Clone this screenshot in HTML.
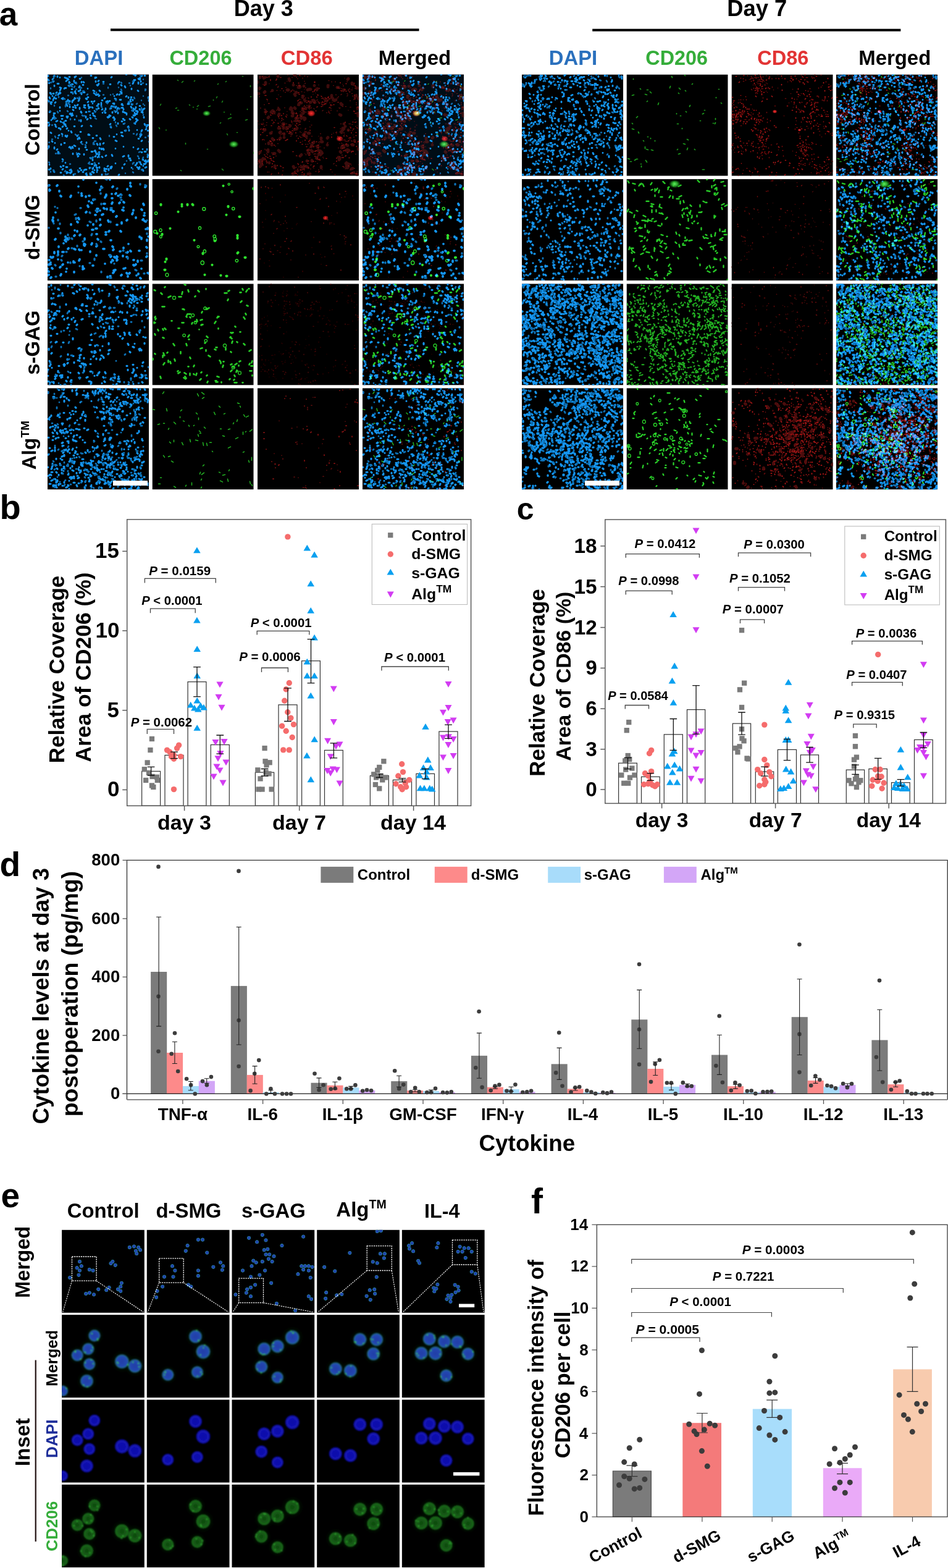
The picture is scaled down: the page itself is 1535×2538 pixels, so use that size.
<!DOCTYPE html><html><head><meta charset="utf-8"><style>html,body{margin:0;padding:0;background:#fff}svg{display:block}</style></head><body><svg width="1535" height="2538" viewBox="0 0 1535 2538" font-family="Liberation Sans, Arial, sans-serif" font-weight="bold"><defs><filter id="soft" x="-5%" y="-5%" width="110%" height="110%"><feGaussianBlur stdDeviation="0.45"/></filter><filter id="soft2" x="-10%" y="-10%" width="120%" height="120%"><feGaussianBlur stdDeviation="0.9"/></filter><radialGradient id="glowG"><stop offset="0" stop-color="#60f060"/><stop offset="0.5" stop-color="#30c030" stop-opacity="0.8"/><stop offset="1" stop-color="#108010" stop-opacity="0"/></radialGradient><radialGradient id="glowR"><stop offset="0" stop-color="#ff3030"/><stop offset="0.6" stop-color="#d02020" stop-opacity="0.8"/><stop offset="1" stop-color="#801010" stop-opacity="0"/></radialGradient><g id="D00" fill="none" stroke-linecap="round"><rect width="164.2" height="164.2" fill="#020a12"/><path d="M143 59l0 0M63 160l-1 1M38 65l2 1M155 148l0 0M153 90l-1 2M93 62l1 0M144 76l-1 1M4 61l-1 0M107 69l1 2M25 153l-1 1M84 119l0 1M94 55l0 2M161 84l-1 1M68 151l-0 1M34 8l-2 1M19 98l-1 1M51 157l-1 1M31 10l-1 1M150 8l0 0M41 31l-0 0M28 111l-1 0M88 133l1 1M157 140l1 1M146 26l1 1M92 155l0 1M62 61l1 0M54 74l-0 2M22 22l-0 0M44 50l1 1M71 145l2 0M111 60l-1 1M32 43l-2 1M21 30l-1 1M128 65l-0 0M62 68l-0 2M136 151l-0 0M20 29l-1 1M30 150l2 0M78 5l-1 1M145 150l1 1M20 5l0 0M141 79l1 1M87 46l-0 1M30 22l-2 0M38 158l0 1M149 6l1 0M120 49l2 1M150 97l2 1M95 131l-1 1M55 109l-1 1M11 118l0 2M92 152l-0 1M83 55l-1 0M31 48l-1 0M80 112l1 2M82 32l-2 1M78 125l-0 1M133 72l1 1M105 61l0 1M85 103l1 2M51 42l-1 1M117 32l-1 1M81 151l-1 1M123 56l0 1M23 72l1 0M4 30l1 0M74 26l2 1M100 66l2 1M7 108l1 1M156 145l1 0M56 83l-1 1M55 12l0 1M74 151l-1 2M139 66l1 1M43 115l2 1M139 13l-1 2M51 102l1 2M73 47l0 0M44 28l1 1M121 151l-0 1M78 132l-1 1M143 1l-1 1M52 7l1 0M93 156l1 1M132 90l0 1M66 44l-1 1M152 16l-1 0M149 7l0 1M151 11l-0 1M123 72l-1 0M50 128l2 1M27 23l0 0M21 76l1 1M51 120l0 1M99 153l0 2M22 159l-1 0M16 15l2 0M150 100l0 1M154 154l1 2M73 63l1 0M131 37l0 1M124 61l1 1M49 104l-0 1M41 57l1 1M33 41l1 2M115 55l0 0M90 12l1 0M5 152l-0 1M147 104l1 0M35 4l1 0M25 148l1 0M102 16l-1 0M3 146l-0 0M28 5l2 1M141 66l1 0M83 15l-1 2M21 24l-1 2M119 94l2 0M160 88l-1 1M9 41l0 1M83 48l-1 0M157 80l1 2M132 47l-0 1M89 62l0 0M102 85l1 1M20 21l2 1M2 43l-0 1M69 70l1 1M40 117l1 2M83 144l0 0M157 2l1 0M42 162l0 1M12 81l1 1M61 50l-2 0M54 93l-1 0M147 13l0 2M25 84l-1 1M140 9l0 2M142 9l0 0M153 2l-1 1M108 47l-1 0M157 55l-1 1M80 158l-0 0M41 66l-2 1M25 78l2 1M84 150l-0 1M52 152l1 0M147 153l0 0M159 125l-2 0M137 58l2 1M64 163l-1 0M59 53l2 1M110 120l0 0M108 101l-1 0M19 87l2 1M154 121l-0 0M30 75l-1 0M76 67l1 1M40 24l-1 0M139 55l1 2M143 53l-0 1M113 32l-1 1M109 53l-0 0M37 118l1 2M151 145l1 1M114 62l-0 1M63 110l0 1M37 63l-1 1M58 17l-1 0M20 59l0 0M59 129l0 1M161 121l0 1M102 152l1 0M75 30l1 1M16 75l-2 1M155 138l-1 0M136 48l1 1M53 25l0 1M83 130l-0 1M31 49l1 2M38 154l-2 1M106 70l0 0M88 162l-0 1M55 30l0 2M2 116l0 2M162 130l1 1M18 31l-1 2M65 72l-1 1M13 45l-1 1M119 17l1 1M152 97l-0 1M142 56l0 0M31 158l-0 2M13 39l1 0M67 53l2 0M72 44l-1 0M135 52l1 2M76 43l-1 1M136 23l0 1M46 13l-1 1M84 26l1 1M10 66l0 1M54 61l1 1M131 84l-1 1M41 42l1 0M5 31l1 1M89 56l-1 1M95 44l-0 1M40 43l0 2M6 74l-0 0M31 68l-0 1M3 37l1 2M73 138l0 1M163 37l-0 1M24 137l1 1M138 41l0 1M79 128l0 1M74 66l1 1M41 128l-0 1M52 39l-1 1M159 139l0 1M39 156l-0 1M66 97l2 1M148 136l0 0M10 157l1 1M3 81l-1 2M155 56l-1 2M38 92l1 2M31 6l2 1M75 159l-1 0M23 96l1 1M63 39l-1 0M145 59l1 1M58 158l-1 0M50 132l-1 1M36 13l-1 1M3 154l-1 0M147 120l-1 1M77 146l-1 2M67 54l0 1M17 125l1 1M97 69l1 1M85 112l0 2M104 150l-1 1M77 123l-1 1M5 47l1 1M135 40l-1 1M145 143l-1 2M79 150l-0 0M150 142l0 1M29 81l0 1M131 46l-1 2M82 129l2 0M38 29l2 0M126 62l2 1M11 37l-1 2M103 55l-1 0M104 130l1 2M152 97l-1 2M58 12l1 1M125 19l1 2M84 34l-1 1M92 59l0 1M139 0l2 0M15 29l-1 1M120 99l2 1M44 73l-0 0M122 60l-0 1M96 153l-2 0M106 47l2 1M114 54l-1 2M83 10l-1 1M87 120l0 1M108 35l0 0M79 56l1 1M90 120l-2 1M23 39l2 1M123 80l0 0M61 154l-2 1M45 30l1 1M39 16l2 0M80 99l-1 0M163 139l0 2M145 64l-2 0M114 79l0 1M67 97l-1 1M18 87l-0 0M10 63l2 0M116 162l-1 1M123 117l-0 0M100 43l1 0M123 56l0 0M39 158l-1 0M61 154l2 0M120 48l1 0M37 17l0 1M134 43l1 1M87 49l-0 1M11 2l-1 1M147 7l1 1M29 143l-0 0M125 74l-1 0M61 118l1 0M46 3l-1 1M25 38l0 2M143 147l-1 0M36 43l-0 1M17 127l-0 1M23 67l-1 0M91 111l-1 1M131 131l-0 2M125 145l-1 1M44 4l-0 1M32 99l-1 2M119 41l-2 0M99 68l1 1M70 83l1 1M98 148l-1 1M36 117l-1 1M69 162l2 0M104 149l-2 1M89 42l-1 0M35 12l-0 1M144 73l2 1M33 68l-1 2M104 51l-1 1M29 99l0 1M80 17l1 1M69 66l0 0M111 52l-1 2M76 155l-0 0M36 159l1 1M9 7l-1 1M54 155l1 0M36 52l-0 1M77 5l2 0M54 60l1 2M52 19l-1 2M25 67l-0 0M162 133l-0 1M149 56l-0 1M11 18l0 1M116 12l-1 1M91 121l-0 1M32 87l-1 1M109 72l-1 2M153 60l1 2M137 69l1 1M160 16l-0 0M12 111l0 0M93 38l-1 1M52 54l-0 2M119 29l1 2M10 11l-1 1M16 3l0 1M128 0l-1 0M13 84l1 1M44 38l0 1M73 103l1 0M164 42l0 1M161 141l-1 1M48 99l0 1M11 69l1 2M8 35l0 0M102 80l-1 1M5 45l2 0M48 129l-0 1M9 70l-1 2M67 60l-0 0M65 23l0 0M73 135l-1 0M76 59l0 0M125 91l2 0M153 107l-1 1M1 2l0 1M79 33l-1 0M83 133l-2 1M1 78l1 0M106 52l2 0M41 53l1 0M81 50l-1 1M73 157l-1 1M147 151l1 2M40 63l-1 2M118 28l2 1M156 69l0 1M45 27l0 0M81 128l-1 1M71 2l-1 0M65 37l1 0M27 79l-0 2M69 160l1 1M150 51l-1 0M1 8l1 2M120 76l1 0M97 43l1 2M17 103l0 0M120 99l0 0M2 14l1 0M109 39l2 1M64 122l-1 0M46 54l-1 0M135 139l-1 0M135 37l1 0M9 31l1 0M154 61l-2 0M66 49l0 2M45 39l-2 1M71 125l2 0M159 144l-1 1M34 91l0 0M60 29l-2 0M110 107l2 1M29 83l1 1M78 11l0 1M72 53l1 1M141 62l0 1M132 136l2 0M149 150l-0 1M64 40l-1 0M81 155l-1 0M69 135l1 1M145 90l0 0M51 27l-1 0M16 121l-1 1M34 18l1 1M5 94l1 1M122 54l-2 0M143 72l1 0M163 82l-2 0M104 4l-1 1M145 61l1 0M110 144l-0 0M43 10l-0 2M124 132l-2 1M153 126l-1 0M84 126l-1 0M139 118l-0 0M22 113l0 1M79 147l0 0M163 91l-1 0M128 35l-1 1M49 49l-1 1M21 88l-0 1M160 150l-2 1M32 158l1 1M21 149l1 1M43 84l1 0M112 97l-0 0M20 53l0 1" stroke="#1296f2" stroke-width="2.8"/><path d="M87 52l1 1M119 13l1 1M138 58l-1 1M52 37l-1 0M145 96l-1 2M115 21l-0 0M163 99l0 1M65 32l-1 1M11 50l-0 1M68 142l-1 1M138 144l0 1M159 102l-1 0M44 161l1 0M125 79l-1 1M159 25l-1 1M12 100l1 2M13 128l1 0M54 21l1 1M5 157l-0 1M101 55l0 1M47 67l-0 1M39 19l1 1M70 136l1 0M10 155l1 2M11 72l1 0M51 74l0 1M70 151l0 0M114 14l0 1M78 60l-1 1M26 163l1 1M27 39l1 1M155 134l-1 2M29 156l-1 1M10 5l0 1M14 33l-1 1M76 143l1 1M35 48l1 1M90 15l1 0M79 29l0 2M110 77l0 1M79 56l1 0M92 59l1 1M24 99l-0 1M159 24l-1 0M7 105l1 0M108 59l1 0M30 45l-0 1M72 135l-1 1M139 96l1 0M25 140l-1 1M45 97l1 1M2 110l1 0M132 86l-1 1M103 84l-1 0M155 8l-0 0M2 142l1 1M56 66l1 1M59 27l-2 0M39 17l-2 1M82 51l-0 1M154 14l1 0M98 161l-2 1M106 32l-0 0M133 14l-1 0M16 60l1 2M31 46l0 1M32 59l1 1M152 54l0 2M119 24l1 2M140 37l1 2M18 36l-0 1M90 33l1 0M127 90l-1 2M151 95l-0 1M102 33l-0 0M1 42l-1 0M35 18l1 1M74 113l2 0M94 161l0 1M84 134l-0 0M36 145l1 0M50 98l-0 0M12 3l-1 0M5 22l-0 1M49 155l-0 1M83 127l-1 1M164 109l1 0M44 19l-1 2M150 2l1 1M140 79l0 0M96 46l1 1M146 132l1 1M33 34l1 0M110 41l1 1M55 112l2 1M4 59l1 1M37 72l0 1M6 13l-1 0M138 153l-0 0M1 120l-2 1M7 82l1 0M60 67l-1 0M10 155l-1 0M77 71l2 1M34 45l0 2M48 38l1 1M163 38l0 1M61 114l1 1M75 110l-1 1M27 76l0 1M117 55l-1 1M111 82l1 2M66 144l2 1M134 18l-0 0M78 108l-2 0M139 143l1 0M69 60l-0 0M162 129l0 0M150 125l-2 1M54 21l-1 1M12 70l2 1M108 52l-2 1M138 48l0 0M20 128l-1 0M126 160l-0 0M47 127l-0 0M98 21l-0 1M40 29l1 1M152 154l1 1M55 5l0 0M131 44l2 1M47 14l0 1M152 56l-1 2M157 50l0 0M54 30l-1 0M74 134l-1 0M8 11l1 0M100 99l0 1M138 11l1 0M138 158l1 1M155 35l0 0M46 24l1 0M152 42l-0 0M145 47l-1 1M29 50l0 2M155 48l-0 0M112 57l1 2M155 65l0 1M128 140l-0 0M148 141l-0 1" stroke="#0d6fb4" stroke-width="2.5"/></g><g id="G00" fill="none" stroke-linecap="round"><path d="M14 48l-1 2M41 9l1 1M116 61l1 0M128 70l-3 1M40 54l-2 1M11 86l1 2M43 58l-2 0M66 53l1 0M23 90l-1 0M94 51l-3 1M50 11l-2 2M127 64l0 1M154 73l-3 1M121 96l1 2M99 41l0 1M160 36l-1 0M54 111l0 2M107 15l-1 1M114 43l-1 2M113 153l2 2M46 155l1 1M60 49l1 1M73 56l-1 0M75 50l-2 2M120 11l-1 1M154 56l-0 1M147 3l-1 0M164 126l-0 2M137 94l1 0M125 71l-2 1M69 10l-1 1M111 78l-1 1M105 36l-1 2M89 121l1 0M159 18l-0 2" stroke="#1b871b" stroke-width="1.6"/><ellipse cx="88" cy="63" rx="7.0" ry="5" fill="url(#glowG)"/><ellipse cx="132" cy="113" rx="8.399999999999999" ry="6" fill="url(#glowG)"/></g><g id="R00" fill="none" stroke-linecap="round"><path d="M6 147l-2 2M65 156l0 0M87 123l2 2M64 87l-1 1M147 149l-1 2M54 54l1 1M42 85l0 0M137 49l-0 0M88 139l0 1M67 19l-1 2M69 20l-1 1M98 123l1 0M18 111l0 1M135 47l1 2M84 51l-1 2M153 14l2 2M24 59l-2 2M133 137l-1 1M74 35l-1 2M100 128l-1 1M82 161l0 1M37 103l-1 1M138 87l2 1M3 22l0 1M134 125l1 1M4 126l-1 0M51 7l1 3M63 75l-1 0M43 96l-0 1M43 102l0 0M163 38l-0 1M110 42l2 1M148 123l-1 1M71 46l0 0M18 69l-1 1M163 66l0 1M103 109l2 0M147 7l-1 1M78 100l1 1M123 41l1 1M142 84l0 0M97 116l1 1M54 95l1 1M19 143l-0 0M28 149l-0 1M140 25l-1 1M154 152l-2 1M85 45l1 0M103 149l-0 2M67 47l0 2M113 114l-0 0M91 42l1 1M24 104l2 2M138 90l-1 1M93 45l0 0M42 85l-0 2M70 70l1 1M53 83l-1 1M58 149l1 2M75 19l-0 0M4 139l2 1M76 96l-2 2M12 5l-2 1M24 26l-0 0M55 57l1 2M56 62l2 1M120 34l0 3M75 61l-1 2M9 136l2 1M4 141l-1 0M153 114l2 0M83 122l-2 1M73 55l-0 2M82 127l1 1M58 17l-0 0M92 18l-0 0M121 38l1 1M145 122l1 0M162 63l2 2M13 60l0 1M35 64l-1 2M114 18l0 2M21 95l1 0M12 28l-1 1M71 130l-2 2M57 67l-1 0M78 54l0 1M7 138l0 2M88 114l-1 3M75 148l0 3M23 113l-0 1M62 29l1 0M60 32l1 2M10 89l2 1M34 87l2 0M133 65l2 1M34 123l2 2M157 107l-0 1M140 80l-0 0M82 95l2 0M83 24l-2 1M144 114l2 1M5 144l1 1M160 34l-2 2M147 90l-0 0M13 13l-0 2M0 12l-0 1M41 80l2 0M4 4l-0 1M2 31l-1 0M60 54l1 1M77 72l-1 1M103 103l-0 1M144 143l2 2M17 122l0 3M79 149l2 1M60 1l1 0M104 128l-2 2M76 41l1 2M156 159l-3 1M162 22l-2 0M96 134l0 2M48 86l-1 2M75 70l2 1M137 116l-1 3M163 121l0 0M90 42l-0 1M60 32l-0 0M127 41l-2 1M145 144l3 1M140 118l0 0M144 149l0 2M71 150l-0 0M50 25l-2 0M135 93l1 1M55 56l-2 0M143 144l1 2M70 66l1 1M86 24l-2 0M37 93l-1 1M131 134l2 1M161 161l0 1M114 102l-1 1M85 161l-1 0M62 71l3 0M80 140l-0 0M97 23l-1 2M33 2l0 1M34 56l1 1M129 21l2 0M60 89l0 0M102 124l2 2M102 124l-1 0M162 54l-0 0M68 76l-0 0M26 128l2 0M28 148l0 0M59 160l-2 1M25 59l2 2M91 110l-1 1" stroke="#3c0808" stroke-width="5"/><ellipse cx="87" cy="63" rx="7" ry="5.6000000000000005" fill="url(#glowR)"/><ellipse cx="133" cy="104" rx="6" ry="4.800000000000001" fill="url(#glowR)"/><path d="M22 108l-0 1M22 139l1 0M19 2l-0 0M26 129l-0 0M67 15l0 0M54 27l1 0M97 135l0 1M14 139l0 0M15 78l0 0M66 42l-1 1M34 68l0 1M115 61l1 0M130 21l1 1M49 1l-0 0M98 33l-1 0M158 161l0 0M126 12l-0 0M101 138l-0 1M148 103l1 0M117 53l-0 0M109 47l0 0M83 131l1 0M22 136l0 1M69 81l-1 0M158 109l0 1M68 1l-0 1M22 66l-1 0M39 23l1 0M40 84l-0 0M92 148l-1 0M23 74l1 0M130 100l0 1M23 161l-1 1M27 106l1 0M154 91l0 0M6 123l0 1M116 54l-0 0M106 134l-0 0M120 12l0 0M9 16l0 0M31 8l-1 1M106 45l-0 0M159 129l0 0M52 92l-0 1M23 127l0 0M80 50l-0 0M159 19l0 0M149 106l-0 0M39 66l0 1M61 82l0 0M69 18l-1 0M41 151l1 0M70 67l1 1M21 9l0 1M93 132l0 1M58 125l-1 0M66 75l-1 0M83 140l-1 0M20 136l1 0M142 24l-1 1M153 108l0 0M19 4l-1 0M151 160l-0 1M35 71l-0 0M63 84l0 0M58 1l-0 0M120 97l-0 0M66 103l-0 1M73 158l-1 1M41 82l0 0M88 100l-0 0M78 38l0 0M37 5l1 0M63 131l0 1M64 79l-1 1M164 146l0 0M67 18l-0 0M42 64l0 0M99 114l-1 1M21 8l0 0M100 46l0 1M100 23l-0 0M69 44l0 1M163 53l-1 0M27 141l-1 0M70 154l0 1M32 105l-0 1M83 43l-1 1M147 107l-0 1M124 49l-1 0M145 100l-0 0M20 107l1 1M108 48l0 1M24 149l-1 1M73 141l0 1M80 117l-1 0M157 33l-0 1M65 66l0 1M8 144l-0 0M140 106l0 0M71 162l-0 0M93 13l-1 0M54 100l-0 0M25 140l1 1M151 86l0 1M150 80l0 0M156 59l1 1M26 77l1 1M117 46l0 0M13 34l1 0M158 39l-0 1M137 115l1 0M26 134l0 1M85 106l-1 1M75 153l0 1M104 39l-0 0M105 44l-0 1M142 77l-0 1M159 84l0 0M41 156l0 0M156 60l-0 0M24 74l-0 0M75 100l1 0M142 122l0 1M80 104l-0 0M63 107l0 1M130 45l1 0M29 116l0 0M91 46l1 0M120 101l0 1M112 136l-1 0M82 151l0 0M14 149l-0 1M72 34l0 0M151 104l0 0M97 33l1 1M91 149l-1 1M13 133l1 0M118 154l1 0M128 140l0 1M99 138l-1 0M77 106l0 1M90 140l1 1M96 109l-1 0M43 96l-0 0M135 107l0 0M30 152l-1 1M47 80l-0 0M140 123l-0 1M71 62l0 0M42 73l-0 0M92 108l-0 0M24 111l-1 0M89 28l1 0M159 63l-1 0M152 94l-0 1M68 20l-0 0M158 18l0 1M8 145l-0 0M88 41l0 0M16 5l-0 0M65 7l0 0M49 105l-1 0M11 49l0 0M60 157l1 0M3 142l-0 0M101 138l-0 0M111 47l-1 1M138 52l0 0M144 112l-0 1M35 84l-1 0M92 129l0 0M33 112l-0 0M11 130l-0 0M160 46l-0 0M153 25l0 0M8 3l-0 1M87 54l0 0M152 125l0 1M36 106l-1 0M96 36l0 1M28 64l0 0M84 52l-0 1M43 81l-0 1M150 102l1 0M127 94l1 0M104 52l-1 0M119 49l-1 0M69 93l0 0M92 12l1 0M103 35l1 1M11 106l0 0M13 137l0 0M145 126l1 1M155 124l0 1M135 80l0 0M94 59l1 0M9 105l-1 1M86 153l-0 0M23 127l0 0M127 33l-0 0M8 94l1 0M123 18l-0 0M76 97l-1 1M112 39l-1 0M143 113l1 0M66 145l0 1M85 90l0 1M154 77l1 0M55 75l-0 0M76 162l-0 0M80 45l0 1M29 74l-0 0M160 77l-0 0M10 88l-1 1M115 38l-1 0M57 63l-0 0M87 116l0 0M20 132l-0 0M11 17l-0 1M65 164l-0 0M143 27l1 0M87 36l-0 1M85 85l-0 0M83 60l-1 0M83 151l0 1M140 99l-0 1M131 36l0 0M20 108l0 0M45 107l1 0M155 89l-0 0M21 108l0 1M44 54l0 0M85 118l-0 0M128 135l-0 1M63 70l-0 1M50 88l-0 0M6 80l0 0M22 83l1 0M14 141l0 0M42 63l0 0M147 91l-0 0M92 26l-0 1M15 128l0 0M125 86l-1 0M75 59l0 0M51 95l-0 1M117 63l-0 0M75 161l1 0M33 21l-0 0M143 131l-0 1M46 21l-0 0M12 34l1 0M8 140l-1 1M98 132l-0 0M76 51l0 0M110 38l-1 0M83 108l-0 1M115 36l-1 1M30 132l0 0M16 130l-0 0M18 47l1 0M89 110l-1 0M136 106l0 0M55 75l0 0M15 40l1 1M16 134l1 1M56 91l1 0M68 32l-1 0M56 160l0 0M73 55l0 1M32 147l-0 1M56 5l0 0M100 157l-1 1M119 58l-0 0M31 7l-0 0M37 148l1 1M9 79l0 0M42 80l-0 0M40 162l-0 1M137 134l0 1M64 67l0 1M133 133l-0 0M70 110l-1 0M63 160l-0 1M139 149l-1 0M48 92l0 1M129 59l0 0M139 134l0 1M160 99l-1 0M108 119l0 0M33 79l1 0M62 63l1 0M27 114l0 1M145 12l0 0M144 15l-1 0M63 18l-0 0M31 39l1 1M103 46l-0 0M2 139l0 0M102 96l0 0M64 64l-0 0M76 149l0 0M114 42l0 0M2 129l1 0M153 159l1 0M148 148l-1 0M72 142l-0 0M16 60l0 0M157 14l0 0M78 113l-0 0M65 144l0 0M61 159l1 1M155 88l-0 1M160 49l0 0M62 83l0 0M135 26l1 1M90 116l1 1M161 116l-1 1M34 159l0 0M81 144l1 0M84 56l-0 0M72 113l1 0M32 105l-0 0M82 122l-1 1M93 24l0 1M46 68l1 1M57 25l-0 0M96 119l0 0M11 84l-0 0M37 88l-0 0M70 102l-0 0M16 99l-1 0M76 56l-1 0M144 99l0 0M97 52l-1 1M60 87l-0 1M62 94l-0 1M13 88l0 0M76 11l0 0M73 6l-0 0M154 124l-1 1M138 119l0 1M6 88l-1 1M58 13l0 1M73 162l0 0M153 31l0 0M68 132l0 0M143 52l-0 0M16 142l-0 0M24 144l-0 1M94 141l-0 0M100 137l0 0M3 36l-0 0M140 118l0 0M2 140l0 1M83 43l-1 0M162 109l1 0M159 94l1 0M95 123l0 1M148 135l1 0M161 86l1 1M54 93l0 0M70 147l0 0M78 93l1 0M157 152l0 0M5 97l0 1M134 13l-0 1M93 125l0 0M30 17l0 0M93 124l1 0M151 145l0 0M97 144l0 0M85 127l-1 0M119 49l-0 1M160 160l0 1M46 85l0 0M142 108l0 0M154 35l0 0M112 62l-0 0M130 38l-0 0M53 94l-0 0M163 108l1 1M26 60l-0 0M105 49l1 0M66 82l0 0M69 154l-0 0M65 153l-0 0M24 63l1 1M12 121l-0 0M69 46l-0 0M136 104l0 1M51 81l0 0M117 39l0 1M98 44l0 0M106 38l-0 0M75 163l-0 0M13 61l1 0M150 85l-0 0M31 58l0 0M45 29l-0 0M98 119l1 0M50 88l-1 0M131 119l0 0M15 128l0 0M67 29l-1 1M70 2l-0 0M82 38l-0 0M38 83l0 0M40 71l-1 0M7 81l1 0M100 126l0 1M15 142l1 0M63 62l-0 1M31 16l-0 0M48 106l-1 0M78 148l-0 0M55 77l1 0M151 113l0 0M158 77l-0 1" stroke="#871212" stroke-width="1.6"/><path d="M121 50l-1 0M40 73l0 0M71 28l1 0M76 2l1 0M10 92l-0 0M104 46l-1 0M70 87l-0 0M38 36l-1 0M141 114l-1 1M133 112l0 0M141 80l-1 0M106 58l-1 1M138 107l0 0M57 87l0 0M73 108l-0 0M77 128l-0 0M94 157l1 0M123 95l0 0M152 159l-0 1M108 40l-1 0M69 156l-0 0M154 22l0 0M71 94l0 0M73 153l0 1M72 154l0 1M37 97l-0 0M86 55l0 0M76 3l-0 0M142 153l-0 0M115 40l-1 1M153 81l1 0M19 15l0 0M114 110l-1 1M91 116l-0 0M141 106l1 0M116 17l0 0M141 97l0 0M62 161l1 0M136 32l-1 1M11 61l-0 0M152 147l-0 0M139 113l0 1M48 11l-0 0M136 116l0 0M148 27l1 1M2 80l0 0M128 96l-0 0M121 45l0 0M137 130l0 1M152 16l0 1M63 131l1 1M102 106l-0 0M22 95l-0 1M14 58l0 1M30 10l0 0M11 138l0 0M72 102l0 0M140 150l0 1M150 28l-1 1M121 158l-0 0M76 29l-0 0M51 93l0 0M133 23l-0 0M115 59l0 0M121 42l0 0M145 31l1 1M37 99l-0 0M19 158l-0 0M34 33l0 0M2 81l0 0M94 22l-0 0M147 25l0 1M77 14l-0 1M75 20l0 0M13 64l0 1M156 40l-0 1M87 1l0 0M109 44l-1 1M68 149l-1 0M104 48l0 1M84 76l-0 0M15 140l-0 0M106 127l0 1M13 112l-0 1M34 19l-1 1M151 53l-1 0M62 64l-0 0M72 35l0 0M1 144l-0 1M64 99l-1 1M9 4l-0 0M128 93l-0 1M40 96l-1 1M56 26l0 0M151 91l0 0M37 26l-0 0M87 82l1 0M13 16l0 1M76 154l-0 1M100 112l0 0M132 54l1 1M22 28l-1 0M75 153l1 0M157 38l-0 1M58 64l-1 0M80 42l0 0M78 21l-0 1M9 138l-0 0M76 24l-0 0M79 61l-1 0M59 75l0 1M162 83l-0 0M152 107l0 1M120 36l0 1M161 111l-0 0M144 108l1 1M136 111l0 0M53 29l-0 0M152 113l1 0M7 141l0 0M85 135l0 0M107 136l0 0M84 157l-0 0M134 88l1 0M1 75l0 1M87 25l-0 0M155 115l-0 1M87 146l-1 1M139 88l-0 0M118 50l1 1M22 63l1 0M83 65l-0 0M10 81l0 0M72 59l0 0M9 146l-0 1M99 100l0 0M59 26l-0 1M67 151l-0 0M95 129l0 0M32 3l-0 1M86 130l-1 0M73 149l-0 1M77 92l-1 0M139 18l-0 1M79 56l-1 1M82 113l-1 0M68 40l-1 1M154 112l-1 0M45 14l-1 0M76 50l0 0M78 87l-0 1M94 135l0 1M105 154l0 0M90 32l0 0M40 95l1 0M93 128l0 1M161 157l1 0M135 104l0 0M17 158l-1 0M158 22l-0 1M94 30l-0 0M9 2l-0 0M124 144l-1 1M99 114l-0 0M15 82l-1 0M91 152l-0 0M42 26l0 1M85 104l0 0M89 141l0 1M134 54l0 0M74 54l0 0M10 73l0 1M39 97l-0 0M31 26l1 0M152 124l0 0M15 143l-0 1M60 31l-0 0M97 41l-1 1M134 22l0 0M150 42l0 1M93 116l-0 0M99 17l0 0M11 56l1 1M140 85l0 0M100 109l-1 1M127 147l1 1M6 22l-0 0M78 130l1 0M138 16l-0 0M142 132l-0 1M12 130l0 1M37 77l-0 0M21 133l-1 0M118 54l1 1M157 37l0 1M25 79l0 1M63 150l-0 0M102 117l0 0M58 93l0 0M64 90l-0 0M93 47l-0 0M37 67l-0 0M34 53l-1 0M62 151l-0 0M162 161l-1 1M21 65l-0 0M136 23l1 0M8 142l-0 1M65 49l-0 1M23 92l1 1M81 3l-0 1M151 25l-0 0M143 124l0 1M5 54l-0 1M148 80l1 0M155 98l-0 0M68 100l1 1M105 38l1 1M81 99l0 0M91 129l-0 0M126 162l-1 0M65 162l0 1M129 38l-0 0M34 160l-0 1M99 154l0 1M65 156l-0 0M16 142l-1 0M63 4l0 1M14 122l0 1M91 124l0 0M67 13l-1 1M150 154l0 1M140 94l-0 1M100 22l-0 1M99 45l1 0M49 27l0 0M141 6l-0 0M61 155l-0 0M106 45l-0 0M156 101l0 1M-0 137l0 1M57 80l-0 0M149 23l-1 1M48 60l0 0M1 89l0 0M46 67l0 0M24 130l-0 0M93 43l-1 1M106 46l-0 0M77 88l-0 1M147 58l-0 0M91 118l-0 0M39 74l0 1M161 57l1 0M84 111l1 1M137 112l0 0M146 34l-1 1M16 43l0 0M91 111l0 0M15 4l-0 1M70 60l-1 0M13 56l-1 1M42 85l1 1M116 10l-1 0M158 73l-0 0M76 51l-1 1M157 88l0 0M105 51l1 0M91 55l1 1M83 39l0 0M47 65l1 1M162 118l-0 0M13 18l-0 0M96 116l-1 0M35 87l0 0M139 123l0 1M60 151l0 0M70 41l0 0M92 28l-0 0M56 61l-0 0" stroke="#510a0a" stroke-width="1.6"/></g><clipPath id="ca000"><rect width="164.2" height="164.2"/></clipPath><clipPath id="ca001"><rect width="164.2" height="164.2"/></clipPath><clipPath id="ca002"><rect width="164.2" height="164.2"/></clipPath><clipPath id="ca003"><rect width="164.2" height="164.2"/></clipPath><g id="D01" fill="none" stroke-linecap="round"><path d="M120 155l-1 1M111 23l-1 1M21 142l-1 1M152 49l1 1M133 26l1 1M67 36l-0 0M60 96l-0 2M161 125l-1 1M38 73l-0 1M29 98l-1 1M120 70l-0 2M130 118l-1 1M138 55l-1 2M149 116l-1 0M3 17l1 1M77 58l1 0M19 19l-0 1M105 31l-1 0M26 104l-0 0M50 63l1 2M139 139l1 1M109 147l1 0M96 48l-0 1M124 145l-1 0M53 90l-1 1M65 43l1 2M9 62l-0 1M18 109l0 1M152 145l0 0M98 67l1 2M90 57l-2 1M140 131l-1 0M80 48l2 0M2 10l1 0M7 144l1 1M113 74l-1 0M17 122l0 1M81 97l1 1M147 153l-0 1M107 52l-1 1M52 130l-1 2M74 33l-0 1M139 50l-0 1M85 51l-0 0M22 154l-1 2M128 126l1 0M123 46l0 0M21 27l1 1M29 100l1 1M129 16l-0 1M106 12l-1 1M92 113l-2 0M117 38l-1 1M105 131l1 1M18 80l-1 0M126 144l-0 0M122 124l-0 1M44 83l0 0M133 152l-1 1M13 97l-1 1M62 28l0 1M134 116l1 1M101 1l0 0M95 90l-1 0M71 38l1 1M94 86l1 0M55 27l1 0M11 118l0 2M93 137l0 0M156 59l1 0M105 109l1 1M50 12l0 0M6 159l-1 1M123 111l0 1M81 52l-1 1M34 112l-1 1M80 108l-1 1M144 156l0 0M24 118l2 0M129 66l-1 1M9 67l0 2M155 65l-1 1M112 132l-0 0M43 150l0 1M13 54l-0 0M112 129l1 2M55 23l-0 1M105 38l-1 2M101 157l1 0M143 138l-1 1M107 114l-1 1M80 89l-1 0M5 126l1 1M103 125l-1 1M44 135l-0 0M5 135l0 0M59 105l1 1M42 133l0 2M114 27l1 0M38 27l-1 2M59 145l-2 1M143 62l0 1M2 155l-2 1M16 10l-1 1M107 151l-1 1M118 84l1 1M59 107l1 1M149 93l-0 1M100 84l-1 1M30 150l-0 0M31 145l-0 0M3 17l-0 2M73 140l1 0M91 40l2 0M95 25l-0 2M123 37l1 1M157 68l2 1M102 99l1 0M60 105l1 1M134 11l1 1M78 80l2 0M17 117l-0 2M146 132l-0 2M57 141l-0 2M152 95l0 2M94 28l-1 2M159 81l-0 0M128 152l1 1M55 115l-0 0M29 93l0 1M87 12l-0 1M95 26l0 1M9 126l-1 1M91 47l1 1M121 50l2 1M43 113l2 1M2 131l1 0M118 25l1 0M97 158l-0 1M103 134l-0 1M4 137l1 1M150 160l1 1M17 130l0 0M160 110l1 1M58 0l-0 1M85 65l0 1M101 123l-1 0M162 152l2 1M163 93l-0 0M112 60l-1 1M112 125l1 1M72 104l-1 2M130 157l0 1M8 66l0 1M33 135l0 0M157 55l-0 0M32 96l1 2M1 149l1 1M48 69l1 1M104 24l0 0M69 117l-0 1M162 79l-0 2M86 74l-1 1M2 138l-0 1M79 123l-0 1M108 126l1 1M63 53l-1 1M74 82l-2 0M74 73l0 1M68 27l0 0M107 148l1 1M155 40l1 2M65 75l-0 0M159 12l-1 1M25 138l-1 1M67 27l0 0M79 6l-0 0M0 145l-0 0M85 17l-0 1M44 91l-1 1M134 6l-0 1M118 117l-1 0M51 114l1 1M131 105l0 0M102 50l2 0M48 84l-0 1M161 98l-0 2" stroke="#1296f2" stroke-width="3.8"/><path d="M108 137l0 0M50 22l0 0M10 72l-0 0M68 54l1 1M39 96l1 1M79 105l1 2M68 69l2 1M57 101l1 0M46 63l1 1M101 160l2 0M1 11l1 0M102 69l-0 1M127 119l0 0M158 10l2 1M52 141l0 0M119 26l1 0M113 15l-1 1M13 158l1 0M89 14l-2 1M101 123l1 0M94 0l2 1M161 88l0 1M79 67l-0 2M22 131l1 1M12 45l0 0M78 51l2 0M39 112l1 0M69 136l-1 0M12 139l1 1M24 124l-1 1M77 33l-2 0M37 135l-0 1M33 90l-0 1M87 40l-0 1M76 129l-0 2M17 66l0 1M153 132l-2 0M21 87l0 1M2 79l-0 0M72 89l-1 2M48 108l0 1M16 124l-0 0M142 147l2 1M87 150l0 1M30 118l1 0M120 34l-1 0M161 67l-0 0M35 95l0 2M161 120l0 1M46 64l-0 1M46 57l-2 1M20 72l0 1M123 116l-1 0M16 47l-0 0M86 101l1 1M54 47l-1 0M119 30l-1 0M150 8l-0 1M102 47l2 0M130 127l-0 2M157 153l-1 0M86 23l0 1" stroke="#0d6fb4" stroke-width="3.4"/></g><g id="G01" fill="none" stroke-linecap="round"><path d="M20 147l1 0M164 15l-0 1M123 44l0 1M115 11l0 0M29 80l0 0M68 99l-0 0M139 119l-1 1M23 129l-0 1M151 127l-1 0M102 100l-1 0M21 134l-0 0M138 95l0 1M97 139l-0 0M111 156l0 0M82 120l0 1M8 88l0 0M120 58l-0 0M141 61l1 0M16 89l0 1M48 41l-0 0M57 41l-0 1M48 44l0 0M121 157l-1 0M65 41l1 1M85 155l-0 0M14 41l-0 1M42 53l0 0M138 91l0 1" stroke="#2de12d" stroke-width="4.2"/><path d="M127.4 20.6a1.6 1.6 0 1 0 3.3 0a1.6 1.6 0 1 0 -3.3 0M4.0 55.3a2.1 2.1 0 1 0 4.3 0a2.1 2.1 0 1 0 -4.3 0M78.7 135.6a2.6 2.6 0 1 0 5.1 0a2.6 2.6 0 1 0 -5.1 0M122.6 8.4a1.6 1.6 0 1 0 3.2 0a1.6 1.6 0 1 0 -3.2 0M98.5 92.6a2.2 2.2 0 1 0 4.5 0a2.2 2.2 0 1 0 -4.5 0M12.2 93.3a1.7 1.7 0 1 0 3.3 0a1.7 1.7 0 1 0 -3.3 0M82.8 117.0a2.1 2.1 0 1 0 4.1 0a2.1 2.1 0 1 0 -4.1 0M99.7 97.4a2.2 2.2 0 1 0 4.3 0a2.2 2.2 0 1 0 -4.3 0M75.1 79.4a2.0 2.0 0 1 0 3.9 0a2.0 2.0 0 1 0 -3.9 0M2.2 85.2a2.5 2.5 0 1 0 5.1 0a2.5 2.5 0 1 0 -5.1 0M129.1 47.9a2.1 2.1 0 1 0 4.3 0a2.1 2.1 0 1 0 -4.3 0M21.7 155.1a2.3 2.3 0 1 0 4.5 0a2.3 2.3 0 1 0 -4.5 0M134.7 132.1a2.2 2.2 0 1 0 4.4 0a2.2 2.2 0 1 0 -4.4 0M72.6 109.4a1.8 1.8 0 1 0 3.7 0a1.8 1.8 0 1 0 -3.7 0M81.3 48.5a2.5 2.5 0 1 0 5.0 0a2.5 2.5 0 1 0 -5.0 0M11.6 82.8a2.0 2.0 0 1 0 3.9 0a2.0 2.0 0 1 0 -3.9 0" stroke="#2de12d" stroke-width="1.4"/></g><g id="R01" fill="none" stroke-linecap="round"><ellipse cx="110" cy="63" rx="5" ry="4.0" fill="url(#glowR)"/><path d="M136 30l0 0M113 66l1 0M37 9l0 1M111 31l1 0M91 121l0 1M55 100l-1 1M112 63l0 0M134 90l0 0M17 14l1 1M37 37l0 0M47 96l-0 1M135 147l0 1M78 123l-0 0M133 24l0 1M12 105l0 0M23 57l-1 1M99 15l-1 0M28 107l-0 1M44 101l1 0M64 46l-1 0M45 68l0 0M94 23l-1 0M108 62l0 0M109 126l-0 0M143 20l-1 0M98 13l1 0M4 40l0 0M9 113l-0 0M101 102l-1 0M57 116l-0 1M25 122l1 0M6 13l0 1M21 118l1 0M54 131l0 0M151 106l-0 1M129 55l0 0M4 129l0 1M141 97l-0 0M99 16l-0 0M120 113l-0 1M48 80l-0 0M8 70l-0 0M13 12l0 1M124 73l0 0M42 72l-0 0M84 7l0 0M115 44l0 1M117 73l0 0M66 159l-0 0M142 105l-0 0M128 36l0 0M111 140l1 0M45 60l-0 1M47 71l-0 0M141 92l-1 0M20 117l1 1M113 61l-0 0M32 80l-1 1M107 13l1 1M117 71l0 0M102 32l-1 1M107 71l-0 1M87 69l-0 0M27 67l0 0M26 88l0 0M50 112l1 1" stroke="#700f0f" stroke-width="1.5"/><path d="M24 15l-1 0M42 159l0 0M156 33l0 0M88 111l-0 0M27 68l-1 1M93 49l1 1M163 159l0 0M103 138l0 0M32 116l1 0M91 94l-0 1M36 119l1 0M48 121l-1 1M154 27l0 1M38 110l-1 0M141 29l1 0M120 108l-1 1M144 24l0 0M11 136l0 0M102 122l-0 0M34 69l1 1M119 71l1 0M143 101l-1 1M13 65l-0 0M63 74l0 0M144 94l-1 1M24 29l0 1M134 37l-0 0M120 59l-0 0M37 74l1 0M56 80l-0 0M104 127l0 0M123 121l1 0M142 94l1 0M19 132l-0 0M14 34l-0 0M21 113l-0 0M20 141l-1 0M43 84l0 0M13 23l0 1M45 26l-0 0M13 51l-0 0M64 72l0 0M73 149l-0 1M9 78l0 0" stroke="#430909" stroke-width="1.5"/></g><clipPath id="ca010"><rect width="164.2" height="164.2"/></clipPath><clipPath id="ca011"><rect width="164.2" height="164.2"/></clipPath><clipPath id="ca012"><rect width="164.2" height="164.2"/></clipPath><clipPath id="ca013"><rect width="164.2" height="164.2"/></clipPath><g id="D02" fill="none" stroke-linecap="round"><path d="M95 76l-1 1M38 156l1 0M77 100l-0 1M100 71l-0 2M7 112l-1 1M1 149l0 0M41 88l0 2M16 44l-1 0M137 6l-1 0M52 133l2 0M101 107l-2 1M85 107l-0 1M51 152l2 0M133 110l1 1M115 54l0 0M43 127l-0 1M138 25l-1 1M18 19l-1 1M141 28l-1 1M139 131l-1 0M139 141l-0 1M5 67l0 0M89 58l-1 0M94 84l-0 2M66 9l-0 2M126 19l2 0M88 51l-0 0M137 20l1 2M70 130l-1 0M33 151l-0 1M143 24l-0 0M145 43l-1 0M47 12l1 1M128 63l-1 0M76 33l0 1M79 121l0 1M113 10l-1 0M144 82l1 1M121 46l-0 1M99 113l-1 1M112 162l-1 2M104 73l2 0M141 21l2 0M93 37l-2 1M102 55l-1 1M114 81l0 1M86 30l-1 1M88 116l-1 0M138 25l1 0M136 52l-1 0M143 147l1 2M15 148l-0 1M158 87l1 0M72 65l1 1M141 150l0 0M11 56l0 1M73 46l1 2M11 33l2 1M153 159l1 1M117 158l-0 1M100 39l0 1M2 105l-0 2M62 36l2 0M13 150l-1 0M86 121l-1 2M105 45l-2 1M133 35l-0 2M28 131l-1 2M153 151l-1 1M52 119l-0 2M71 82l-1 1M54 4l-1 0M3 125l1 2M10 16l-1 0M2 43l-2 1M55 35l2 0M135 153l-0 0M33 71l-1 1M30 33l0 1M24 151l-2 1M54 133l-0 2M38 164l0 0M161 43l-1 1M129 12l1 1M25 52l-1 1M100 69l0 0M120 31l1 1M1 43l-1 2M134 30l2 1M139 39l-0 0M132 27l-1 1M62 131l0 1M34 66l1 0M2 158l-1 0M14 94l-1 1M26 95l-1 0M8 56l2 0M131 163l1 1M107 46l-1 0M59 140l-0 2M115 150l-0 1M7 136l-0 0M59 120l0 1M13 47l-2 1M125 81l-0 2M132 79l1 0M146 8l-0 1M89 101l-0 0M88 161l0 0M111 58l-1 1M93 143l1 2M115 158l-1 0M5 61l-1 0M58 129l0 2M159 42l1 1M84 43l1 0M71 161l-1 1M64 18l1 1M105 58l1 1M5 84l1 0M127 58l1 2M77 109l-1 0M152 107l0 1M54 115l-2 1M45 39l0 1M63 43l1 1M134 30l0 0M19 133l-1 0M89 49l-0 1M15 81l1 0M90 151l1 1M153 50l-1 1M37 144l-0 0M114 21l-1 1M11 70l1 0M145 24l0 2M24 15l0 2M77 109l-0 1M4 71l1 1M90 118l1 2M73 10l0 0M70 99l-2 0M55 44l-1 0M71 110l1 1M118 45l-1 1M6 23l0 1M157 4l-1 2M52 9l-0 1M68 49l-1 0M15 94l-1 0M37 158l-0 0M78 28l0 1M73 1l-1 0M50 144l1 1M61 130l-1 0M27 57l-0 1M65 151l-2 1M22 148l-2 1M134 24l-1 0M103 153l-1 2M39 57l-0 1M80 148l1 0M42 117l-1 0M100 16l-0 1M55 129l2 0M83 145l-1 0M33 114l0 1M72 91l-1 0M13 153l-1 1M138 -0l0 1M33 55l-1 1M6 59l1 0M71 23l-2 1M55 106l-1 2M73 47l-1 1M8 159l2 0M141 97l0 0M150 107l-1 1M84 143l-1 1M121 32l-1 0M52 104l-2 1M112 22l1 2M162 15l-1 1M100 1l2 1M4 160l0 0M139 138l1 2M124 58l0 1M121 7l1 1M90 85l0 2M27 130l-1 1M153 19l-0 0M8 32l-1 1M118 85l-1 0M138 102l2 1M52 125l-0 0M33 128l-1 1M92 71l-1 0M75 117l-1 1M152 29l1 0M76 16l-1 1M137 7l-1 0M17 141l-0 2M45 60l-1 2M85 60l-1 1M64 23l1 1M115 28l1 2M60 7l0 1M93 80l1 1M132 81l2 2M1 139l-1 1M161 153l-0 0M102 39l-0 0M57 8l2 1M42 55l0 0M130 97l1 2M49 124l1 0M2 158l-2 0M78 53l0 1M127 64l1 1M158 141l-0 0M122 88l-1 1M87 27l-0 2M48 66l-1 1M70 159l1 0M129 46l-0 1M99 96l-0 2M138 9l1 0M98 56l-0 0M149 79l0 0M70 122l-0 0M33 3l-0 1M153 24l-0 0M83 8l0 2M150 22l2 0M92 158l1 1M85 54l2 1M155 127l-1 1M35 44l-0 1M142 148l0 1M138 144l-1 0M163 25l0 1M139 162l0 0M155 86l0 0M30 157l1 1M17 9l2 1M24 148l-1 1M150 105l-2 1M32 122l0 1M136 26l1 1M161 49l-1 1M153 133l-0 0M109 147l-1 0M134 18l1 1M46 39l1 2M10 160l-0 1M57 57l-2 1M4 53l-1 1M69 158l-2 0M130 139l-0 1M5 130l0 1M153 149l1 1M56 33l1 0M4 133l-1 0M153 148l1 0M69 142l2 0M6 2l0 1M105 69l1 0M150 75l0 1M96 56l-1 1M89 11l-1 0M154 44l0 1M124 79l1 1M21 164l-1 1M116 154l-2 0M129 133l-1 0M163 55l-1 1M41 15l2 1M44 1l-1 1M76 149l0 0M80 99l0 0M90 65l0 0M145 136l0 0M161 20l-1 0M138 18l1 2M81 71l1 1M78 111l-2 1M11 50l-1 1M25 19l-1 0M145 3l-1 0M157 96l-0 1M66 22l-1 0M19 44l0 1M152 147l1 2M14 49l-1 1M11 71l2 0M52 42l1 0M159 152l0 1M139 24l0 1M109 151l-0 2M146 31l-1 0" stroke="#1296f2" stroke-width="3.2"/><path d="M35 83l-0 0M105 156l2 1M59 133l-0 0M33 142l1 1M124 159l0 1M164 135l-1 0M131 159l1 1M39 159l-1 1M6 45l1 1M108 146l-0 0M151 5l-1 2M22 102l-0 1M60 135l-1 2M70 23l0 2M27 163l2 0M106 163l1 1M12 6l-0 2M50 0l1 2M116 30l-1 1M153 60l-0 1M110 45l0 0M46 73l2 1M108 4l1 2M7 101l-1 2M135 154l0 2M52 152l0 2M4 162l-1 1M22 117l-1 1M148 25l1 1M84 57l-0 2M21 2l0 0M67 53l1 0M107 152l-1 0M6 94l-1 1M140 50l-2 1M78 80l-2 1M7 10l0 0M33 46l-1 2M0 142l-0 1M10 23l-2 1M144 40l1 0M22 77l-0 1M5 127l-1 1M144 26l-1 1M36 77l-0 0M126 114l-1 1M41 6l-2 0M154 133l0 1M35 94l-1 2M20 37l0 2M40 116l-2 0M13 147l-0 1M129 31l0 1M7 159l-1 0M140 35l1 2M135 62l1 0M80 30l2 1M123 3l-1 1M101 38l-0 2M115 69l-1 0M124 3l1 1M138 159l0 0M149 76l-1 1M100 19l-1 1M84 12l-0 1M94 63l1 0M54 107l-0 2M26 76l1 0M8 74l0 0M84 86l-0 0M87 84l-2 1M81 33l-1 1M111 125l-0 0M73 143l-0 2M62 7l1 1M73 40l1 0M15 50l-1 1M10 73l-0 0M20 19l-0 1M86 69l1 1M73 110l0 1M3 50l-1 0M149 152l1 0M109 39l-2 0M57 144l1 0M24 18l-1 0M157 70l0 1M19 144l-0 0M82 100l-1 0M3 5l-1 0M143 50l1 1M158 148l-0 1M18 161l0 0M106 61l1 2M35 122l-2 1M147 161l1 0M164 43l-1 1M159 148l1 0M94 152l0 0M98 64l-2 0" stroke="#0d6fb4" stroke-width="2.9"/></g><g id="G02" fill="none" stroke-linecap="round"><path d="M106 53l1 0M143 125l-2 1M74 11l2 2M147 160l-1 0M52 144l3 2M46 110l-0 3M42 141l-1 1M148 54l2 3M67 146l1 1M133 155l-1 1M34 97l2 3M85 96l1 0M81 104l-3 1M3 10l2 1M81 45l-1 2M4 81l1 2M142 78l1 0M87 107l-0 2M127 79l2 1M127 87l2 2M161 141l-3 0M49 13l-1 4M51 63l-3 0M103 159l3 0M55 53l1 1M18 112l1 2M146 8l1 2M123 25l-1 2M20 72l2 2M72 145l-1 3M72 58l1 3M21 5l-1 1M129 140l-2 2M154 10l-2 3M131 79l-1 0M88 85l2 2M13 150l1 3M53 150l2 3M142 14l2 0M115 132l-1 3M90 158l-1 2M111 128l-0 1M17 116l3 0M3 63l2 0M158 129l-1 2M55 97l1 3M17 73l1 2M9 74l1 2M103 103l2 0M156 8l1 0M92 39l-3 2M49 41l3 1M160 133l4 0M17 87l2 1M70 20l-1 1M82 66l-2 0M29 126l1 3M119 104l0 3M162 125l-1 3M148 97l2 2M80 143l-1 1M145 28l-2 2M47 21l-4 0M3 62l-0 2M89 148l-1 1M91 116l3 2M137 129l-3 2M117 15l4 0M127 110l1 1M44 72l-2 0M137 94l1 1M32 60l-1 0M79 154l-2 2M4 113l1 1M162 148l-0 1M20 128l-2 3M80 67l-1 0M61 145l-0 3M133 148l1 2M51 152l3 2M140 132l-0 1M134 69l1 1M133 160l4 0M125 11l-2 1M52 1l2 1M1 121l0 2M17 118l-0 1M69 61l3 0M5 53l-1 2M81 58l-3 1M105 150l3 1M58 134l1 0M62 49l-3 0M58 10l1 3M30 20l-4 2M153 35l2 1M14 15l2 2M127 86l-1 1M109 124l2 3M25 111l-1 1M151 48l1 2M160 107l-3 2M68 132l-1 2M45 143l-3 2M60 90l-1 0M115 126l1 0M51 41l-1 0M61 54l1 1M108 53l-3 2M57 49l-1 2M126 154l-1 1M60 83l-2 3M61 119l1 2M76 74l0 0M112 159l-0 1M138 141l-1 1M137 140l-1 3M36 122l1 3M129 130l-2 1M107 72l-0 1M104 157l-2 0M130 134l2 1M6 56l-1 2M87 8l0 1M130 93l-1 3M65 63l-1 2M26 124l-0 3M101 106l2 1M103 61l-2 3M16 37l4 0" stroke="#28ca28" stroke-width="2.7"/><path d="M86.4 40.6a1.5 1.5 0 1 0 3.0 0a1.5 1.5 0 1 0 -3.0 0M63.3 51.0a2.4 2.4 0 1 0 4.8 0a2.4 2.4 0 1 0 -4.8 0M67.8 62.9a2.0 2.0 0 1 0 4.1 0a2.0 2.0 0 1 0 -4.1 0M114.9 100.0a2.6 2.6 0 1 0 5.2 0a2.6 2.6 0 1 0 -5.2 0M83.3 39.8a2.3 2.3 0 1 0 4.6 0a2.3 2.3 0 1 0 -4.6 0M84.6 92.3a2.2 2.2 0 1 0 4.4 0a2.2 2.2 0 1 0 -4.4 0M128.8 135.4a2.4 2.4 0 1 0 4.9 0a2.4 2.4 0 1 0 -4.9 0M32.9 22.8a2.6 2.6 0 1 0 5.2 0a2.6 2.6 0 1 0 -5.2 0M49.4 83.5a2.2 2.2 0 1 0 4.4 0a2.2 2.2 0 1 0 -4.4 0M139.3 144.4a2.3 2.3 0 1 0 4.5 0a2.3 2.3 0 1 0 -4.5 0" stroke="#28ca28" stroke-width="1.4"/></g><g id="R02" fill="none" stroke-linecap="round"><path d="M42 113l-1 1M19 4l-0 1M57 109l-0 1M60 5l-0 1M44 146l0 1M87 42l-0 0M119 1l-1 0M36 71l1 0M145 3l1 0M93 156l1 1M94 109l-1 1M0 114l0 0M82 135l1 1M17 60l-0 1M22 -0l0 1M159 50l-0 1M45 143l1 1M62 120l0 0M44 36l-1 0M6 101l-1 1M5 72l0 0M117 43l0 0M10 130l-0 0M91 132l1 1M129 28l-1 1M54 129l1 0M75 114l-0 1M6 142l0 0M126 124l1 0M46 33l-0 0M62 31l-0 0M143 135l-1 1M81 41l-0 1M101 8l1 0M97 146l1 1M157 105l1 0M41 153l0 0M53 33l-1 1M98 62l-0 0M72 125l-0 0M41 15l0 0M29 18l0 0M127 69l-1 0M106 77l0 0M30 136l-1 1M114 78l1 0M106 146l-0 0M159 139l0 1M25 140l1 1M52 53l-0 0M65 50l0 1M61 19l-0 0M81 14l0 1M67 33l0 0M95 28l0 1M68 109l-1 0M149 145l0 0M17 28l-0 1M53 40l-0 0M79 52l-0 0M91 69l-1 0M23 116l-0 0M43 45l-0 0M90 42l0 0M164 54l-1 0M86 51l-0 1M100 30l-0 0M152 25l0 0M87 39l-1 1M124 67l-0 0M90 157l-0 1M62 147l-0 1M6 135l-0 0M147 19l0 1M56 154l0 0M66 47l-0 0M89 30l-1 0M157 163l1 0M0 19l0 0M52 118l0 1M22 26l0 1M86 159l0 1M162 51l0 1M62 94l1 1M43 51l0 0M44 28l-1 0M112 65l-1 1M42 21l-0 0M101 87l0 0M56 94l-0 0M84 42l-0 0M47 63l-0 0M69 46l1 0M47 19l0 1M143 9l-0 0M52 29l0 1M115 144l0 0M125 72l0 0M65 32l-1 0M97 30l0 0M61 98l0 1M161 34l-0 0M19 101l0 0M157 100l0 0M162 54l1 1M56 55l-0 0M142 125l0 1M7 116l0 0M22 36l1 1M68 145l-0 1M153 28l-1 0M107 77l0 0M69 26l-1 0M67 29l0 0M64 19l-0 0M12 132l0 0M146 66l0 0M51 112l0 0M92 33l-1 0M145 132l0 0M34 34l0 0M102 38l-0 0M57 57l1 1M48 12l-0 0M94 106l-1 0M44 28l0 0M76 40l1 1M144 140l1 1M67 162l-1 0M124 78l-0 0M102 103l0 0M48 47l0 1M29 133l-1 0M43 81l-1 0M45 48l-1 1M60 48l-0 1M53 115l1 0M161 16l-0 0M157 16l1 0M24 30l-0 0M82 143l-0 1M150 144l1 1M5 81l0 1M160 75l0 0M9 13l0 1M41 142l1 0M88 49l0 1M18 139l-0 1M66 36l1 0M42 58l0 1M115 59l-0 0M123 9l0 0M26 146l0 1M28 19l1 0M28 115l0 0M64 34l-0 0M69 163l-0 0M8 90l-1 0M71 154l-1 1M98 44l0 0M142 65l0 1M100 52l1 0M87 35l-1 0M77 154l-0 0M73 28l-1 0M102 41l0 0M29 27l0 0M116 85l0 0M77 131l1 1M121 42l0 0M53 104l-0 0M80 130l0 0M12 141l0 1M14 65l-1 1M60 117l0 0M126 133l-0 0M69 31l0 0M4 66l-1 1M41 21l-0 0M13 123l0 0" stroke="#430909" stroke-width="1.6"/><path d="M88 133l-0 0M102 39l1 0M28 151l0 0M164 163l-1 0M18 124l-0 0M112 114l0 0M46 29l0 0M47 16l0 0M99 94l0 1M54 54l-1 0M117 60l-0 1M30 154l0 0M22 68l0 0M137 14l0 1M48 18l1 0M11 54l0 1M157 38l0 1M41 20l-1 0M7 57l1 0M39 96l1 1M79 100l0 0M25 122l0 0M154 60l-0 1M40 126l-1 0M163 160l0 1M128 62l1 0M93 115l0 1M148 21l-0 0M110 136l-0 0M45 124l-0 0M41 129l0 1M13 125l-0 0M113 55l-0 0M45 41l-0 1M153 159l0 0M58 127l0 0M54 103l-1 1M138 130l-1 1M147 31l-1 0M83 3l-0 0M46 108l0 0M45 127l-1 0M70 52l-1 0M4 88l0 0M23 138l-0 1M68 98l-0 1M96 162l0 0M16 52l-0 0M16 31l1 0M6 65l1 1M101 4l-1 0M47 78l0 0M146 27l1 0M6 69l0 0M11 67l-0 0M21 128l1 0M123 10l-0 0M25 150l1 0M131 16l-0 0M84 99l-1 0M67 45l0 1M123 140l0 0M61 141l0 1M162 142l0 0M25 116l-1 0M145 29l0 0M154 141l-0 0M8 139l1 0M80 152l0 0M42 39l-0 1M18 146l-0 0M41 21l-0 0M33 133l-1 1M30 15l-1 0M88 162l-0 0M47 28l-1 1M47 59l-1 0M62 151l1 1M25 31l-1 0M123 134l0 1M83 159l-1 1M72 153l-1 0M39 115l0 0M65 13l0 1M108 52l-1 0M35 110l-0 0M125 79l-0 0M86 52l-1 1M118 66l-1 1M150 151l0 0M62 17l-1 0M7 123l-0 1M157 30l-1 0M86 52l1 0M67 155l0 1M56 123l-0 0M83 85l0 0M106 56l-1 1M162 94l-0 0M16 76l-0 0M148 66l0 0M163 58l-1 1M64 148l-0 0M77 104l0 0M7 122l1 1M90 139l-0 1M78 90l0 0M150 19l0 1M126 7l0 1M1 70l-0 0M19 151l-0 0M87 106l0 1M15 142l1 1M33 159l-0 0M42 48l1 0M42 12l-0 0M48 29l-0 0M38 113l-0 0M3 117l-0 1M16 68l0 1" stroke="#280505" stroke-width="1.6"/></g><clipPath id="ca020"><rect width="164.2" height="164.2"/></clipPath><clipPath id="ca021"><rect width="164.2" height="164.2"/></clipPath><clipPath id="ca022"><rect width="164.2" height="164.2"/></clipPath><clipPath id="ca023"><rect width="164.2" height="164.2"/></clipPath><g id="D03" fill="none" stroke-linecap="round"><path d="M132 95l-1 0M162 21l-0 2M12 60l2 1M146 153l-0 1M30 99l0 1M16 45l-0 0M29 81l1 0M132 144l0 0M144 1l1 1M102 140l-0 1M20 122l0 1M90 110l-1 1M103 80l0 1M94 153l-1 1M35 99l-1 1M4 47l-1 1M99 137l-1 0M85 152l-0 0M27 108l-0 2M109 144l0 0M54 135l-2 2M37 114l-0 1M91 131l0 0M113 35l0 2M89 2l-1 1M126 138l-1 1M142 41l0 0M8 122l-0 1M107 130l-0 1M102 58l1 2M132 163l-0 1M121 163l-1 2M95 13l2 1M39 67l-1 1M104 123l-1 1M105 93l1 1M1 142l0 0M125 124l1 1M124 86l2 0M104 33l0 1M43 119l-1 1M35 150l0 0M27 152l0 1M37 144l-1 1M101 101l0 1M48 0l-1 0M93 149l0 1M121 106l-0 1M82 7l0 2M8 126l-1 2M18 140l-0 0M100 156l-1 0M23 131l0 2M8 149l-2 1M58 115l-2 0M114 49l1 1M62 121l1 1M42 109l1 0M113 139l-1 0M123 149l-2 0M140 10l-1 1M65 140l-0 0M114 152l-2 0M11 14l-2 0M143 20l-0 0M66 122l-1 0M48 142l1 0M136 159l1 0M144 34l0 1M141 49l0 2M120 113l2 0M109 119l-1 1M67 121l2 1M145 10l0 0M90 74l0 2M94 134l2 0M71 21l-0 0M45 85l-1 0M28 66l2 0M87 5l-1 1M122 66l-1 2M98 151l1 1M95 39l-0 1M79 107l2 0M90 33l1 1M53 79l-1 1M33 102l-1 0M47 8l1 1M8 62l1 0M23 116l1 0M153 82l-0 2M28 14l-2 0M130 24l-2 0M14 157l-1 1M5 140l1 1M107 162l-1 1M82 120l1 1M151 156l-1 0M91 61l1 0M25 110l-2 1M127 132l1 0M26 8l-1 1M118 120l-0 0M128 89l-0 2M123 123l1 1M124 22l-2 0M11 157l-0 2M14 151l0 1M91 4l1 1M151 129l-0 1M37 116l-1 2M109 131l1 0M95 68l-1 1M103 114l0 1M78 138l-1 0M144 47l-0 1M129 44l-1 0M138 141l-2 0M147 160l1 2M137 16l-2 0M34 88l0 1M136 58l1 2M131 99l-0 0M101 42l0 1M26 93l0 0M112 48l-0 0M12 147l1 1M97 124l0 1M121 114l0 0M47 112l-0 0M134 164l-1 0M80 96l-1 1M137 131l1 0M76 97l-0 0M95 14l-1 1M78 9l-2 1M60 88l1 0M146 73l-1 0M91 39l0 2M103 116l-1 0M94 144l0 1M141 22l1 1M25 57l-2 0M14 81l-1 1M100 153l1 1M87 120l-2 0M75 85l0 0M151 106l2 2M80 155l-1 0M117 48l0 0M74 118l-1 0M116 34l1 0M105 54l-0 1M92 155l1 0M141 138l2 1M33 157l1 1M74 102l-0 0M131 152l1 0M48 66l-2 0M101 140l1 0M77 9l-1 0M100 82l2 0M43 77l-1 2M25 158l-1 0M46 38l-1 0M37 68l-1 0M44 153l-2 0M143 43l-1 1M45 31l1 1M67 151l1 0M97 37l1 1M61 162l-1 0M145 12l-1 0M80 153l-1 1M47 76l1 0M42 84l-1 0M56 124l1 2M157 152l1 0M99 152l-1 1M92 46l-0 1M25 68l0 1M96 30l0 1M157 12l1 1M114 34l-0 0M1 50l-0 0M27 2l-1 1M63 14l0 1M100 40l1 1M153 120l-0 1M97 140l1 1M146 162l-1 2M102 80l-1 0M129 85l2 1M105 104l-0 1M89 113l1 0M123 121l2 1M146 19l0 2M94 114l-1 1M11 67l1 2M16 149l-0 2M130 135l0 0M26 104l-1 1M32 160l-2 1M136 156l1 0M38 118l-2 0M81 -0l-0 1M26 72l1 1M135 162l1 1M81 78l1 1M18 141l0 0M131 106l-0 2M161 17l-0 1M76 128l1 2M81 47l0 0M26 40l1 0M71 142l-1 1M87 131l1 0M93 47l0 0M8 101l-2 1M133 61l2 1M122 37l-1 1M99 14l0 0M91 22l-1 0M83 118l1 2M145 47l-1 1M94 92l-0 0M156 119l-1 1M91 86l-0 0M154 55l1 1M77 69l1 1M138 119l-0 1M87 39l-1 0M111 152l-1 0M57 11l1 0M66 12l0 1M143 133l-2 1M99 114l-0 0M139 83l0 0M99 103l1 0M148 69l0 2M8 136l-1 0M70 117l1 1M14 114l0 1M20 69l1 2M109 150l1 1M120 125l0 1M1 6l-0 2M42 68l0 0M121 9l0 1M145 127l0 2M105 32l2 1M113 15l-1 1M119 140l-0 1M119 129l-1 0M125 50l-1 1M14 160l1 1M137 149l1 1M3 140l-0 1M116 156l0 1M36 105l0 0M101 137l-0 2M27 129l-1 1M131 151l-2 0M141 150l-1 1M154 11l1 0M109 19l0 0M146 96l1 0M145 105l1 1M156 151l-1 1M95 7l0 1M58 120l-1 2M116 142l1 2M18 155l0 2M121 164l-0 1M131 150l-1 1M2 107l-1 1M61 151l0 1M99 124l1 1M60 65l-1 0M77 39l0 0M63 132l1 0M19 3l-1 0M161 154l1 0M101 -0l1 1M61 104l1 1M77 8l-2 1M37 129l-0 1M15 130l1 1M100 33l2 0M17 43l1 1M33 101l-0 2M23 137l-0 1M48 52l-0 0M84 153l-0 1M47 157l1 2M6 44l-0 1M45 102l1 1M123 134l-1 0M65 8l-0 1M73 95l-0 1M85 136l0 0M59 133l1 0M152 102l-1 1M35 163l-0 1M136 11l0 1M50 131l1 2M67 145l-1 0M51 154l-1 0M85 -0l-1 1M153 84l1 1M128 124l-0 0M41 83l1 2M149 110l1 1M47 96l0 0M35 119l1 0M45 105l-1 0M111 45l1 1M126 22l1 0M47 3l-1 1M85 38l1 1M92 83l1 1M48 107l1 0M79 31l1 1M8 72l1 1M24 89l-1 0M118 27l1 1M3 155l2 0M69 140l-0 2M27 20l-0 2M33 71l-1 1M120 142l-1 0M80 129l1 2M158 16l1 1M40 37l1 0M112 106l-1 1M116 89l2 0M64 11l0 2M43 145l-0 1M60 138l-0 0M142 116l-1 1M100 111l-1 0M60 45l2 1M140 147l1 0M150 2l0 0M7 130l-1 1M23 72l0 1M26 134l-0 0M83 109l-2 1M75 138l-1 0M9 78l1 0M165 19l-2 1M55 121l-1 0M151 141l-0 1M81 94l-0 2M15 72l1 2M157 144l-1 0M124 5l-1 0M158 48l-1 0M109 33l1 1M96 129l0 0M42 143l1 0M133 93l1 1M126 155l-1 2M4 97l-1 0M134 26l1 1M37 48l-2 1M128 131l0 1M128 149l0 1M146 115l2 0M123 108l-1 1M41 98l-1 2M27 127l-1 0M144 142l-1 2M17 80l1 0M14 136l1 1M122 37l-0 1M96 127l-0 2M5 63l-1 1M102 122l1 2M95 154l-2 0M71 131l-1 0M101 125l-0 1M94 121l-1 0M87 148l-1 0M56 42l0 2M40 118l1 1M142 38l0 1M147 34l1 1M132 113l-2 0M12 100l0 2M78 6l-0 0M70 124l-0 1M89 148l1 1M21 68l1 1M101 160l0 0M158 155l-0 0M136 27l-1 2M15 152l-1 1M31 70l-1 1M101 84l-1 0M24 59l-0 0M84 1l1 1M60 160l-0 0M89 147l1 1M32 125l1 1M131 14l-1 1M146 18l2 0M103 95l2 1M104 44l0 0M117 1l0 1M157 1l1 2M126 149l-1 0M45 56l-1 1M2 50l1 1M36 40l-0 0M88 38l-0 1M34 138l0 0M147 138l1 1M152 125l1 0M144 154l-0 1M90 49l2 1M70 159l1 1M73 5l-0 2M158 10l2 1M38 73l0 0M40 3l0 2M70 123l-1 1M125 162l1 1M150 15l-0 0M155 101l0 1M12 96l0 1M105 94l-1 2M71 157l-0 0M34 78l0 0M134 41l0 0M82 132l-1 0M78 4l-1 2M123 25l1 1M132 8l1 1M141 87l0 2M25 88l-1 0M54 124l1 0M19 47l1 0M117 -0l-0 2M83 132l1 1M51 145l-2 1M132 5l1 1M126 -0l1 1M8 84l1 0M51 128l-0 0M87 161l1 1M142 114l2 1M150 108l-1 1M99 124l1 1M9 157l0 2M32 50l-0 1M140 0l0 0M13 64l0 0M99 9l0 1M93 81l0 2M4 145l0 0M53 23l0 0M103 21l-1 1M135 157l1 2M118 24l-1 2M54 48l-1 1M68 148l-0 1M161 155l1 2M17 63l-0 1M112 132l2 0M101 48l-1 2M102 158l0 0M124 99l-0 0M119 29l2 0M140 20l1 1M138 153l1 1M39 144l1 2M148 31l-1 1M100 113l-2 0M104 51l-2 0M21 155l-1 0M98 107l0 1M33 140l1 0M55 150l1 1M62 157l-0 1M62 139l-0 2M-0 128l1 0M6 136l-0 0M66 67l-2 1M80 133l1 1M47 137l-0 1M31 16l0 1M106 147l0 1M102 154l-1 1M40 126l0 1M44 119l-1 2M36 49l0 0M24 93l-0 0M22 14l-1 1M89 22l2 1M117 155l1 1M135 114l0 1M93 93l-1 0M102 41l1 0M148 147l2 1M107 22l-1 1M114 1l-0 1M80 132l1 0M104 151l-1 1M23 102l0 0M100 36l-0 0M57 84l-0 0M91 106l-1 2M125 148l-1 0M105 2l1 0M38 43l0 0M48 9l-1 2M24 93l0 1M27 100l1 1M47 86l-2 0M55 125l1 1M2 80l-1 0M98 124l-1 1M71 123l1 2M83 150l-1 1M61 12l2 1M100 15l-1 1M107 121l-1 0M93 121l2 1M99 16l-0 1M33 124l-0 2M113 75l-1 0M34 19l1 1M42 120l1 2M124 135l-1 2M54 133l0 0M34 86l-2 0M100 10l2 0M65 100l0 2M115 44l-1 1M105 135l-1 2M61 51l0 2M124 11l-1 0M123 137l1 1M151 57l-1 1M128 128l-0 1M52 67l-2 0M71 120l0 0M136 85l0 1M118 154l0 0M149 116l-0 2M58 38l0 2M88 49l0 2M99 155l1 0M85 3l-1 2M115 124l-1 0M42 42l0 0M71 164l-1 0M143 99l-0 0M125 50l-1 0M21 114l-0 0M92 139l0 1M150 156l-0 1M105 142l0 0M145 23l2 1M40 133l2 1M153 147l-1 2M38 147l0 0M85 146l-2 0M125 4l-0 1" stroke="#1296f2" stroke-width="3.1"/><path d="M16 58l1 1M130 4l1 1M82 143l0 2M15 31l-0 2M99 136l2 1M131 105l0 0M144 102l2 0M21 124l0 1M144 23l-0 1M33 123l-0 2M141 47l-2 1M54 105l1 1M8 57l-1 0M20 152l0 0M33 134l-0 1M32 126l-1 0M100 73l-2 0M61 159l0 0M97 145l-1 0M38 119l1 0M153 32l1 1M76 10l-0 2M144 15l1 1M98 104l-0 0M12 160l-0 1M18 99l-1 1M104 55l-2 0M54 153l1 0M14 124l1 1M105 119l-1 1M104 68l1 0M143 42l-1 1M116 30l-1 2M139 25l0 0M133 31l1 0M141 112l-1 1M91 143l1 1M137 152l-2 1M106 1l-0 0M20 125l2 0M96 37l-1 1M148 42l2 1M89 122l-0 1M76 100l0 0M12 93l0 1M60 144l1 1M127 26l1 1M112 152l1 0M12 131l-1 1M29 149l-1 1M24 11l-2 1M61 131l-1 2M119 51l1 2M103 27l-0 2M150 128l-0 1M59 4l0 1M123 148l0 0M66 16l0 1M117 45l-1 2M8 124l1 1M98 117l0 0M135 116l1 2M151 142l1 1M152 141l-0 0M75 30l1 1M104 147l1 0M92 150l1 1M84 143l-0 1M141 60l-1 0M91 121l-2 1M123 105l1 0M65 133l-1 1M76 86l-1 1M114 158l0 2M9 118l1 1M25 101l-2 1M91 124l-1 1M99 154l0 1M24 8l-0 0M131 147l-2 1M25 138l-0 1M127 9l1 2M143 158l-1 1M100 128l2 1M155 95l-0 0M115 113l1 0M136 137l-1 0M83 18l-1 2M55 22l-1 0M81 73l1 1M83 151l-1 0M33 28l-0 1M88 101l0 1M136 76l0 2M137 50l-0 2M151 137l-1 2M119 72l0 0M125 24l-0 0M12 16l0 0M38 67l-0 0M26 78l0 0M16 144l0 0M112 156l0 0M94 2l-1 2M50 59l2 0M105 112l-1 0M121 124l-2 0M44 113l-1 0M67 135l-1 1M131 113l-1 0M160 10l1 0M28 131l0 0M34 94l-1 2M120 151l0 0M56 106l1 0M117 87l1 1M144 51l-0 2M144 147l0 1M109 130l1 0M61 43l1 1M122 138l1 0M107 43l-0 1M95 107l1 1M91 108l1 0M139 131l2 1M112 116l-1 1M16 1l-0 0M62 120l1 1M139 141l-1 1M36 60l-1 2M11 9l-0 1M58 122l-1 0M81 125l-2 1M40 114l-0 0M76 111l0 2M107 126l1 0M72 128l2 0M126 120l-0 1M90 27l2 0M99 56l-0 1M80 48l2 0M112 22l0 0M114 120l-0 1M15 16l-0 0M46 131l1 0M51 111l1 1M76 141l1 0M73 136l0 1M19 23l0 0M41 119l-1 2M140 35l0 2M24 1l-1 1M116 19l-0 0M129 110l0 1M74 161l1 1M120 98l-0 2M151 21l-1 1M145 111l-2 1M102 91l-0 1M9 16l1 1M28 72l1 1M12 124l1 2M115 93l-1 1M103 140l1 2M84 160l-1 1M78 122l1 1M112 156l2 0M106 125l1 2M12 64l-0 0M89 8l0 1M102 60l1 1M153 61l-2 0M121 147l-2 0M62 15l-1 1M62 150l-1 1M27 120l-0 1M97 110l-0 0M20 41l-0 1M28 156l-1 2M38 156l-1 0M157 19l1 2M83 163l-0 1M109 27l1 1M78 140l2 0M10 147l-0 1M87 15l1 2M87 18l2 1M69 103l-2 1M-0 6l1 1M88 116l1 1" stroke="#0d6fb4" stroke-width="2.8"/></g><g id="G03" fill="none" stroke-linecap="round"><path d="M13 145l2 0M148 43l2 3M35 84l0 3M74 75l1 3M71 40l2 2M80 7l4 3M80 147l-1 2M84 124l-2 2M149 103l-2 1M70 84l4 1M156 117l1 3M-1 34l5 1M84 63l2 2M97 102l1 1M27 65l-1 2M48 35l-2 2M18 57l2 0M75 48l0 3M161 112l-0 5M68 60l-1 1M35 55l3 3M28 87l2 2M78 136l-1 3M64 153l-0 4M162 67l-4 3M126 66l-3 1M125 132l-1 2M156 45l-4 2M48 88l2 4M132 56l-1 2M88 89l1 4M100 39l2 4M73 9l2 4M158 151l1 4M114 77l3 1M84 15l-3 2M18 109l2 3M147 71l-0 4M112 66l-2 0M59 60l1 2M76 69l2 2M139 80l-4 2M108 29l2 2M45 46l0 2M138 51l-1 3M50 53l2 1M110 150l4 2M10 155l3 0M138 24l3 1M61 83l1 4M82 88l1 5M84 137l-4 3M93 88l3 0M152 70l-1 1M79 73l-2 0M118 41l-2 1M118 140l-4 1M142 29l1 2M55 157l-1 2M29 110l-3 1M12 58l-3 1M127 95l-4 2M122 147l1 4M19 6l-2 3M23 33l1 4M35 159l3 2M31 118l3 2M161 156l1 2M80 160l-1 2M108 136l2 1" stroke="#24b424" stroke-width="1.5"/></g><g id="R03" fill="none" stroke-linecap="round"><path d="M26 147l-1 0M134 135l0 1M138 3l-0 0M74 161l-0 0M160 19l-0 0M153 78l-0 1M132 78l0 1M62 88l-0 0M74 66l-0 0M142 68l-1 0M53 17l-0 0M44 17l0 0M133 4l-0 0M98 75l0 1M158 22l-0 1M108 108l-0 1M125 163l-1 0M160 55l-0 0M112 125l-0 0M77 161l0 0M93 15l0 0M11 72l-1 0M116 121l-0 1M11 82l-1 0M29 129l-0 0M35 124l-1 1M80 62l0 0M28 123l1 0M76 117l0 1M79 162l0 0M161 23l1 1M143 61l1 0M79 18l0 0M87 71l-1 1M150 91l0 0M125 122l-1 0M137 71l1 0M162 158l1 0M14 99l-0 0M160 101l-0 0M46 13l0 0M139 70l-0 0M23 119l0 0M150 2l-0 0M76 29l-0 0M81 67l-1 1M133 158l0 0M79 129l-0 0" stroke="#871212" stroke-width="1.8"/><path d="M145 26l0 0M39 109l0 0M81 31l0 1M157 53l-0 0M112 133l-0 0M66 145l0 0M129 124l-0 0M78 158l0 0M72 90l-0 0M149 88l-0 1M90 15l0 0M142 54l-0 0M130 133l-0 0M143 31l-0 0M107 83l-1 0M64 63l0 0M27 106l0 0M116 120l0 1M64 90l0 1M99 97l-0 0M101 153l-0 0M105 90l-0 0M107 143l-1 0M117 117l0 0M81 34l0 1M41 114l0 1M56 65l-1 0M64 87l0 0M120 130l-1 1M59 144l1 0M87 28l1 0M35 53l-0 0" stroke="#510a0a" stroke-width="1.8"/></g><clipPath id="ca030"><rect width="164.2" height="164.2"/></clipPath><clipPath id="ca031"><rect width="164.2" height="164.2"/></clipPath><clipPath id="ca032"><rect width="164.2" height="164.2"/></clipPath><clipPath id="ca033"><rect width="164.2" height="164.2"/></clipPath><g id="D10" fill="none" stroke-linecap="round"><path d="M125 146l1 0M108 147l-2 1M16 78l-1 1M62 94l-1 2M76 98l-2 0M152 131l0 0M50 126l-0 1M62 152l-0 2M49 71l-0 0M147 54l1 2M104 161l-0 1M50 114l-2 1M74 151l2 1M30 73l-1 2M86 162l-0 0M59 132l-2 1M3 92l-1 2M152 44l-1 1M63 64l1 0M120 15l-2 0M49 136l0 1M45 51l-1 1M160 103l-1 0M112 66l0 0M132 35l-1 2M119 75l2 1M89 8l1 1M37 159l-0 0M120 134l1 1M142 102l1 0M106 13l0 0M78 44l0 0M74 11l-1 1M128 28l1 1M27 157l2 1M109 56l-0 2M23 120l0 1M138 81l-1 1M105 90l-0 1M94 20l1 0M38 1l1 2M6 99l-0 0M93 99l-0 2M82 65l2 1M151 26l-1 0M7 123l0 1M84 109l-0 0M100 9l1 1M36 99l-0 2M93 99l2 1M139 111l-1 1M93 -0l-2 1M133 115l-0 1M77 162l-1 1M38 149l0 0M141 105l1 1M163 49l-0 1M145 34l0 0M12 1l2 1M132 110l-0 1M86 11l2 1M136 45l-2 1M103 74l1 1M43 161l0 0M95 141l-1 1M85 118l1 0M135 32l0 0M161 105l1 1M5 101l-1 1M81 115l1 1M91 45l-0 1M62 123l-1 1M12 31l1 1M57 91l0 0M150 88l-1 0M122 54l1 1M136 20l-1 1M14 17l-1 1M86 162l-1 1M24 111l2 1M124 78l-0 0M152 50l1 1M70 105l0 1M104 43l0 1M25 35l1 1M27 129l1 1M155 60l-1 1M119 149l0 1M82 41l-1 0M126 105l-0 1M86 7l1 0M95 105l-0 1M129 112l-2 1M138 24l1 1M74 117l1 2M124 60l-0 2M131 154l-2 0M154 33l-1 2M59 74l-0 1M68 84l1 0M64 44l-0 1M-1 57l2 1M113 111l1 0M90 18l0 0M147 90l1 1M13 38l1 1M140 31l-2 1M44 123l-0 0M12 161l-0 1M83 15l1 1M160 118l0 1M141 63l1 0M14 154l0 0M14 106l0 1M31 33l0 0M76 128l1 1M132 50l-0 1M114 58l-1 1M109 9l1 2M162 66l-0 1M34 38l1 1M121 17l2 0M160 149l2 1M17 119l-0 0M49 71l0 2M29 53l-1 1M57 94l-0 1M81 159l1 1M84 73l2 1M71 25l-1 0M104 142l1 2M157 54l0 1M102 136l0 0M158 77l-1 1M100 65l1 1M147 158l1 1M146 95l-0 0M118 96l-1 0M140 41l-0 0M24 96l1 1M95 31l1 1M103 79l1 2M45 62l1 0M65 9l-0 1M31 56l-1 0M133 105l-0 0M120 80l-2 1M32 26l-1 0M138 61l0 0M161 64l-2 0M120 96l-0 0M154 157l-1 1M85 142l-2 1M104 104l0 0M25 63l-1 0M120 -0l1 0M30 2l1 0M5 5l1 0M48 123l-1 1M82 157l1 1M118 77l2 1M88 143l1 1M13 71l1 2M144 69l1 0M161 3l0 2M4 19l-0 1M143 92l0 2M95 134l-1 1M26 58l-0 0M5 124l-1 0M163 134l0 0M4 47l-0 0M106 47l0 1M101 123l-1 0M94 7l-1 0M128 79l-1 2M67 91l-1 1M164 44l-2 0M81 140l-1 2M72 112l-1 2M65 110l1 0M82 33l-2 1M78 118l-1 1M4 98l-0 1M27 33l-1 1M84 64l0 1M120 49l-0 0M101 4l-1 0M120 83l-0 2M104 89l-1 1M75 158l-1 1M107 126l0 1M120 66l1 0M3 76l0 1M93 119l-1 2M41 151l1 0M55 55l0 0M72 19l-0 0M41 119l-1 2M89 109l0 1M152 106l-1 1M75 151l-1 0M61 159l-1 1M66 29l-1 0M92 116l-1 1M30 49l0 2M96 4l1 1M22 77l-1 0M160 115l-1 2M11 14l1 1M52 58l2 1M68 35l-2 1M26 37l-2 1M28 92l-1 0M161 58l-1 0M68 31l0 2M164 118l-1 1M157 134l0 0M79 72l-0 1M35 120l-2 1M5 102l0 0M45 158l0 1M45 140l0 1M150 72l0 1M84 113l1 0M59 23l-0 0M140 54l-0 2M27 106l1 2M84 75l-1 1M89 92l-1 0M34 78l-0 0M67 89l0 0M122 52l0 2M116 105l1 0M54 103l-0 1M60 75l0 1M1 87l1 0M63 23l0 0M146 97l-0 1M16 55l-1 1M64 161l-1 1M18 126l-1 2M129 69l-0 0M27 97l-0 1M31 76l-2 1M4 72l0 1M140 52l1 2M115 84l-1 1M25 154l2 0M88 64l-1 1M113 78l1 1M89 138l-0 0M77 111l-1 0M158 115l-0 0M115 17l-2 0M141 132l0 2M72 92l2 0M17 104l-2 1M28 123l0 1M149 58l1 2M65 112l1 1M48 69l1 2M54 98l-1 2M38 51l-1 1M118 16l-0 2M99 109l-0 1M37 64l0 1M10 153l2 1M65 153l-0 1M27 112l-1 1M12 154l-1 2M123 105l1 1M141 24l0 1M19 79l-0 2M41 86l1 1M32 7l0 0M19 109l-2 1M69 128l0 0M95 83l-1 1M147 18l-0 1M113 119l1 0M83 133l1 0M33 105l1 1M51 129l-1 1M124 3l-0 1M26 64l0 2M113 78l-1 0M48 82l0 1M6 112l0 0M53 7l-0 0M158 94l-1 1M116 44l1 0M84 49l-0 1M154 154l2 1M33 2l-1 1M111 98l0 0M25 158l-2 1M80 81l-0 2M16 13l0 2M120 145l0 2M159 149l1 0M55 38l2 1M21 57l-1 0M25 144l2 1M117 51l0 0M127 43l-1 0M71 69l1 1M121 132l-2 1M29 121l1 0M62 6l-2 0M16 122l-1 0M43 138l-2 0M96 133l-1 1M96 85l-2 0M103 36l-1 0M150 60l1 1M123 55l1 1M34 101l-1 1M84 142l-1 2M46 13l1 0M30 104l-1 0M74 129l-1 1M57 115l1 1M103 154l0 0M45 93l-1 0M31 4l-1 0M23 113l2 0M134 95l0 0M157 116l-1 2M42 123l-0 0M152 117l1 2M147 49l-0 2M49 37l-0 0M139 26l-1 0M34 113l-1 2M42 132l1 1M75 40l-0 2M136 147l1 1M68 112l-1 1M51 62l-1 1M72 103l-0 0M104 106l-1 0M6 99l1 0M81 68l0 0M94 83l0 0M24 120l-2 1M160 69l1 1M16 19l-1 1M44 39l0 1M81 107l-1 2M93 136l0 2M161 50l1 1M140 82l1 0M6 106l1 1M38 76l-0 0M48 116l1 1M88 5l-0 0M154 41l-1 0M20 48l0 0M133 65l1 2M148 78l2 1M157 121l1 0M131 57l-1 1M147 36l2 1M103 103l-2 0M106 95l1 0M41 142l-1 0M118 7l2 1M153 21l-0 1M121 29l2 0M64 55l0 0M30 95l1 1M8 54l-1 1M23 141l0 0M12 82l0 0M125 113l-0 0M11 98l-0 1M133 163l-1 1M61 17l-1 0M44 115l-0 0M74 89l-0 0M27 75l-0 1M76 68l1 0M129 50l-0 1M49 75l1 1M95 84l-2 1M158 141l1 1M124 54l2 1M96 98l-1 0M77 91l-1 0M17 133l-2 1M1 120l0 1M69 148l-1 2M97 4l1 1M2 162l-0 2M104 31l-1 0M50 123l2 0M74 15l-1 1M154 120l-1 0M31 43l-0 1M13 15l1 1M102 25l-1 1M53 113l1 0M9 162l-1 1M90 140l1 1M26 40l1 2M88 10l-0 1M66 133l-1 1M48 13l-1 2M107 91l0 0M119 141l-0 0M78 82l1 0M126 67l0 1M46 111l2 0M150 56l1 0M108 14l0 2M78 118l-0 1M48 115l-1 1M45 98l-1 1M122 29l1 0M16 94l0 0M161 158l1 0M7 14l-0 0M83 126l1 0M32 135l-1 1M107 32l-2 1M109 93l1 2M153 87l1 2M96 126l1 1M45 100l-1 1M94 5l0 1M20 123l1 1M20 163l-1 1M93 162l-0 1M108 93l1 0M129 20l-0 1M140 86l1 1M86 56l2 0M77 72l-1 0M25 109l-1 1M128 162l1 1M120 99l2 0M19 33l0 0M95 86l-1 1M130 161l-1 0M83 40l0 1M59 12l-1 0M115 161l-2 1M50 104l2 0M71 10l-2 0M80 97l0 1M160 138l-1 0M63 130l1 1M11 134l-1 0M88 153l-1 0M48 142l0 1M84 82l1 1M159 60l1 2M42 115l0 0M115 70l-0 0M133 71l-0 1M48 45l-1 0M16 125l2 1M122 44l2 0M35 22l1 1M103 14l-1 0M143 29l1 1M57 84l1 1M83 143l1 0M128 114l-1 0M8 49l-1 1M51 149l1 0M6 52l-2 0M62 127l0 0M95 14l-2 0M21 106l1 1M125 58l-2 0M136 66l-0 0M53 17l1 0M20 145l1 1M108 120l0 0M1 98l-0 1M36 141l-1 1M141 19l-1 0M130 142l-1 1M113 32l0 0M69 60l-0 1M36 104l-1 1M160 141l-1 0M46 66l-1 1M79 148l-1 1M18 144l2 1M10 55l1 0M79 4l-1 1M151 70l-1 1M4 87l-1 0M80 21l-2 0M151 163l0 1M140 91l-1 1M31 107l-1 1M123 108l-1 1M144 5l0 0M53 71l1 0M84 159l-0 0M12 58l1 2M8 43l-2 0M133 117l-1 0M80 11l2 0M102 127l0 2M29 7l1 2M124 151l0 1M88 45l0 1M162 6l-0 1M146 9l-0 1M134 52l-0 0M153 103l-0 0M120 22l-0 1M119 103l-1 1M145 87l0 2M71 62l1 1M71 137l1 1M118 159l0 1M28 52l-0 1M87 163l0 0M131 127l0 0M133 29l-1 0M33 105l1 1M139 62l-1 0M153 44l2 1M146 11l-1 1M138 50l1 0M149 34l-1 0M82 151l-0 0M108 -0l0 1M21 9l0 0M75 38l2 0M89 101l-1 1M89 43l-2 1M49 3l-1 0M29 76l-0 1M113 144l-0 0M135 156l0 0M156 122l-2 0M21 11l-0 1M70 1l-1 1M10 81l0 1M150 79l2 0M123 73l-1 1M111 137l2 1M25 28l1 1M155 82l1 1M27 65l-0 0M28 80l0 0M29 65l1 1M100 85l-0 1M53 88l-1 1M69 125l1 1M84 69l-0 2M31 127l0 1M34 49l0 0M115 127l1 2M135 30l0 2M70 90l1 1M6 154l-0 1M161 163l-2 1M20 61l1 1M63 87l1 0M35 62l-1 2M96 59l1 2M158 136l1 1M92 87l1 2M161 102l0 2M159 53l-0 1M40 87l-0 0M41 7l-1 0M151 40l0 1M140 47l-1 1M42 39l-1 1M8 66l-1 1M1 162l0 0M8 44l-0 0M94 55l0 1M36 6l1 1M122 55l1 1M52 63l-1 1M105 134l1 1M134 48l0 0M12 88l0 0M32 100l2 1M76 42l-1 1M66 122l-1 0M12 94l0 1M87 104l0 0M50 87l-0 1M71 -0l-2 1M110 112l-0 1M36 19l-2 0M76 60l0 0M92 30l-1 1M45 11l-1 1M77 64l-0 0M34 103l-0 0M87 146l0 2M81 159l-1 0M98 103l-0 1M107 33l-2 1M134 2l1 0M3 94l-0 1M157 -1l-0 2M78 81l1 0M82 161l2 1M28 46l-2 1M60 72l-1 1M1 65l-0 1M104 78l0 2" stroke="#1296f2" stroke-width="2.9"/><path d="M113 6l-1 1M63 86l0 2M118 83l-1 1M84 51l1 1M113 3l-1 0M138 1l0 2M11 68l-1 1M109 28l-1 1M3 3l1 2M24 80l2 1M117 24l1 0M40 113l2 1M54 149l-1 0M88 147l1 1M119 102l1 1M104 137l-1 2M71 25l2 0M121 118l1 1M128 94l1 0M21 131l-0 0M140 114l1 2M161 72l1 1M52 153l1 2M62 96l-0 2M37 157l1 1M23 112l-0 0M163 49l1 0M104 90l-1 1M14 114l-1 0M161 60l1 0M44 19l-1 1M86 72l1 1M91 94l-1 0M25 158l0 0M8 109l-0 2M37 129l-1 0M26 67l0 2M58 3l-0 1M43 52l0 0M35 120l1 1M112 141l-1 0M2 18l-1 1M119 114l2 0M17 43l-0 1M79 158l-1 1M76 119l1 0M42 124l0 1M76 84l-0 1M158 140l-0 0M107 8l1 1M35 24l-1 2M159 80l1 1M123 137l-0 0M94 135l-1 1M51 6l-1 0M12 99l2 0M14 158l0 0M28 100l-1 1M5 1l0 0M33 39l1 2M45 86l1 1M27 21l2 0M155 133l1 0M54 41l-0 0M21 14l-2 0M157 45l-1 1M71 148l-1 0M105 44l1 0M2 69l0 1M40 152l1 0M159 86l0 1M128 108l2 0M9 2l-2 1M16 68l-0 1M26 52l1 0M13 1l-2 1M129 67l-1 1M68 19l0 0M115 42l0 0M118 21l1 2M157 22l1 1M11 107l1 0M116 5l-1 1M62 123l0 0M137 100l-0 0M69 11l-0 1M12 81l1 0M60 105l-1 1M20 108l-1 0M109 51l1 1M89 137l-0 2M44 54l-0 0M66 63l-0 1M90 152l0 1M52 11l-1 1M38 10l-0 1M114 100l0 2M22 144l-0 1M37 5l1 1M3 16l0 0M81 89l1 2M68 108l0 2M54 80l1 1M102 132l1 1M27 92l-0 0M26 108l-1 2M67 161l-1 1M29 4l-1 0M100 35l-0 2M85 2l-1 1M45 69l1 1M136 158l0 1M109 161l2 1M122 98l1 1M70 65l1 2M17 110l1 2M74 155l2 1M2 120l-1 1M0 15l1 1M139 129l-1 1M127 20l-1 2M64 139l-1 1M17 83l-1 1M7 16l-1 1M76 75l1 0M84 162l-0 2M155 98l1 2M111 15l0 2M64 82l-1 2M154 123l-1 1M141 152l1 1M15 84l-0 1M123 31l1 0M62 13l1 0M74 96l0 0M24 8l-2 1M10 130l-0 1M39 48l2 1M102 100l-0 0M104 78l1 2M54 16l1 1M59 20l2 0M83 142l-0 1M22 42l-1 1M34 127l-1 0M26 27l-0 0M101 17l1 0M142 118l-0 1M125 27l-0 1M74 89l-1 2M77 92l-1 1M96 144l-0 2M50 66l1 1M77 90l0 2M90 94l-1 0M62 98l1 1M92 13l-1 0M68 129l-1 1M35 91l0 2M27 139l2 1M105 81l0 1M118 38l1 1M43 112l-0 0M41 53l-0 1M87 154l1 2M46 4l1 1M126 97l0 1M102 133l-1 1M4 94l0 0M156 40l-2 1M36 10l-1 1M77 61l-1 1M151 115l2 1M162 3l1 1M67 158l-0 0M113 33l-1 0M126 9l2 1M146 61l2 1M124 86l0 0M101 131l1 1M47 115l1 0M151 148l-1 1M154 152l-1 1M157 3l1 2M29 109l1 1M12 123l1 1M98 34l-0 1M92 30l0 1M78 110l1 0M163 68l-1 0M125 56l0 1M137 10l1 2M100 122l1 0M29 22l0 2M82 95l0 2M154 19l1 1M49 95l1 1M102 20l2 1M133 44l-0 2M59 97l0 1M154 20l-0 1M71 76l-2 0M84 158l1 1M81 160l0 0M70 18l-1 1" stroke="#0d6fb4" stroke-width="2.6"/></g><g id="G10" fill="none" stroke-linecap="round"><path d="M107 15l-1 1M2 136l3 1M71 19l-1 3M46 107l-0 1M92 112l3 1M94 1l1 1M103 50l-1 2M11 7l-0 1M39 103l-0 1M83 121l-1 1M34 101l1 0M30 32l3 1M98 105l2 1M18 137l-2 0M87 128l-3 1M40 122l3 1M141 79l-1 0M81 63l0 1M110 121l1 1M96 60l1 1M52 46l-1 3M9 88l3 1M19 93l1 2M23 145l1 0M12 33l-3 1M120 75l-1 0M32 121l3 1M9 79l1 1M31 139l2 3M99 119l-1 3M35 25l-2 0M85 22l2 2M16 137l-3 2M144 78l-1 2M34 43l-1 1M38 28l2 2M30 117l0 3M27 107l1 1M87 67l1 0M95 26l1 1M150 24l-1 0M153 46l1 1M145 37l-0 1M24 148l-0 2M18 68l-2 2M144 71l0 2M84 80l-2 0M8 141l-2 0M73 3l1 2M90 87l-0 1M22 23l1 1M126 58l1 0M125 63l-2 1M126 154l-3 0M84 30l1 1" stroke="#1f9d1f" stroke-width="1.7"/></g><g id="R10" fill="none" stroke-linecap="round"><ellipse cx="70" cy="60" rx="4" ry="3.2" fill="url(#glowR)"/><ellipse cx="110" cy="90" rx="3" ry="2.4000000000000004" fill="url(#glowR)"/><path d="M25 76l0 1M115 3l-0 0M119 123l1 0M105 161l-1 0M124 12l-1 0M40 21l0 0M81 16l-0 1M23 121l0 1M125 119l-0 0M110 160l-0 0M2 60l0 0M118 51l0 0M3 158l-0 0M157 162l0 0M5 54l-1 0M61 149l-0 1M32 89l-0 0M68 142l-0 1M25 56l-0 0M27 56l-1 0M113 123l-1 1M43 157l-1 0M105 7l-0 0M14 65l-0 0M119 52l-0 1M80 142l-1 1M18 58l0 0M151 38l-0 0M161 159l-0 0M3 70l0 0M7 67l-0 1M33 111l-0 1M1 51l-0 0M51 4l0 0M135 47l-1 1M49 102l0 1M139 79l-0 0M158 138l-1 0M138 52l0 0M65 35l1 1M134 151l1 0M135 62l0 0M130 130l-0 0M102 45l-1 0M15 6l-0 0M43 90l-0 0M60 119l0 0M99 58l-1 0M29 156l0 0M20 1l0 1M39 35l1 1M108 36l0 0M137 113l-0 0M157 20l0 1M46 11l0 0M83 123l0 0M35 123l0 1M4 65l1 0M138 158l-0 0M10 69l-0 0M6 70l0 0M43 65l-0 0M116 146l0 0M55 93l-1 0M43 5l-0 0M94 143l0 0M104 81l0 0M42 133l0 1M153 147l0 0M33 72l0 0M19 48l0 0M163 37l-0 1M163 95l-0 0M121 76l0 0M15 41l0 0M116 31l1 0M33 90l0 0M158 24l-0 0M141 84l-1 0M14 57l-1 0M47 94l-0 1M108 56l0 0M135 10l-0 0M14 104l-0 0M109 10l-0 0M101 151l-1 0M2 37l-1 0M123 46l-0 0M39 82l-1 0M15 115l1 1M120 26l0 0M127 64l0 1M1 69l1 0M33 69l-0 0M129 62l-1 1M12 63l0 0M81 2l-0 1M156 65l-0 0M84 132l-0 0M113 88l1 0M50 43l-1 1M150 141l1 1M131 61l1 0M5 95l1 0M15 61l0 0M73 159l-0 0M51 38l-0 0M53 88l-0 1M56 105l1 1M127 23l-0 0M19 7l-0 0M15 34l-0 0M11 64l0 0M129 67l-1 0M99 9l1 0M40 88l-1 0M116 115l-0 0M23 73l-0 0M40 23l-1 0M87 7l-1 0M58 40l-1 0M158 137l-0 0M155 60l0 0M163 98l-0 1M32 3l0 0M40 58l0 0M5 95l-0 0M23 9l0 0M128 119l0 0M1 67l0 0M123 5l0 0M23 36l-0 0M37 14l-0 1M58 103l-0 0M15 75l-1 1M72 85l-0 1M47 91l1 1M17 47l-1 0M2 115l-0 0M15 74l0 0M102 40l-0 0M114 125l-0 0M10 118l1 0M48 11l0 0M70 83l-1 0M7 58l-0 1M48 128l0 0M156 68l1 0M161 26l-1 0M11 46l-0 0M130 110l-0 0M72 163l-0 1M60 99l0 1M152 155l-0 1M164 156l1 1M138 68l-0 0M8 153l-1 1M119 -0l-0 1M56 129l0 0M63 75l-0 0M32 11l0 0M106 115l1 0M51 96l0 1M105 126l0 0M102 163l-0 1M118 121l0 1M152 96l0 0M1 158l-0 1M125 118l0 0M156 6l-0 1M56 87l1 0M134 51l0 0M47 74l1 0M104 70l0 1M24 41l0 0M107 153l1 1M111 46l0 0M158 93l-1 0M5 119l0 0M136 9l-0 0M47 107l-1 1M130 4l0 0M42 127l0 0M132 41l-1 0M135 74l-0 0M39 26l-0 0M10 116l0 0M119 89l0 1M74 130l-1 1M156 92l-1 0M26 2l0 0M100 8l0 0M20 62l0 0M46 101l-1 1M154 68l-1 0M34 159l-0 0M110 45l0 0M113 8l-1 0M44 80l-0 0M97 3l-1 0M108 32l1 1M65 158l0 1M4 43l0 0M153 84l-0 1M119 144l0 0M4 67l-0 0M110 144l-1 0M9 65l-1 0M11 152l-1 0M19 50l-0 0M120 39l-1 1M2 79l1 1M123 77l-1 0M26 63l1 0M51 9l0 1M141 134l-1 0M118 33l-0 0M39 30l-0 0M94 144l1 0M145 1l-0 0M122 84l0 0M40 5l-0 1M62 23l-1 0M50 12l0 0M151 36l1 0M38 71l-1 0M47 1l0 0M36 10l-1 0M37 72l0 1M45 62l0 1M48 67l-0 0M49 32l-0 1M158 78l1 1M131 141l0 0M55 94l0 0M82 25l0 1M18 59l-0 1M123 70l1 1M30 157l-0 0M95 10l0 0M7 3l1 0M157 36l0 0M15 62l-0 0M48 7l0 0M56 152l-0 1M51 115l0 0M119 147l-0 0M47 18l-1 0M32 71l0 1M20 52l-1 1M50 19l-1 1M16 64l0 0M117 136l-1 0M134 53l1 0M7 103l1 0M140 159l0 0M129 50l0 0M35 64l-0 0M87 162l-1 1M138 152l0 0M1 114l-1 0M150 149l-0 0M139 154l0 0M36 58l1 0M14 45l-0 0M28 64l-0 0M20 76l0 1M50 126l-1 0M111 117l-0 0M114 45l0 0M120 131l-0 1M18 65l-0 0M113 77l-0 0M46 15l1 1M122 46l0 0M153 12l-0 0M1 65l0 1M115 70l-0 1M16 128l1 1M39 153l-1 0M116 110l-0 0M12 61l1 0M15 68l1 1M50 110l0 0M41 77l-1 1M43 15l0 0M41 98l1 0M35 91l-1 1M105 51l0 0M134 74l-0 1M38 26l0 0M64 126l1 0M114 153l1 1M130 56l1 0M126 76l-0 1M50 117l-0 0M108 118l-0 0M49 28l-1 0M141 22l0 0M49 23l0 0M156 134l-1 0M13 12l-1 1M10 73l1 0M71 142l-0 1M111 103l-0 1M131 6l0 0M122 35l1 0M25 111l0 1M56 117l0 0M0 120l-1 1M138 3l-1 0M129 70l0 1M49 110l1 1M138 56l0 1M110 12l1 0M129 50l-1 0M135 146l-1 0M40 97l0 0M45 135l-0 1M38 1l1 1M35 116l-0 1M110 135l0 1M104 131l0 0M25 152l0 0M163 25l-0 0M147 67l0 1M133 94l0 1M21 59l0 1M105 53l-0 1M113 120l0 1M16 144l0 0M26 60l-0 0M124 27l-0 0M105 60l0 1M137 82l0 0M2 64l0 0M118 15l-0 1M124 100l0 1M129 68l-0 0M41 21l-0 0M3 45l0 0M90 51l1 0M56 9l1 0M147 151l0 1M46 77l-1 0M56 108l0 0M54 125l-0 0M12 125l-1 1M7 72l0 1M45 100l0 0M31 125l-0 0M41 73l-0 1M149 13l-0 1M24 68l1 1M158 137l0 0M97 6l-1 0M42 22l1 1M49 31l-0 0M103 2l-0 1M61 6l-0 1M47 4l1 1M14 108l1 0M143 149l-0 0M7 99l0 0M88 139l-1 0M129 88l0 0M151 41l0 0M2 81l0 0M121 5l-0 0M157 92l-0 0M76 140l-1 1M146 67l-1 1M130 121l0 0M77 7l-0 0M53 29l-1 0M116 109l0 1M111 100l-0 0M47 3l0 0M106 28l-0 1M15 67l1 0M43 27l-1 0M112 60l0 1M62 4l-1 0M116 5l-0 0M116 59l-1 0M134 137l0 0M43 112l0 0M137 58l0 0M52 121l-1 0M113 58l-0 0M145 157l0 0M57 104l-1 1M9 53l0 0M98 38l0 1M56 22l-1 1M44 73l-0 1M62 163l-0 1M11 101l-0 1M8 66l0 1M121 123l0 1M47 73l0 0M150 87l0 0M92 86l-0 0M14 67l0 0M136 45l0 0M121 48l-0 0M4 75l-0 0M108 23l0 1M23 79l0 1M111 111l0 1M11 63l0 0M45 118l-1 1M76 117l1 1M138 160l-0 1M11 61l0 0M152 38l-0 0M121 106l-1 0M106 86l-0 0M49 100l1 1M151 26l-0 1M2 65l-0 0M128 79l0 1M8 69l-1 0M127 36l1 0M140 57l0 1M48 7l1 1M116 127l0 1M126 32l0 1M35 109l-0 0M132 60l1 0M118 69l-0 1M122 117l-0 0M135 10l-0 1M133 83l0 1M116 73l0 0M117 60l0 1M162 39l0 0M7 78l1 0M130 48l0 1M2 74l-0 0M61 125l-1 1M52 106l-1 0M116 13l-0 1M23 53l0 1M158 20l1 0M144 157l-0 0M149 58l1 0M122 137l1 1M139 35l1 0M113 1l-0 0" stroke="#a81616" stroke-width="1.7"/><path d="M42 158l0 1M19 155l-0 0M157 150l-0 1M32 6l-1 1M122 137l1 0M1 74l-1 0M18 63l-0 1M147 41l-0 1M115 114l-1 1M60 89l1 0M9 77l-1 1M96 3l-0 0M60 21l-1 1M147 163l-1 0M147 18l0 0M2 59l0 0M54 17l-1 0M29 55l-0 0M103 88l0 1M12 154l0 0M112 117l0 0M122 129l0 1M37 151l-0 0M43 25l0 1M31 8l-0 0M142 160l0 0M18 59l-1 0M57 61l0 1M3 87l0 0M129 159l0 0M118 9l0 0M162 140l-0 0M5 42l0 0M31 49l1 0M46 68l-1 0M124 87l-0 0M145 20l0 1M154 138l0 0M21 51l0 0M117 32l-0 0M9 72l0 1M96 31l-0 0M152 83l-0 1M5 126l-0 0M1 150l1 0M155 152l-1 1M37 86l-1 0M24 56l-0 0M26 115l0 0M4 49l-1 0M131 111l1 1M17 64l0 0M116 145l0 1M143 146l0 0M20 111l-1 0M3 74l-1 1M44 76l0 0M43 11l-0 1M46 1l0 0M115 128l0 0M16 124l0 0M18 65l-1 0M10 63l0 1M40 20l1 1M109 94l0 1M156 145l0 0M125 132l-0 0M42 24l-1 1M53 11l0 0M42 31l0 0M41 13l0 0M122 11l1 1M20 11l-1 0M1 66l-0 0M141 88l-1 1M161 18l-0 1M11 72l0 0M42 100l-0 0M131 54l-0 1M56 27l-0 0M48 117l0 0M58 29l0 0M61 134l-0 1M134 45l-0 0M31 164l0 0M47 106l1 1M43 102l0 0M159 161l-0 1M39 75l-0 0M58 77l0 1M98 6l-0 1M30 65l-1 0M19 41l-0 0M54 90l0 0M54 127l0 0M53 127l-0 0M114 117l1 1M55 128l1 1M130 86l-1 0M159 20l0 0M126 145l-0 1M155 42l-0 1M113 31l-0 0M58 15l-0 0M38 17l1 0M142 159l0 0M126 114l-0 0M109 147l1 1M11 163l0 1M19 125l-0 0M8 53l-0 0M44 67l-0 1M121 118l0 0M76 6l0 1M47 25l0 1M28 107l-0 1M70 145l-0 1M116 113l0 0M46 8l-1 1M115 4l-1 0M37 5l1 0M49 92l0 0M47 103l0 1M99 24l-0 0M112 85l0 0M40 5l-1 0M29 8l-0 0M140 45l0 1M41 29l0 1M144 81l0 0M118 129l0 1M9 75l0 0M149 76l0 1M12 41l0 0M47 104l0 0M145 115l0 0M3 42l-0 0M113 135l-0 0M58 92l0 0M21 73l-0 0M82 116l-0 1M121 121l-0 1M142 81l-0 0M56 14l0 0M71 51l-1 0M114 124l0 1M52 70l-1 1M62 90l-0 1M28 56l1 1M3 112l-1 0M44 23l-1 0M65 7l1 0M146 54l-0 1M50 136l0 1M100 53l-0 0M122 130l-0 0M93 46l-0 0M7 52l0 0M58 72l-0 1M123 12l1 1M130 149l-0 0M45 163l0 1M157 16l1 0M153 64l-0 1M106 40l-0 0M111 34l-0 0M36 22l0 1M137 45l-0 1M32 24l1 1M91 12l-0 0M130 136l-0 1M109 133l-0 0M135 0l0 1M134 129l-1 0M59 128l1 0M29 73l-1 1M110 57l0 1M38 87l0 1M88 39l-1 0M129 40l1 1M43 9l0 0M11 64l-0 1M24 123l-1 1M94 147l-1 1M65 158l1 0M54 116l0 0M45 122l-0 0M18 160l0 1M121 118l1 1M44 105l1 1M55 17l0 0M27 66l1 0M119 125l-0 1M17 118l1 1M121 124l0 0M145 65l1 0M138 35l1 0M110 122l0 0M115 73l1 0M46 133l-0 0M1 47l1 0M145 150l0 0M45 22l-0 1M108 114l0 0M97 11l0 1M160 96l0 0M19 79l-0 1M129 76l1 1M74 112l-1 1M68 25l0 0M146 101l-0 0M53 116l0 1M129 45l1 1M125 113l-0 0M127 143l0 0M122 113l-1 0M151 61l0 0M82 6l0 0M131 40l0 1M5 64l-1 0M127 42l-1 1M76 122l0 0M72 6l0 1M85 67l-0 0M8 63l0 1M122 123l-0 0M34 6l1 1M44 0l0 0M51 121l-0 0M141 65l1 1M8 103l0 0M102 47l-1 1M8 63l-0 0M119 8l-0 1M44 119l1 0M130 113l-0 0M32 66l-1 0M35 17l-0 0M33 5l0 0M55 112l0 0M50 75l-0 1M10 73l-0 1M41 71l0 0M105 75l-0 0M36 9l-0 1M136 147l1 1M75 1l0 0M75 22l0 0M51 23l-1 0M112 145l1 0M56 2l1 0M1 69l-0 0M12 61l-1 0M151 38l0 1M60 6l-0 1M158 158l-1 0M143 98l0 0M32 114l0 1M135 50l0 0M116 130l0 0M119 132l-1 0M144 157l1 0M3 122l0 0M112 140l-0 1M133 5l1 1M37 81l-0 0M114 107l-0 0M149 84l-0 0M51 113l1 0M99 124l-0 0M114 139l0 0M141 36l0 1M22 115l-0 0M49 131l1 0M32 62l0 0M17 61l1 0M120 111l0 0M129 28l-1 0M116 118l1 0M31 8l-0 0M66 20l0 1M143 163l-0 0M39 118l1 0M11 68l0 0M15 75l-0 0M45 98l-0 0M164 141l0 0M143 92l-1 0M119 116l-1 1M149 42l1 1M139 45l0 1M161 145l-0 0M64 114l1 0M124 130l-1 0M110 61l-0 0M34 56l0 0M138 147l-0 0M15 83l1 0M60 103l-0 0M97 44l-0 0" stroke="#650d0d" stroke-width="1.7"/></g><clipPath id="ca100"><rect width="164.2" height="164.2"/></clipPath><clipPath id="ca101"><rect width="164.2" height="164.2"/></clipPath><clipPath id="ca102"><rect width="164.2" height="164.2"/></clipPath><clipPath id="ca103"><rect width="164.2" height="164.2"/></clipPath><g id="D11" fill="none" stroke-linecap="round"><path d="M153 21l0 1M106 48l-1 1M133 107l0 1M137 5l1 0M79 15l-1 0M7 155l-0 0M156 124l-0 1M104 110l1 1M95 111l0 2M130 139l0 1M96 99l-1 1M149 77l-1 0M49 10l1 1M114 151l0 0M50 109l-1 1M113 134l-1 1M130 43l-0 1M159 58l-0 1M48 114l2 0M10 31l-1 2M136 124l-1 1M21 121l-1 0M95 140l-1 2M135 146l0 0M8 136l-1 1M74 143l-2 0M32 56l-1 1M78 110l1 0M98 50l2 1M6 59l1 1M117 136l0 0M72 129l0 2M65 124l1 1M48 44l-0 0M156 22l0 1M158 70l-2 0M29 28l-1 0M21 77l0 1M119 92l-0 1M147 64l1 0M131 78l-0 0M120 10l1 2M81 85l-0 0M108 78l-1 0M66 56l0 1M18 136l-0 0M124 129l1 0M136 102l-1 1M73 44l-1 0M133 44l0 0M143 142l-0 0M69 10l1 0M64 162l-0 0M14 24l1 2M52 143l1 1M160 55l0 1M17 76l-0 0M67 59l0 2M69 69l0 0M67 99l-1 1M11 42l1 1M17 36l-0 1M4 15l1 1M14 112l-0 1M123 158l-0 2M130 151l2 0M146 78l-0 1M71 18l2 0M67 158l-1 0M120 111l1 0M23 141l-1 1M133 87l0 2M16 28l2 1M138 86l0 2M111 130l2 1M83 37l1 0M107 161l-0 1M23 63l1 2M74 144l0 1M86 101l-1 0M70 123l-1 0M100 61l0 0M44 45l0 0M136 150l0 1M60 73l2 1M31 115l-0 2M164 81l0 0M155 122l-1 2M30 51l0 2M152 26l-1 1M103 128l0 1M128 97l1 1M48 21l1 1M143 93l-1 0M143 19l-0 1M5 88l0 1M104 83l2 0M17 36l0 2M76 75l2 0M137 154l0 2M130 16l-2 1M68 146l0 1M143 72l0 1M94 69l-1 2M67 162l1 1M4 150l-1 0M61 116l-1 0M94 88l-0 1M66 134l-1 1M11 100l1 0M1 60l0 1M148 77l0 0M66 24l-2 0M9 66l-0 0M162 50l-1 1M-0 141l2 0M19 77l2 0M58 59l1 1M154 67l-2 0M121 2l1 0M70 150l-1 0M7 130l1 0M25 36l1 0M85 44l-2 1M68 43l0 2M62 122l1 0M118 108l-2 0M107 10l-0 1M108 148l-0 1M42 2l-0 1M132 17l1 2M60 134l0 1M120 72l-1 2M31 133l-1 1M119 49l-2 1M33 146l1 2M3 147l-2 1M143 133l1 1M70 109l-0 1M128 158l1 1M152 87l1 1M125 127l1 0M110 97l1 0M129 24l-2 0M108 94l-1 1M40 90l0 1M61 80l1 0M87 51l-1 0M110 121l-0 0M38 140l0 2M137 126l1 0M150 100l1 1M160 79l-1 2M133 27l-0 0M61 153l-2 0M140 73l0 0M154 50l2 0M25 160l-1 1M135 115l0 1M143 110l1 2M90 49l1 1M123 56l1 1M118 91l-1 1M25 80l-0 1M145 53l-1 2M76 132l-0 0M25 46l-1 1M9 13l2 1M15 118l1 2M13 29l1 0M126 18l0 2M62 54l-1 0M116 144l-2 1M97 148l-1 2M160 104l1 0M10 156l0 0M158 124l0 1M157 41l2 0M92 104l-1 0M41 18l-1 0M113 138l-0 1M47 47l1 0M16 81l-1 1M69 13l-0 2M156 137l-1 0M139 118l-1 1M25 57l-1 0M109 78l-0 0M89 126l1 1M130 23l1 0M19 73l-1 0M59 112l0 1M99 137l-0 1M104 119l-2 0M75 66l-0 1M39 21l-0 1M70 79l-1 1M14 153l-1 1M31 30l0 1M9 77l-0 1M122 134l-2 1M121 39l0 1M97 80l1 0M22 23l0 0M75 87l2 1M60 128l-2 0M76 66l1 1M140 32l-1 1M112 64l1 2M111 108l0 0M47 67l-0 0M88 14l-1 0M164 19l-0 1M26 42l1 1M126 117l1 0M120 49l-1 0M54 5l0 1M7 59l-1 1M7 29l-0 1M77 142l-1 0M21 40l1 0M55 118l0 0M41 111l-0 0M85 69l-0 1M51 153l1 0M123 114l1 1M53 38l0 0M114 160l-1 0M16 53l-2 1M15 101l-1 1M66 137l0 1M114 86l1 0M151 133l-1 1M64 141l2 1M79 63l-1 1M126 138l1 1M75 25l-1 2M131 3l-0 2M82 142l-0 0M19 48l-1 0M128 107l0 1M24 29l1 1M147 30l1 0M77 61l0 1M33 12l-2 1M73 110l2 0M42 51l-0 0M89 88l0 1M151 63l1 1M4 34l1 2M107 35l-0 2M33 162l-0 1M7 53l0 0M38 155l1 1M17 106l1 1M129 128l-1 0M117 150l-1 0M117 28l-2 0M35 154l-0 1M47 105l-1 0M92 3l1 1M11 24l0 2M130 6l0 0M34 146l1 0M63 144l0 1M71 135l0 1M163 89l1 0M130 8l-2 1M138 72l1 1M158 72l0 2M19 71l-0 0M133 130l-0 2M58 56l-0 1M82 30l-0 1M145 122l0 2M55 109l-0 0M64 124l0 1M28 156l-0 1M42 51l-1 0M156 74l-0 1M103 77l-1 1M87 91l-1 0M5 142l-2 0M140 17l-0 0M130 40l-0 0M126 64l-0 1M27 30l-0 1M144 38l1 0M34 78l-1 1M159 45l0 2M28 131l-0 0M82 69l0 2M135 122l1 2M93 122l1 0M63 23l-1 1M120 64l0 1M22 149l-1 0M51 139l0 1M140 92l0 2M72 18l-1 0M31 92l0 1M135 100l2 0M111 16l-1 1M116 1l0 2M54 100l1 2M7 146l0 0M20 28l-0 0M64 122l-1 1M134 153l-1 0M95 142l1 0M95 28l-1 1M31 142l2 0M0 161l1 1M78 23l1 1M122 103l-1 0M139 17l1 1M79 40l-1 0M6 128l-1 1M161 149l1 0M29 67l1 0M61 106l0 0M66 4l-0 2M71 65l2 1M42 58l-0 1M53 139l-2 0M77 17l-0 1M118 151l-1 1M103 3l-0 0M114 95l0 0M95 128l1 0M137 81l-1 0M41 47l1 0M75 109l-2 0M157 112l-0 1M111 81l1 1M22 146l0 1M81 118l0 2M51 160l-1 1M12 88l-1 1M41 141l-1 0M24 13l-2 0M94 89l0 2M22 34l-1 2M101 54l-1 2M126 50l1 1M78 118l2 0M40 62l-0 0M91 108l2 0M61 130l1 0M59 152l2 1M98 99l-1 1M17 70l0 2M85 161l-0 1M69 95l0 1M107 116l1 1M164 76l-0 0M65 118l-1 0M127 131l-0 1M66 56l0 2M66 23l1 2" stroke="#1296f2" stroke-width="3.2"/><path d="M31 30l-0 0M108 3l0 1M21 162l-0 1M3 161l-1 1M65 92l0 1M50 119l1 0M142 98l1 0M143 105l-2 0M43 108l-0 0M7 88l1 0M107 164l-0 0M37 40l-0 1M45 40l-0 0M30 48l-1 1M133 13l1 1M57 43l-1 1M150 97l-1 2M3 155l1 2M70 60l-0 1M63 2l-1 0M28 69l-2 1M66 11l0 1M122 92l1 0M164 44l-1 1M144 36l-1 0M58 11l-0 0M140 148l-1 1M54 13l2 0M9 101l-0 1M139 84l-1 0M54 153l1 2M35 21l1 1M157 110l-0 1M30 111l0 1M162 131l-0 1M43 55l1 1M97 88l1 1M99 151l0 0M24 53l0 1M75 4l-0 0M99 108l1 0M141 29l1 1M1 125l1 1M150 49l-0 0M101 125l0 1M116 92l1 1M62 110l-1 0M95 123l1 2M153 65l-1 0M65 71l1 1M74 58l0 0M95 124l-0 1M34 128l-0 1M60 34l0 0M5 89l1 0M12 20l1 1M11 95l-0 2M39 74l-0 2M150 65l-1 1M32 7l-0 1M78 80l-0 2M152 126l1 2M33 113l0 0M128 17l-2 1M3 60l0 1M93 152l0 1M85 131l0 0M6 123l-0 1M92 103l1 2M99 78l-2 0M51 132l1 2M7 22l1 0M88 63l-1 0M54 25l0 1M135 40l-1 1M26 59l0 1M79 136l-1 1M1 49l1 2M136 85l-1 1M157 91l1 1M75 34l-1 1M34 164l2 0M151 144l-0 1M104 116l1 1M71 118l0 1M89 138l-0 0M3 84l1 0M17 79l0 1M72 150l-1 0M129 88l0 1M63 20l-1 0M122 89l1 1M92 16l-0 1M63 86l-0 0M128 103l0 1M128 20l-1 1M58 103l0 1M50 135l1 1M136 1l-2 0M131 103l-1 0M27 10l0 2M139 63l-0 1M135 16l1 0M45 110l0 1M160 99l-1 1M110 45l2 1M81 149l-1 1M5 126l0 2M36 84l-0 1M84 16l-1 0M114 141l0 2M43 93l1 2M6 40l-0 2M90 162l0 0M13 70l0 0M115 130l-1 0M50 101l0 0M4 17l-1 0M73 69l-0 1M33 80l-0 1" stroke="#0d6fb4" stroke-width="2.9"/></g><g id="G11" fill="none" stroke-linecap="round"><path d="M75 28l-0 3M160 82l-1 2M48 150l-2 1M152 129l-0 3M41 50l-0 4M145 116l-1 1M144 107l-2 1M22 8l-2 3M119 42l0 3M51 98l-2 1M128 95l4 1M142 59l-0 4M61 104l3 1M77 6l-1 5M155 85l5 0M130 19l5 1M114 59l-0 2M20 143l2 4M53 55l4 1M141 142l-1 1M131 142l-2 3M100 64l0 4M98 47l-3 1M92 48l-2 3M117 54l4 0M8 119l1 1M98 46l1 2M88 10l-4 2M142 130l4 0M124 93l2 3M119 111l3 3M97 79l4 1M142 23l2 0M29 108l-2 2M42 17l-2 1M37 145l1 1M21 92l5 1M30 74l-0 4M43 162l2 1M58 100l-3 4M45 113l-0 4M137 92l1 1M13 17l1 2M83 127l1 2M142 128l2 1M54 41l-1 4M49 154l-3 2M46 26l-0 2M71 18l2 1M24 7l-1 2M104 51l-1 4M36 36l-4 0M98 58l1 2M98 98l-1 2M138 109l-2 1M48 68l-3 1M106 71l1 1M5 110l-1 4M26 8l2 4M86 73l1 1M30 67l-5 0M68 127l-3 1M121 79l0 3M35 140l-0 3M70 153l-3 0M53 97l1 3M16 140l-2 2M7 112l2 4M3 49l-2 4M51 75l4 1M106 59l-0 3M67 154l-1 2M154 46l1 3M157 4l-4 1M45 111l1 2M39 161l2 1M65 110l-2 3M144 87l-1 5M69 149l3 2M55 117l4 2M37 67l4 1M163 42l-4 2M53 18l-1 4M32 160l3 2M41 6l-2 3M165 162l-2 1M128 90l2 1M5 53l4 2M69 13l-2 1M87 36l-0 4M16 51l2 1M114 127l1 2M13 80l2 0M146 14l0 4M92 104l-1 1M144 60l-2 3M30 94l-1 2M40 125l2 3M70 138l-2 3M116 71l-1 1M151 98l4 1M131 149l4 2M101 54l2 3M119 138l-0 2M95 94l-0 2M151 81l-0 3M50 15l-2 3M27 59l4 2M12 129l-1 4M46 16l-0 4M49 154l1 3M40 40l4 1M159 126l2 2M110 68l-1 1M134 140l2 4M31 112l-3 3M138 11l0 3M34 98l-1 2M90 58l1 4M54 108l3 2M130 38l-2 0M22 78l-2 1M59 4l3 3M144 9l-3 2M98 99l-4 1M10 7l4 1M61 160l1 2M19 71l-2 2M142 25l2 1M71 144l1 2M65 93l1 0M41 43l1 2M145 14l-2 2M50 130l-1 2M80 86l1 3M131 0l-1 1M115 2l3 3M93 55l0 2M81 32l4 0M160 11l-2 0M2 3l2 3M66 62l-3 3M103 42l2 2M136 103l-3 1M16 83l-2 2M150 32l-1 2M30 68l5 0M32 118l5 1M106 61l-1 2M43 64l-2 1M124 36l2 1M55 46l2 1M122 53l-3 1M57 55l2 2M157 140l0 3M10 117l3 2M13 58l-1 4M25 100l-2 1M75 120l1 2M27 120l-4 2M162 90l-4 0M145 147l-4 3M144 -1l-3 4M58 29l-3 0M35 65l-1 4M25 79l-3 1M140 109l1 5M137 90l-0 3M68 13l-1 4M147 119l-1 1M51 99l-2 2M11 112l-3 0M48 50l0 3M34 83l-0 3M16 69l2 3M56 90l3 1M89 27l-4 2M57 72l-0 2M148 22l-2 3M92 35l1 3M158 40l-4 2M85 90l1 2M95 107l-4 0M71 27l-2 3M156 95l-4 2M106 99l-5 1M37 85l-1 2M85 106l1 4M79 102l2 2M39 44l2 1" stroke="#28ca28" stroke-width="2.4"/><ellipse cx="78" cy="8" rx="9.799999999999999" ry="7" fill="url(#glowG)"/></g><g id="R11" fill="none" stroke-linecap="round"><path d="M91 51l-1 0M101 69l-0 0M23 46l-0 0M68 143l-0 1M0 142l0 1M159 74l0 0M122 139l-0 0M156 152l-0 1M67 2l-1 1M91 139l-1 1M29 56l0 1M25 119l0 0M140 124l0 0M22 100l-0 1M99 58l-0 0M65 3l-1 0M4 52l-1 0M86 6l-0 0M103 41l-0 0M25 130l-0 0M120 66l-0 0M147 150l0 0M106 6l-0 0M42 50l1 0M45 163l-0 1M59 19l0 1M87 54l0 0M81 48l-1 1M145 51l-1 0M117 40l-1 0M116 121l0 1M58 40l0 0M143 153l0 0M49 78l0 0M79 48l1 0M72 86l0 0M10 73l0 1M67 2l0 1M60 50l0 0M20 94l-1 0M11 136l0 0M78 66l-1 0M126 73l-1 0M42 28l0 1M81 154l1 0M97 83l-1 0M152 35l0 0M117 28l-0 1M88 75l0 1M143 128l1 0M21 52l1 0M137 77l0 0M114 123l-1 1M107 12l-1 0M57 20l-1 0M80 2l0 0M16 92l1 1M131 10l0 0M101 95l-1 0M21 125l-0 0M129 93l-0 0M21 94l1 1M53 151l-0 0M110 151l-1 0M115 110l0 0M28 118l-0 0M10 46l0 0M10 77l1 0M129 9l0 0M142 10l-1 0M150 8l1 0M77 152l-0 0M131 120l0 0M146 114l1 0M115 154l0 1M51 93l1 1M118 77l1 1M71 155l-0 1M137 13l-0 0M5 151l0 1M157 4l0 0M97 52l0 0M114 10l-1 1M31 108l-0 0M36 48l1 1M25 46l0 0M34 103l-0 1M112 75l0 1M89 145l-0 1M109 89l-1 0" stroke="#650d0d" stroke-width="1.6"/><path d="M34 64l0 1M79 61l-1 0M118 111l0 0M109 62l-1 0M33 113l-0 1M70 160l0 0M110 48l0 0M132 20l-1 1M133 68l-0 0M59 89l-0 0M120 72l-1 1M1 90l0 0M99 143l1 0M158 49l1 0M149 102l-1 0M93 130l0 0M135 70l0 0M142 99l0 0M37 48l-0 0M94 76l-0 0M28 55l0 0M145 100l-0 1M133 107l0 1M130 115l1 1M1 49l-1 1M142 142l0 1M72 10l0 0M95 128l-0 0M98 68l-1 0M127 108l0 1M149 70l-1 0M26 83l0 0M160 52l-1 1M133 120l0 1M121 126l0 0M29 150l0 1M118 85l-0 1M8 49l-1 0M131 94l0 0M119 58l1 1M73 10l-0 0M113 81l-0 0M129 78l-0 0M87 79l0 0M35 147l-1 0M79 150l-1 0M88 55l-0 0M44 73l-0 0M131 63l0 1M104 137l-1 0M16 131l-1 1M108 87l-0 1M22 105l0 0M64 61l-0 0M27 108l0 0M67 78l-1 0M67 39l0 0M60 63l-0 0M19 101l-1 0M44 54l-0 0" stroke="#3c0808" stroke-width="1.6"/></g><clipPath id="ca110"><rect width="164.2" height="164.2"/></clipPath><clipPath id="ca111"><rect width="164.2" height="164.2"/></clipPath><clipPath id="ca112"><rect width="164.2" height="164.2"/></clipPath><clipPath id="ca113"><rect width="164.2" height="164.2"/></clipPath><g id="D12" fill="none" stroke-linecap="round"><path d="M158 12l0 1M97 7l1 1M121 110l-0 2M125 140l0 1M89 107l0 1M162 69l-0 0M154 105l0 2M47 81l-1 2M29 95l-0 1M90 53l0 1M134 116l1 1M4 100l0 1M99 5l-0 1M124 4l1 1M159 115l-1 0M2 52l1 1M104 28l-0 1M53 158l1 1M46 61l0 0M105 85l0 1M78 112l-1 2M123 17l-0 1M73 82l-2 0M121 107l0 0M102 34l0 1M8 112l-0 1M147 23l1 1M153 116l-1 1M134 24l1 2M96 36l-0 1M152 26l1 0M16 79l-0 0M133 148l-1 1M129 144l-0 1M140 66l1 0M155 141l-2 1M139 80l-0 1M149 75l1 1M69 144l0 0M20 51l-2 0M62 116l-1 0M5 1l1 0M104 54l-1 1M63 69l-0 1M76 37l-0 0M81 149l-1 1M113 72l0 2M50 46l0 1M135 123l1 1M134 136l1 0M123 7l0 0M115 130l-1 0M1 91l-1 2M19 106l0 1M111 104l2 1M134 6l0 0M48 31l-0 2M156 66l1 1M163 144l-1 0M76 8l-1 1M33 103l2 0M97 82l1 2M139 135l0 1M59 32l1 0M142 97l1 1M109 104l-0 1M47 42l1 0M60 95l-1 1M17 107l1 2M93 99l1 0M36 96l-0 0M122 53l2 1M100 10l-0 0M14 43l-1 1M60 9l-0 1M66 98l1 2M148 93l-0 2M26 104l1 0M119 122l-1 0M151 34l-1 1M61 46l0 1M17 43l0 2M45 115l-1 1M158 0l-0 0M126 122l-1 1M137 41l1 1M50 39l-0 0M96 106l-0 0M72 10l-0 0M143 40l0 2M88 42l-0 1M131 85l1 1M3 94l-0 0M100 37l-1 0M94 10l1 1M151 84l-1 1M85 85l2 0M45 110l1 0M31 21l-1 0M109 22l-1 2M51 98l-1 0M46 152l2 0M160 57l2 1M84 93l1 0M37 21l2 0M156 126l-1 0M123 21l1 1M81 149l1 1M29 115l0 2M117 35l-1 1M127 105l0 1M138 99l-1 0M29 120l0 1M56 71l0 0M31 159l-2 1M93 63l0 0M8 151l0 1M146 60l1 0M47 124l1 0M25 58l-1 1M96 88l-1 1M98 89l0 0M39 99l-0 0M157 85l1 0M162 57l-1 1M49 54l-0 1M127 34l-1 1M30 68l-1 0M61 39l1 0M137 49l1 0M94 157l0 2M65 110l-1 1M27 138l-0 0M70 142l-1 1M84 10l1 1M39 88l0 0M53 35l0 0M93 16l2 1M161 66l2 0M25 77l2 0M126 159l1 0M130 69l0 2M128 123l-1 0M73 129l-0 1M9 28l0 1M154 153l-1 1M156 26l0 1M46 86l0 0M18 56l2 1M47 86l-0 0M115 106l-1 2M146 84l0 1M66 160l0 1M68 41l-0 0M14 37l0 1M10 16l-0 0M9 5l-0 1M149 31l2 1M113 107l-1 1M147 24l2 0M126 20l-2 1M138 143l0 1M134 86l1 0M52 146l-1 1M116 93l-0 0M123 122l-2 0M8 131l-1 0M133 90l1 0M162 58l-1 0M57 161l-0 2M119 39l0 0M80 142l-0 1M121 83l2 0M108 149l-1 1M10 101l1 0M104 80l1 0M132 37l-1 0M154 154l2 1M33 2l-1 0M63 5l1 0M57 130l-1 0M121 26l-0 1M8 68l-1 0M47 44l0 2M20 9l0 0M41 24l-2 0M126 107l-1 0M42 136l0 0M150 27l-0 0M67 139l-1 2M3 75l1 1M47 155l1 1M4 111l1 0M65 32l-0 2M21 65l1 1M150 81l-1 1M80 51l2 0M147 128l0 0M96 112l-2 1M145 116l-0 1M150 90l-0 1M126 104l-0 0M103 47l0 0M96 54l0 0M29 98l1 0M131 138l0 1M12 29l1 0M36 6l-1 1M61 27l1 1M87 31l1 1M38 157l-0 0M149 23l1 0M48 1l1 2M13 32l2 1M106 20l-1 0M32 49l1 1M160 64l1 1M133 64l1 0M120 47l2 0M65 24l2 1M13 110l-2 1M135 123l1 0M111 150l-1 0M53 40l-1 0M143 33l0 0M3 27l1 0M26 31l-2 1M12 22l-1 1M135 26l-0 0M114 21l-1 0M130 105l-0 1M114 41l-1 1M141 27l-1 0M20 161l-1 1M74 145l1 2M34 113l-1 2M27 108l-2 0M111 100l0 0M148 138l0 0M13 18l-1 1M155 54l-1 0M25 52l2 0M82 97l-1 1M118 96l0 2M126 95l0 1M82 29l-0 1M60 102l2 0M118 3l1 0M54 156l2 1M65 49l0 0M69 31l-1 0M117 107l0 0M3 114l0 2M19 121l0 1M150 81l0 1M145 126l-1 1M25 19l1 2M3 116l0 0M2 58l-1 1M34 153l-0 0M16 93l0 0M3 90l-0 0M69 89l1 2M70 45l-1 0M159 69l-1 0M40 154l1 0M90 101l2 1M151 160l-1 2M10 63l1 1M61 25l0 2M130 146l0 0M20 136l-1 0M16 61l0 0M55 37l1 0M7 151l-1 1M28 57l1 0M73 10l1 1M160 35l2 1M140 63l0 0M98 4l-0 0M105 19l-2 0M20 35l-1 2M24 71l-1 0M131 22l0 1M85 112l1 2M80 12l-1 0M22 17l-0 1M18 8l-1 1M9 162l-1 1M109 96l1 1M40 131l1 2M160 93l1 0M54 93l-1 2M16 55l-0 1M161 109l-1 1M159 142l-1 0M59 74l0 1M9 154l-1 1M46 44l1 1M4 141l1 0M120 144l0 1M132 93l2 1M158 128l1 0M1 94l0 1M60 20l1 2M99 42l1 2M123 84l1 1M7 19l-0 0M113 147l-0 1M60 62l-0 0M146 23l0 0M84 147l-1 1M145 90l1 0M140 96l0 1M17 120l0 1M74 141l-1 1M146 82l-0 0M10 7l-0 0M53 16l-0 1M12 125l1 2M111 5l1 1M119 31l1 1M88 65l-0 1M124 100l-1 1M119 76l-1 1M162 138l-1 0M94 20l1 1M134 41l-2 0M34 48l-1 1M148 51l-0 1M91 60l-0 0M145 106l-1 1M115 90l0 0M155 85l-1 1M81 34l1 2M66 159l-0 2M52 46l2 1M10 -0l-1 2M61 153l-0 0M75 30l0 1M114 44l1 0M84 25l0 0M161 158l-0 0M106 62l-0 2M115 10l1 0M34 46l0 2M8 12l1 1M6 88l1 0M62 54l2 1M98 6l-1 0M92 99l-0 2M32 138l1 1M85 30l1 0M19 92l1 1M12 157l-1 0M155 48l1 0M120 82l-0 1M35 12l0 2M132 46l-1 2M45 84l1 0M79 151l-1 1M42 103l-0 0M44 146l-1 0M72 94l1 0M114 45l1 0M140 104l0 0M128 48l-0 0M86 34l-1 0M157 135l2 0M54 30l-1 0M22 127l-1 2M117 19l1 1M47 7l-1 0M124 126l2 1M92 1l1 2M55 43l1 0M130 60l-1 0M148 112l-2 0M126 128l-1 1M70 34l-0 1M116 3l-1 1M146 78l0 1M68 35l0 1M18 55l1 1M21 160l1 1M86 96l-0 0M161 160l0 0M32 163l0 1M8 68l0 0M134 133l-1 1M93 10l0 0M106 85l0 0M138 46l0 1M12 146l-0 1M25 29l1 1M33 11l-1 1M35 124l0 1M131 96l-0 0M134 133l0 1M132 118l2 1M29 4l0 0M141 163l1 1M3 3l-1 1M81 114l0 0M71 62l-1 1M17 101l-1 1M137 54l1 1M135 135l-0 2M36 99l2 1M74 101l1 1M24 134l1 0M162 71l2 1M116 67l-0 2M70 29l1 1M59 0l-0 0M27 133l1 1M60 38l-1 0M4 1l0 2M21 9l-1 1M23 40l-1 1M7 100l-0 0M47 73l-1 1M2 103l-1 0M154 12l1 2M145 59l-1 2M133 70l0 0M154 45l-1 1M60 4l-2 1M126 25l-2 1M163 98l-0 0M51 11l-1 0M137 109l1 1M91 135l2 1M119 63l-1 1M36 30l0 0M88 37l-2 1M154 91l0 2M121 46l-1 0M11 97l1 1M27 127l0 0M52 21l0 1M66 25l-1 0M40 105l1 1M9 114l-0 1M1 95l-0 1M33 14l-1 1M63 49l1 0M98 158l0 1M33 95l1 1M13 33l1 0M19 102l1 1M43 12l-0 0M151 32l1 0M138 98l1 2M39 2l-1 1M141 44l1 0M123 112l-2 1M154 104l0 2M144 129l-1 1M61 149l-1 0M126 67l-0 0M101 113l0 1M24 160l-1 2M133 61l1 0M67 159l-0 0M73 28l-1 1M134 62l-0 1M131 94l2 1M27 82l-1 0M62 98l0 2M162 50l1 1M99 163l0 1M156 152l2 1M22 124l0 2M162 159l1 0M7 17l1 0M109 58l1 1M47 23l1 2M100 107l1 1M127 56l-1 2M144 45l-1 0M137 82l0 2M9 46l-1 0M158 89l1 0M47 154l0 0M54 101l-1 1M38 14l1 1M139 85l1 0M38 15l-0 0M109 103l-2 1M134 149l-1 2M70 13l-0 1M48 55l0 1M42 88l-0 0M22 110l-0 2M141 113l0 1M124 57l-1 2M87 120l-2 1M138 150l1 2M92 76l1 1M118 54l-0 0M154 143l1 2M80 111l1 2M140 3l-1 1M91 148l-0 0M151 14l0 1M34 95l2 1M19 45l0 0M158 136l2 0M152 144l-2 1M140 93l0 1M103 70l-0 1M104 97l-1 1M20 54l1 1M48 23l0 1M58 6l-1 2M83 58l0 0M27 97l-1 0M7 161l-1 0M45 3l0 0M33 92l-0 0M23 7l1 1M109 33l-0 0M142 15l-2 1M116 14l2 0M162 69l1 0M19 38l1 0M113 4l-0 0M134 108l-0 2M141 148l-1 1M116 113l-0 1M44 70l-1 0M157 2l0 1M149 118l0 1M15 23l0 0M62 138l2 1M161 125l1 0M99 127l0 1M130 41l-1 2M81 28l2 0M126 112l1 2M32 150l-0 2M67 58l1 0M139 94l-1 0M60 135l-0 1M143 57l-0 1M27 67l-1 1M153 85l0 1M61 90l1 1M49 75l-0 0M135 8l-1 1M124 20l-0 2M37 143l1 0M27 115l0 0M76 114l-2 1M77 109l0 1M37 74l-0 1M9 124l-0 1M87 56l0 0M124 38l2 1M142 4l-2 0M69 122l0 0M133 61l-2 0M163 110l0 1M31 126l1 1M158 125l-1 1M122 40l0 1M38 116l-1 1M153 21l-2 1M26 140l2 1M162 71l1 1M91 89l1 1M134 14l0 1M8 137l-1 1M136 119l-0 0M125 31l1 1M127 130l0 1M37 66l-1 0M61 160l1 1M33 91l0 0M28 120l-0 2M26 39l-1 1M151 28l1 0M86 110l1 1M90 64l-1 1M113 46l-0 2M0 56l-0 1M72 48l-1 0M8 127l-2 0M9 73l-2 0M147 9l-1 1M117 97l-1 0M148 65l-2 0M15 136l-1 1M7 50l1 2M148 26l-1 2M28 89l2 0M122 23l-0 1M42 74l0 0M99 146l-1 0M23 44l-0 0M37 135l0 2M6 70l-1 0M30 66l0 0M151 157l1 2M44 107l0 0M20 122l0 1M110 44l0 1M77 16l-1 0M164 148l-1 2M143 151l-1 2M50 27l1 0M154 133l1 1M123 37l0 0M10 154l0 2M68 49l0 0M47 118l0 1M105 94l-1 1M112 40l1 0M61 103l-1 1M7 133l-0 0M47 54l0 1M112 14l1 1M37 67l0 2M130 106l-1 1M76 37l-1 0M99 89l1 1M92 8l0 0M52 47l-1 1M103 114l-1 0M65 126l0 2M43 21l1 0M22 48l-1 1M116 55l-0 0M103 76l-0 1M-1 44l2 1M49 17l-1 0M132 119l-1 1M12 17l2 1M63 37l-1 1M77 137l-0 1M128 71l1 2M102 18l2 1M152 63l2 0M161 13l1 0M130 131l1 1M161 115l0 1M8 58l1 1M34 119l-1 0M108 118l-0 1M52 20l1 1M35 97l-1 1M47 10l2 1M153 35l0 2M80 106l-1 1M148 0l0 0M39 82l1 0M114 31l1 1M97 7l-1 2M156 120l1 1M112 95l1 1M100 118l-1 1M126 119l-1 1M31 23l2 1M123 86l-2 1M118 50l1 0M38 101l0 1M124 78l-0 0M93 68l0 0M163 131l0 1M127 145l-1 1M131 0l2 0M157 114l0 2M102 26l0 1M126 56l2 0M27 36l0 0M23 44l-1 0M149 57l-2 1M41 19l0 1M23 12l-1 0M48 87l0 1M104 63l1 0M27 15l-1 0M36 50l-1 1M116 37l-1 0M43 21l1 1M9 156l0 1M151 92l1 0M160 16l-0 1M91 52l0 0M0 106l2 0M28 69l-0 0M44 129l1 0M47 159l2 1M137 133l-1 1M87 11l0 1M150 29l1 0M63 79l0 0M29 44l2 0M163 110l-0 0M87 82l0 2M89 9l-1 2M147 3l1 0M118 70l-1 0M62 122l1 1M50 76l-1 2M161 108l1 0M16 53l-1 1M162 148l1 1M118 108l1 1M91 18l1 1M62 94l1 1M10 4l0 1M160 25l-1 0M6 17l-0 0M111 47l-1 0M126 99l-0 1M109 112l-0 0M1 31l-1 1M149 117l0 1M73 8l0 1M114 64l-0 2M60 144l-1 0M137 61l2 1M162 14l2 1M99 105l0 0M73 113l-1 2M153 74l0 1M120 30l-0 0M110 57l0 1M40 32l-0 2M127 84l-0 0M81 76l-2 1M9 29l-2 1M55 126l0 1M36 132l-0 0M2 82l-1 1M121 123l-0 1M73 73l-0 2M138 24l0 2M112 131l-0 2M54 113l0 0M110 24l0 1M49 64l2 1M131 11l1 1M12 3l-2 1M79 18l-1 0M35 65l0 1M57 157l0 1M157 124l-1 0M39 96l-1 1M42 81l-1 1M132 161l-0 1M45 101l-0 1M100 60l2 1M19 153l-1 0M35 82l-1 0M129 54l0 1M8 70l-2 0M82 33l-0 0M75 14l0 2M118 109l-1 1M31 24l-1 1M113 72l1 1M52 -0l-0 2M160 19l0 1M82 23l0 2M158 31l-1 1M50 28l-1 1M138 29l-1 0M13 50l1 1M62 159l-1 1M39 133l-0 2M22 102l-0 0M22 110l0 0M95 152l-1 1M102 134l0 0M63 36l-0 0M22 58l-2 1M88 32l1 1M47 73l0 2M14 54l2 1M135 92l-1 1M5 64l1 0M86 129l0 1M160 80l1 0M36 119l0 1M47 39l-1 1M16 12l-0 1M34 6l-0 0M116 164l-1 0M18 143l-1 1M64 14l1 1M79 65l-2 1M152 25l1 1M124 91l0 2M40 19l-0 1M25 156l0 0M54 27l-1 1M142 162l-1 1M36 68l1 0M150 39l0 1M147 135l1 0M158 2l-1 1M97 37l0 1M90 134l0 0M151 52l1 0M122 31l1 0M51 3l0 0M162 120l1 0M85 8l-0 1M18 142l1 1M127 161l0 0M52 82l1 1M162 48l-0 1M64 138l1 1M157 154l-0 1M4 160l-0 1M70 137l-1 0M127 133l1 1M16 15l-1 0M137 20l-2 0M7 92l0 1M121 10l0 1M160 31l-0 1M133 150l-1 2M153 26l-0 0M118 108l1 1M111 120l1 1M13 67l0 2M147 46l-0 0M88 56l0 2M141 158l1 1M136 20l1 0M156 69l0 1M78 9l-0 1M141 78l-0 0M121 62l0 0M114 68l0 1M71 10l0 1M12 58l-1 1M6 61l1 1M87 23l1 0M4 56l-0 2M150 77l1 2M85 93l1 1M115 81l1 1M119 5l0 1M0 54l0 0M24 4l-0 1M69 38l0 0M113 81l-1 0M138 117l-1 1M127 33l1 0M59 110l-0 0M82 101l1 0M157 155l0 0M130 48l-2 1M67 121l0 0M51 50l-1 0M97 24l-1 1M125 101l0 1M122 118l1 1M91 52l-1 1M163 17l-1 1M40 137l-0 1M79 47l0 0M124 116l0 1M143 86l-1 1M41 7l0 0M60 153l1 1M20 158l-2 1M137 151l1 1M42 94l1 0M121 131l1 0M31 14l-0 0M96 50l1 0M1 2l-0 0M47 84l1 0M69 122l0 1M59 123l1 0M24 21l-1 0M36 18l0 1M123 162l-1 1M26 91l-0 1M161 16l-1 1M96 25l-0 0M106 59l1 0M2 77l-0 0M135 127l1 1M146 123l-1 1M133 145l-1 1M37 10l-1 0M83 92l1 0M131 103l-0 1M38 126l-0 0M110 29l0 1M141 4l-1 1M90 117l1 2M99 40l-2 1M135 131l1 0M60 18l-1 2M124 2l1 0M148 57l-1 0M117 58l-0 1M113 4l2 1M52 54l0 2M79 33l-1 1M151 49l-0 2M60 31l-1 1M116 25l-0 1M30 95l-0 1M76 124l2 1M136 120l-2 0M76 39l-2 0M95 104l-2 1M132 126l-0 1M2 97l1 1M136 19l-0 1M27 89l-2 0M91 102l1 2M26 16l-0 0M159 19l-1 0M93 71l0 1M96 38l0 2M24 18l-0 0M89 105l2 1M9 97l-1 0M66 106l2 1M122 155l0 0M145 59l-0 1M50 119l-1 1M149 159l-0 1M126 31l-0 0M16 56l-0 1M37 57l1 2M105 55l1 0M118 23l0 0M133 89l-0 0M69 130l-1 0M21 108l-0 1M59 99l-1 1M118 117l1 0M5 14l-1 0M79 125l1 0M126 113l-0 0M18 10l1 0M56 106l1 2M153 65l1 0M31 26l-0 1M108 109l1 0M95 109l1 0M77 115l0 2M1 140l1 1M120 16l1 1M146 107l-1 0M119 22l-0 1M48 77l-0 0M94 81l-0 2M15 112l0 2M154 110l1 1M152 155l-1 0M161 14l-2 1M34 18l0 2M106 13l-1 1M124 118l-1 1M112 51l-1 2M41 93l0 0M135 85l-0 2M160 60l1 1M134 69l-2 0M160 43l0 1M2 54l-1 0M161 38l1 1M88 112l0 0M121 53l1 1M118 6l0 0M145 63l1 1M62 78l2 1M122 100l-0 0M24 64l2 1M136 46l1 1M154 120l0 2M47 41l1 0M160 138l1 0M108 43l2 0M162 43l-0 1M123 118l0 1M160 70l-1 2M153 140l-0 1M97 118l1 2M58 43l-1 2M91 154l1 2M16 43l2 1M3 156l-1 1M42 49l1 2M47 114l-1 2M89 146l-0 2M44 75l-0 2M15 72l1 1M39 116l-0 1M4 67l0 2M96 127l0 0M67 10l-0 0M115 87l-1 1M157 40l-0 0M59 29l-0 0M43 125l0 0M15 157l-1 1M91 83l-1 2M38 138l-0 1M147 33l1 1" stroke="#1296f2" stroke-width="3.5"/><path d="M47 19l-0 1M124 120l0 0M12 70l-1 1M72 13l-1 0M57 31l-1 2M30 10l1 1M152 5l0 1M65 130l0 1M81 67l-1 1M47 110l-1 1M126 27l-0 2M82 30l1 0M140 115l0 2M16 71l0 1M38 10l1 0M6 25l0 0M26 21l-0 2M56 147l-1 2M164 26l0 1M79 23l-1 1M88 120l1 1M23 49l1 0M2 156l1 1M78 108l-1 1M54 109l-1 0M163 15l-1 1M141 27l1 1M4 133l2 0M29 57l-1 1M98 80l-2 0M51 81l0 1M7 11l-1 2M91 95l0 1M143 80l1 0M54 6l1 0M98 66l-1 0M94 1l1 2M142 108l-0 1M135 88l-1 1M151 3l-1 1M134 13l0 0M151 128l-1 0M54 150l-1 0M80 40l-0 1M19 46l2 0M134 21l1 1M49 13l1 1M82 95l-2 0M150 92l0 1M40 158l0 0M157 159l1 0M25 125l-1 0M57 125l0 2M151 6l1 1M44 94l2 1M12 103l-0 1M107 154l-1 0M80 54l-1 1M118 88l0 2M31 13l-1 0M85 49l-1 1M162 86l1 2M15 72l2 1M133 121l1 2M44 78l1 1M115 125l1 1M3 4l-0 0M126 105l-1 0M39 73l0 0M20 7l1 0M10 87l0 1M83 108l-1 0M160 10l1 2M57 57l-2 0M63 105l0 0M35 70l-0 2M124 57l0 0M73 25l2 0M71 153l-0 0M10 137l2 1M72 18l0 1M44 160l0 0M38 88l1 2M19 120l0 1M116 148l0 1M152 138l-1 0M11 101l-0 1M95 34l-2 0M143 108l-1 0M90 53l-1 1M59 91l1 0M150 74l0 1M24 93l-1 0M115 62l-0 2M1 70l1 1M74 149l0 1M3 65l0 0M33 126l0 2M137 40l-0 2M44 -0l-0 1M53 42l-0 2M150 61l-1 1M158 152l-2 1M2 29l-0 2M64 114l1 1M141 131l0 0M86 19l-0 1M155 45l0 0M20 52l-0 1M84 141l-0 1M76 51l1 1M152 20l-0 2M131 127l-0 1M157 161l-0 1M138 126l-1 0M149 45l1 0M24 62l-1 1M128 122l0 2M120 152l-2 0M100 84l-1 2M120 51l-0 1M113 104l-1 1M53 20l-0 1M126 105l0 0M153 116l-0 1M129 48l0 0M153 31l-1 0M102 156l2 1M118 86l-1 1M58 117l2 0M113 5l0 1M84 110l-1 0M40 62l-1 0M142 142l-1 0M43 23l-1 1M13 92l1 1M102 46l-1 0M122 56l-0 2M103 155l-1 2M18 123l0 0M70 86l-0 1M18 77l-1 0M31 69l0 1M53 9l0 1M14 139l-2 0M69 26l-0 0M127 16l-0 1M121 107l-2 0M15 103l-2 0M149 93l-1 1M101 138l2 1M32 22l0 1M48 32l-1 2M58 72l0 1M125 4l-0 0M40 30l0 0M10 116l-1 2M75 10l-1 0M4 52l-1 0M23 132l0 1M96 46l1 0M14 18l-1 0M139 19l-1 1M147 77l0 1M44 161l-0 0M8 140l-2 1M85 72l0 1M28 -1l0 2M162 60l-0 1M141 125l1 1M1 62l0 2M50 54l0 2M121 103l1 1M146 146l-0 2M61 60l2 0M131 57l1 1M59 153l-1 1M118 93l0 0M90 141l1 0M30 161l1 0M121 17l-1 1M132 118l-0 0M56 115l-1 0M129 124l0 0M159 114l1 0M95 104l-1 1M60 140l0 1M120 118l-1 1M77 38l-0 0M120 102l0 0M157 17l0 1M119 129l0 0M11 84l0 1M53 137l1 0M47 74l1 1M68 109l1 0M53 91l-1 1M37 70l-0 1M29 97l-0 1M28 138l-1 1M162 71l0 1M149 81l1 1M109 21l1 1M45 133l-1 1M143 16l1 1M153 13l-0 0M116 4l0 0M11 10l-1 1M1 79l1 1M133 94l-1 0M36 63l-1 0M77 92l1 0M143 152l-0 0M25 40l-0 0M20 72l0 1M90 81l-1 1M8 66l-0 1M54 136l1 1M109 -0l-0 0M120 96l-1 1M120 55l-2 0M43 94l1 1M36 18l-0 2M17 12l0 0M65 79l-1 0M157 23l-0 1M108 154l-0 0M-0 96l1 1M132 74l1 1M133 10l-1 0M150 132l-0 1M119 37l0 1M132 118l2 0M39 161l0 0M128 111l1 1M85 143l-2 1M98 95l1 1M74 90l-2 0M136 52l-1 1M1 98l0 1M140 47l-1 1M10 137l-0 1M63 33l1 2M66 70l1 1M147 50l-1 1M111 25l1 2M90 109l1 1M159 134l-0 2M11 95l-0 1M49 44l-0 1M29 147l1 1M109 43l-1 1M10 9l-1 0M36 155l-1 2M19 58l1 1M143 37l0 1M54 22l-1 1M129 68l-0 0M148 140l-0 1M137 90l1 0M54 27l-1 0M56 155l1 1M115 53l2 0M160 123l1 2M113 106l-1 1M63 0l0 1M70 1l0 0M3 6l-1 0M19 8l-0 1M123 70l-2 1M163 109l-1 0M101 118l1 1M53 86l-0 0M60 68l-0 0M110 128l-2 1M118 142l0 2M150 156l1 2M151 138l0 1M109 163l-0 0M98 101l-0 2M59 63l-0 1M41 35l0 0M153 2l-2 1M69 57l1 2M18 35l0 1M24 143l0 1M90 31l1 1M100 30l-2 1M64 62l-1 1M121 49l0 1M144 35l-0 0M151 156l-1 2M159 53l-1 2M21 78l-0 2M69 19l-1 1M152 135l1 0M137 161l-0 1M122 34l-0 1M141 9l-0 1M146 114l0 1M151 32l-2 1M96 98l1 1M160 17l1 1M59 34l1 0M122 91l-0 0M77 110l-1 1M28 41l-0 1M5 132l0 1M8 53l-1 2M160 17l-1 1M149 31l-0 1M120 110l-1 2M36 11l0 1M105 34l1 0M90 116l-0 1M151 124l1 1M58 61l0 1M34 102l0 1M126 66l-1 1M131 45l-0 1M96 145l0 0M152 36l0 0M88 41l-1 0M104 114l-1 2M37 157l1 2M82 146l1 2M33 67l-2 1M127 13l-1 0M24 103l1 2M59 7l-1 1M38 85l-1 2M77 46l0 2M104 82l-2 0M19 13l0 0M57 28l-0 0M123 23l-1 0M37 10l-1 0" stroke="#0d6fb4" stroke-width="3.1"/></g><g id="G12" fill="none" stroke-linecap="round"><path d="M156 108l1 0M161 52l-2 0M18 102l-1 0M136 66l-2 2M72 137l1 0M110 92l1 1M62 74l-0 0M106 108l3 0M41 137l1 0M72 96l0 3M9 160l-1 1M117 21l0 3M154 163l1 3M99 37l-1 1M119 26l-2 2M131 97l1 1M33 76l2 2M101 33l-1 1M148 73l1 3M89 35l3 0M62 100l-0 3M75 62l-2 0M143 100l-2 1M52 90l-2 1M48 159l-0 0M44 130l0 2M33 88l-0 0M142 98l1 1M128 145l1 2M60 117l-1 3M44 163l-1 1M136 81l-0 3M112 157l0 1M89 152l-3 2M4 93l3 0M16 164l-1 0M65 132l-2 1M60 4l-1 1M111 151l1 0M44 122l-2 3M86 155l-0 2M57 161l-2 0M101 58l-0 1M81 88l-0 1M60 69l-2 1M12 107l1 1M160 77l-1 1M67 142l-3 0M94 30l1 1M2 159l3 0M143 87l3 1M161 137l-1 1M12 45l0 2M19 29l0 2M132 8l-3 0M63 66l2 1M97 147l1 1M164 121l-0 1M139 71l-1 2M8 45l1 1M67 107l1 1M56 74l2 2M132 18l1 0M25 66l-0 1M67 157l-0 1M7 129l1 2M128 125l-2 1M81 152l2 2M141 52l0 2M154 80l1 1M84 78l1 2M61 53l2 1M28 71l2 2M140 29l3 1M152 70l0 1M95 78l2 2M18 135l-2 1M145 19l-0 1M76 101l1 1M139 155l0 3M54 138l-3 1M55 80l-1 1M115 24l3 1M115 34l-2 2M5 140l2 1M47 70l-0 0M102 28l1 2M100 159l-0 3M30 86l0 2M33 74l0 1M38 141l0 1M15 68l-1 1M106 65l3 2M52 12l-2 0M110 32l-3 2M77 33l-1 1M133 39l-1 2M146 111l-2 1M125 94l1 1M96 93l1 0M39 66l-2 0M56 46l1 0M78 70l-1 1M149 127l-1 2M5 151l-1 0M123 68l1 0M104 0l-0 1M36 35l-1 2M46 14l-0 2M43 37l-1 1M136 113l0 3M94 154l2 3M61 112l0 2M82 142l-1 3M136 18l-1 3M148 77l3 1M141 144l-3 2M104 24l0 1M70 91l-2 1M92 33l-1 3M157 79l1 2M39 78l-0 1M56 114l-1 1M24 164l-1 0M144 32l-2 1M9 52l1 1M42 118l0 1M74 133l2 1M27 20l2 1M62 97l0 1M108 143l1 1M147 62l1 1M108 71l-0 3M48 70l1 0M153 1l-1 0M80 60l1 2M144 78l0 1M84 94l-1 1M125 20l-0 2M7 32l0 1M128 66l-0 1M131 145l-3 0M98 151l-2 1M79 43l1 3M28 50l-1 3M113 23l-1 1M154 72l-1 1M95 142l-1 2M39 108l-0 2M149 121l-3 0M55 13l-1 2M90 77l1 2M145 121l-0 1M63 59l2 2M160 23l0 1M155 163l-1 1M39 129l2 1M1 85l1 2M39 110l-1 3M61 42l2 1M20 58l2 1M163 99l1 0M65 74l1 1M44 99l-1 3M59 78l1 1M146 35l-3 2M146 140l-1 0M67 90l0 3M58 74l1 2M33 91l0 3M103 28l1 0M89 6l-2 1M104 148l-1 0M95 114l-1 2M58 79l3 1M116 65l-1 3M119 152l-2 3M29 42l1 1M40 93l-2 1M88 74l0 3M43 106l1 2M79 41l-0 1M90 79l1 1M9 45l-1 1M124 29l-1 3M43 50l1 2M151 104l1 1M1 88l1 2M106 103l-2 1M161 71l2 0M76 70l3 1M140 70l-2 0M108 94l0 1M28 131l-3 0M101 90l-1 1M49 11l1 1M147 41l1 1M29 120l1 0M45 98l-1 1M46 67l-1 1M49 99l1 0M85 157l-1 1M152 71l2 2M29 60l3 1M80 149l0 2M92 138l0 1M34 53l-0 3M108 47l2 1M98 12l-1 3M141 144l1 1M50 160l-0 3M110 161l-1 0M82 154l-1 0M51 33l2 0M19 19l3 0M164 132l-1 1M147 23l-1 1M86 129l-1 2M131 131l2 0M41 155l3 1M110 72l-2 1M4 57l-1 2M112 26l-1 1M139 5l2 2M110 133l-1 1M55 118l3 1M93 112l-1 1M103 76l-2 1M99 106l1 3M132 61l-2 2M80 155l-1 2M84 96l2 0M94 92l2 2M164 146l-3 2M54 70l2 1M118 67l-1 0M33 88l-1 1M58 77l-2 0M157 24l-0 0M153 63l2 2M135 16l-2 0M37 101l-1 1M84 128l1 0M156 42l-3 0M80 116l-1 0M1 32l1 3M27 26l0 2M57 73l-2 1M161 98l1 0M118 65l-1 0M157 115l-0 1M60 54l-1 1M98 21l3 2M26 147l-2 1M58 116l1 1M97 63l2 0M116 83l-1 1M127 139l-3 1M118 36l-1 2M85 64l0 1M57 86l3 1M71 146l1 3M61 44l-0 1M131 84l2 0M161 110l-1 1M97 12l2 2M138 81l1 0M94 60l-1 3M14 78l3 1M79 145l-1 2M91 70l0 1M1 121l-0 2M60 122l2 1M57 70l1 0M157 109l2 3M140 66l1 3M92 127l-2 1M66 152l-1 1M4 52l1 1M147 98l-1 1M41 90l-0 3M136 33l-2 2M110 74l-3 1M50 86l-0 1M84 13l2 1M94 20l3 1M43 70l-1 2M130 45l2 1M41 15l-2 3M74 53l-1 0M74 155l0 1M83 134l1 1M131 30l3 1M25 7l-2 3M106 115l1 3M23 37l-1 3M119 51l-1 1M128 126l1 3M46 18l1 2M10 45l-1 2M133 16l3 1M35 66l-1 1M1 160l0 1M106 88l-1 1M117 149l-1 1M125 98l1 1M133 60l2 2M143 10l-2 2M9 42l-0 2M149 149l-1 2M86 138l-1 2M42 32l-1 0M163 148l2 2M19 155l1 0M109 36l-1 0M23 62l0 1M147 113l1 1M39 88l-1 0M150 4l-1 0M119 7l2 2M112 105l-1 1M102 0l2 1M118 53l-2 1M84 63l-0 1M19 93l-2 2M52 116l-3 1M109 149l-0 1M43 154l1 1M13 39l1 0M49 160l-1 1M99 18l-2 2M85 37l-1 0M22 24l0 3M85 60l0 1M63 95l-1 1M101 112l-0 1M141 50l-2 1M142 138l1 1M80 144l0 2M65 107l0 1M143 31l0 1M60 120l-2 0M161 18l-1 0M84 160l1 2M146 33l-1 3M121 35l0 1M76 -1l-2 2M19 162l-2 2M29 44l0 1M150 39l1 3M128 28l-1 2M137 62l-2 0M148 71l-2 0M96 149l-0 0M27 31l1 1M130 123l1 1M25 40l1 2M122 89l-1 0M105 112l-2 1M63 116l1 1M116 81l1 2M119 54l-2 1M83 13l-2 1M26 7l3 1M89 138l-0 1M74 59l-0 1M6 48l-3 1M78 45l2 1M87 128l1 3M1 90l1 2M72 162l-0 3M117 150l-2 1M116 143l-3 1M79 113l1 1M130 25l-0 1M141 34l-2 2M89 121l2 0M63 133l0 1M26 33l-0 0M83 80l2 1M28 38l-1 1M151 66l2 2M28 7l-2 1M52 120l3 1M2 61l3 0M109 4l0 1M6 29l2 2M89 30l-1 2M150 19l1 0M81 75l1 0M38 116l2 2M115 125l0 1M74 131l-0 0M105 88l1 1M39 134l-2 1M85 68l2 2M88 150l-1 0M107 82l1 1M135 25l-1 1M73 125l-2 1M104 110l2 1M110 149l-1 1M115 22l-2 2M155 91l-0 2M152 92l1 2M31 11l-1 2M134 153l3 1M113 97l0 1M0 108l-0 3M37 151l-1 1M68 155l-0 3M12 94l-1 1M137 56l-2 1M148 9l2 2M79 144l1 1M86 134l1 1M79 114l0 1M67 43l-0 2M135 74l0 3M18 87l1 0M138 22l-2 1M16 139l3 2M80 61l-0 2M79 32l2 1M126 81l-0 1M112 31l1 1M105 119l-2 1M21 104l-1 2M116 65l-1 0M131 86l0 3M130 81l1 1M78 8l1 1M130 22l-3 0M141 110l-1 0M64 82l-3 1M115 85l-1 3M52 116l0 0M15 66l1 3M104 63l1 1M5 108l-2 0M43 52l-2 1M84 116l-1 2M92 120l-1 2M100 126l1 1M139 125l-1 1M47 112l-2 2M106 105l1 0M21 155l-1 1M6 112l2 1M23 88l-1 2M1 125l-0 1M32 76l-0 0M143 63l-0 2M59 39l-1 1M154 134l-0 1M38 105l3 1M62 123l1 2M41 121l-0 1M129 21l-1 1M144 80l-2 1M36 93l-0 3M44 39l1 3M5 16l-0 2M159 126l-1 1M129 41l-1 2M68 11l-3 2M116 152l-0 3M64 160l1 0M30 22l-2 0M145 149l0 2M51 111l2 2M48 87l-0 1M137 63l3 1M130 43l0 3M144 126l-1 2M136 17l-0 0M20 43l1 3M145 124l-1 0M93 56l0 3M122 88l-0 2M72 121l-3 0M37 3l-0 1M37 74l-0 1M37 51l-2 1M64 113l2 1M82 66l-0 3M127 98l-2 2M91 13l-2 1M122 70l1 0M11 20l1 2M88 9l0 1M42 79l-0 2M130 133l-2 1M132 131l1 3M126 42l0 3M106 158l2 2M24 51l-2 1M56 136l-2 0M73 4l1 3M8 59l1 0M150 62l-1 0M130 158l2 0M47 5l3 0M159 123l0 2M139 145l-1 1M116 20l-3 2M111 137l-1 2M40 96l-2 1M133 115l-1 1M127 73l-1 1M139 54l1 3M60 4l-2 2M22 148l-1 1M141 26l-0 1M139 42l2 2M63 111l1 2M13 105l-1 0M142 123l0 3M5 163l-1 0M117 67l-2 2M25 83l-1 2M58 80l0 2M109 5l1 1M161 142l2 2M147 139l1 0M64 150l-1 2M160 12l1 1M150 63l-3 1M61 71l-2 1M85 96l3 2M147 29l1 1M124 141l-2 2M162 71l1 2M125 5l-0 2M129 96l3 2M144 152l1 3M55 20l-2 2M85 19l-0 3M131 30l-1 1M31 85l1 2M70 8l1 0M76 145l1 0M68 76l1 2M119 94l3 1M46 6l-1 1M99 55l-1 2M146 136l-0 2M67 69l2 2M31 156l-2 2M160 57l2 0M4 96l-0 3M54 31l2 2M10 51l1 2M47 113l1 2M2 83l-0 2M108 48l-1 1M101 136l-2 0M77 79l0 2M37 57l-1 1M52 82l-2 2M13 126l0 1M47 41l-3 2M113 140l2 2M20 69l1 2M162 109l-0 1M113 157l2 0M136 3l3 2M5 105l-0 3M41 72l0 1M74 130l-1 0M85 137l-1 1M144 71l-2 0M46 89l2 0M127 141l2 1M33 54l-3 0M112 8l2 1M133 120l1 2M60 134l-3 0M138 105l0 3M93 111l-0 3M42 99l1 1M127 86l2 2M134 67l-1 1M146 92l-3 1M108 70l1 3M40 100l-0 0M130 14l-3 1M156 2l2 2M51 64l1 0M150 134l1 1M108 65l1 1M9 40l-2 2M95 0l-1 3M55 6l-3 1M76 102l-3 0M102 122l-3 1M156 113l-0 1M101 149l2 3M91 145l1 2M87 38l-2 1M39 138l-0 2M24 2l0 1M122 42l-1 0M25 81l-0 3M72 105l2 1M97 107l1 1M60 124l-1 1M6 148l2 0M151 12l0 1M78 84l0 1M164 97l-1 3M82 118l2 1M145 96l2 0M21 33l3 0M9 57l1 2M76 146l-1 0M156 134l1 1M47 101l2 2M39 92l1 1M52 36l-2 1M28 20l-1 1M128 72l1 0M109 42l1 2M82 57l3 2M122 14l0 1M76 103l-1 0M21 101l2 1M141 30l-2 2M89 70l1 0M58 136l1 0M36 75l-0 1M154 134l-1 1M156 63l1 1M94 133l-2 2M163 77l2 1M17 26l0 1M119 86l1 1M79 111l1 1M71 135l-1 2M139 100l2 3M15 50l2 2M105 18l0 1M11 132l1 1M42 160l-0 1M140 140l1 2M75 155l0 2M110 75l-1 3M46 33l-1 2M36 151l3 2M5 37l-0 1M66 -0l1 1M92 109l-2 0M158 36l3 1M15 65l3 2M2 47l2 2M111 109l1 1M62 59l2 0M107 143l-1 1M68 49l0 2M122 34l-1 1M62 139l3 1M128 49l1 0M85 132l-0 1M47 25l0 0M102 80l2 2M71 145l-2 1M144 92l0 2M98 92l0 0M81 54l-2 0M115 48l3 1M164 90l-1 2M142 13l-2 1M24 93l-3 1M96 66l1 2M142 105l0 2M118 137l2 1M130 57l2 3M110 72l1 2M128 17l0 1M129 107l1 2M2 93l1 1M19 5l-1 2M149 113l3 0M46 114l-0 1M109 115l-2 0M129 28l-3 2M45 143l-2 1M44 65l1 1M102 43l-0 2M59 146l1 1M10 130l-2 1M1 49l-2 2M107 127l2 1M139 72l-1 1M10 46l-1 1M163 68l-0 1M125 27l-3 0M147 21l2 1M109 97l-2 1M22 69l0 0M64 53l1 0M145 119l2 1M108 93l1 1M19 45l-2 2M3 73l-2 3M157 100l-1 0M78 141l-3 1M132 69l1 3M59 157l-2 1M157 39l0 1M141 27l-1 0M80 146l-0 1M11 162l-3 2M35 89l-0 1M134 130l0 1M39 82l1 0M147 27l-3 1M145 76l1 1M90 78l0 1M78 108l2 3M109 19l3 1M102 7l2 2M31 83l0 1M89 130l3 2M132 100l0 2M152 19l1 0M59 105l0 2M95 83l0 1M124 99l3 2M31 44l-1 3M163 105l-0 3M85 49l0 1M102 84l-1 1M43 82l-0 2M12 22l2 1M147 5l-1 3M42 72l1 1M50 137l1 3M40 90l-0 0M112 142l0 2M110 49l1 3M142 121l-0 2M51 57l1 1M50 94l0 2M97 95l1 1M125 163l-2 1M161 91l-2 3M111 156l1 0M163 24l-1 3M76 90l-1 0M65 36l-0 2M143 113l-2 2M43 98l1 1M127 114l-0 1M61 26l-2 2M54 69l0 1M41 89l-1 2M43 39l-1 2M132 41l1 1M122 112l0 1M14 32l0 1M12 36l0 1M81 59l-1 3M71 97l-2 3M127 59l-0 1M32 31l-0 2M157 163l2 1M57 2l-2 1M104 64l-1 1M57 59l-1 0M103 26l0 1M118 137l-1 2M78 106l1 1M2 147l-2 3M41 86l-2 3M94 135l1 1M126 97l1 0M158 28l0 3M41 85l1 0M46 109l-1 1M101 27l1 3M116 22l1 0M77 126l1 0M160 143l-0 1M149 122l1 0M148 148l-0 2M156 28l-3 1M18 85l0 1M53 34l1 1M163 52l-1 1M138 127l2 0M95 11l1 0M121 148l-1 1M42 106l1 2M66 10l-1 1M122 72l-2 2M15 107l-2 0M150 85l1 2M136 70l2 0M31 61l3 1M63 75l2 2M100 61l1 0M133 143l-1 2M135 17l-2 1M84 17l-1 3M40 32l1 1M160 89l1 3M152 15l-2 1M89 85l-3 1M135 64l-1 3M9 154l-3 1M137 33l-1 1M136 66l-0 2M95 91l3 0M143 60l3 0M72 122l-2 0M154 82l-2 2M66 105l2 1M50 90l-2 2M118 42l-1 0M93 66l0 1M119 62l-3 2M121 93l-0 2M138 65l0 1M124 138l-1 0M91 76l1 0M99 31l0 2M135 124l-3 2M18 81l-2 2M157 78l-2 2M35 58l2 0M61 31l0 3M92 60l1 1M48 22l1 1M99 36l2 2M127 68l2 2M157 44l3 1M2 156l-1 2M123 6l-2 2M19 45l-0 2M50 47l1 1M13 28l1 0M35 6l1 3M79 73l-1 2M73 41l1 2M116 72l-2 3M126 53l1 1M105 27l0 2M66 113l-2 1M110 76l-1 2M19 26l0 1M50 107l-1 1M131 66l2 1M87 3l2 0M78 132l-0 1M125 87l-3 1M30 88l-1 1M109 8l-2 0M153 23l1 0M154 50l-2 2M28 86l1 0M132 139l-0 1M142 85l-0 1M23 144l-2 1M13 160l1 0M49 158l0 2M157 95l-3 2M134 83l-2 0M85 84l2 2M85 89l-1 0M52 130l-2 1M112 141l2 0M146 69l-3 1M116 132l2 1M116 61l-1 0M103 135l2 0M50 108l-2 2M120 156l-1 0M153 44l1 2M22 90l1 1M118 67l1 2M90 115l-2 2M45 56l-2 0M133 150l-1 3M157 34l0 1M109 74l-3 0M42 88l1 2M18 43l-1 2M25 43l3 2M132 129l1 1M56 115l-2 2M162 126l-1 0M69 157l-2 2M162 67l1 2M108 20l3 1M80 47l2 1M39 88l-1 1M62 130l1 1M152 103l-1 1M134 20l-0 1M149 111l-1 3M149 53l0 1M38 75l-3 1M92 159l-0 1M142 94l2 1M75 80l3 2M95 67l1 2M160 40l-2 3M27 3l2 0M6 93l2 3M45 44l-0 0M125 136l0 1M93 129l0 3M164 43l-1 1M128 21l2 0M15 135l-1 1M43 83l-0 0M15 67l-1 1M162 111l-3 2M71 73l-1 2M162 111l-1 1M96 144l2 0M155 86l-2 1M27 73l0 2M45 77l-1 3M144 99l-2 2M31 105l1 2M114 163l2 0M30 58l0 2M59 36l3 2M138 29l-0 2M39 75l-1 3M53 49l-2 2M141 23l-3 1M129 125l-2 3M43 46l1 2M109 52l1 2M38 160l1 3M89 96l-2 0M101 70l-1 0M70 77l3 2M108 81l2 2M154 109l1 2M45 104l1 1M39 81l-1 2M141 118l1 0M68 72l3 0M86 98l1 1M94 129l-2 0M12 16l-1 1" stroke="#24b424" stroke-width="2.0"/></g><g id="R12" fill="none" stroke-linecap="round"><path d="M21 34l-0 1M121 22l-0 1M53 4l-0 1M118 17l0 0M154 59l0 1M106 70l1 0M81 160l-1 0M25 160l1 0M91 114l1 1M114 31l1 0M106 98l-1 0M77 107l0 0M78 50l-1 0M122 14l1 0M25 64l0 0M59 149l0 0M75 146l1 0M96 119l-0 1M111 70l0 0M153 63l-1 0M102 106l1 0M96 20l0 0M98 87l1 1M138 130l1 0M77 163l-0 0M153 29l-0 1M67 139l-1 0M122 32l0 0M137 17l-0 0M79 75l1 1M98 87l-0 0M154 113l0 0M63 3l0 0M113 88l0 0M138 42l-0 1M44 80l-0 0M113 59l-1 0M64 148l-1 0M23 73l1 0M85 78l1 0M151 47l0 0M130 29l1 1M129 14l0 0M131 23l0 0M57 68l0 1M140 20l-0 0M157 11l-1 0M115 69l0 0M91 49l0 0M130 24l0 0M54 23l-1 0M50 8l-0 1M77 161l-1 0M16 7l1 0M124 69l1 0M94 75l0 0M57 42l0 0M152 56l-0 0M44 63l-0 1M153 29l0 0M89 56l1 1M67 129l1 1M0 69l0 0M55 144l-1 0M39 84l-1 0M103 77l0 0M22 162l1 0M109 67l1 1M20 142l0 0M78 64l-0 0M17 32l1 0M137 30l-1 0M15 98l1 0M73 17l0 0M3 22l0 0M154 3l-1 0M119 27l-0 0M103 23l-1 0M143 114l-0 0M47 75l1 0M44 66l-0 1M118 68l-1 0M86 37l-0 0M137 50l1 1M154 157l1 0M157 63l-0 0M47 73l1 0M60 32l-0 0M162 74l-1 1M118 21l-1 0M100 107l1 1M107 57l0 0M107 46l-1 0M69 36l0 1M39 78l-1 1M45 19l1 1M115 76l1 0M148 22l0 1M44 105l-1 0M94 19l1 0M104 59l-0 0M112 5l1 0M151 65l0 0M40 42l-0 0M61 114l-0 0M15 76l0 0M17 37l0 1M146 123l-0 0" stroke="#5a0c0c" stroke-width="1.7"/><path d="M104 25l1 0M76 154l1 1M40 146l0 0M126 12l-0 0M123 13l-1 0M58 35l-1 1M99 160l-1 1M91 37l-0 0M134 163l-0 0M71 6l-0 0M41 102l0 1M87 78l1 1M104 63l-0 0M147 36l0 0M63 152l-0 0M48 135l0 1M71 161l0 0M135 23l-1 0M68 161l-0 1M118 30l-0 0M156 43l1 0M83 35l0 0M30 154l-1 1M162 98l0 0M24 138l1 0M100 44l0 0M69 69l0 1M152 89l0 0M148 24l-0 1M22 122l-0 0M83 103l0 1M84 106l0 0M26 160l0 0M31 14l-0 0M112 18l-1 0M96 31l-0 0M36 4l-0 1M64 117l0 0M102 116l0 0M59 137l0 0M142 14l0 0M86 163l-1 0M151 140l0 1M107 83l-0 0M102 163l0 1M82 75l0 0M56 105l0 0M134 2l0 0M71 66l-0 0M88 120l-1 1M143 63l0 1M117 20l-1 1M51 36l0 0M99 33l0 0M64 62l-1 1M12 56l0 0M87 107l1 0M154 36l-0 0M92 108l-0 0M39 36l0 0M98 45l0 0M159 146l0 0M82 111l-0 1M92 86l-0 0M98 31l-0 1M-0 7l1 0M103 18l-0 1M0 63l-0 1M63 82l-0 0M72 53l1 1M88 49l-0 1M94 94l1 1" stroke="#360707" stroke-width="1.7"/></g><clipPath id="ca120"><rect width="164.2" height="164.2"/></clipPath><clipPath id="ca121"><rect width="164.2" height="164.2"/></clipPath><clipPath id="ca122"><rect width="164.2" height="164.2"/></clipPath><clipPath id="ca123"><rect width="164.2" height="164.2"/></clipPath><g id="D13" fill="none" stroke-linecap="round"><path d="M14 92l-2 1M24 97l-1 2M123 161l0 0M96 103l1 1M47 74l-1 0M25 118l-0 1M89 0l0 0M163 146l0 1M96 19l-1 0M83 163l1 1M105 98l0 2M45 160l-1 1M94 22l0 1M84 131l-2 0M73 92l1 0M80 13l0 1M81 22l2 0M65 25l0 0M112 20l-1 0M142 16l-2 0M139 9l-1 2M92 147l1 1M2 66l-0 0M117 78l-1 1M156 16l-0 1M97 117l-1 0M84 140l-0 1M1 105l1 0M143 10l-1 1M60 112l0 0M105 137l0 1M108 96l-0 0M9 64l-0 1M122 122l1 0M72 18l1 0M123 2l0 0M61 84l-1 0M9 78l2 0M124 93l0 0M60 24l2 0M106 58l1 0M109 138l0 2M27 93l-1 1M75 154l-2 0M91 145l-0 1M71 118l0 2M64 63l-1 2M104 55l0 1M146 82l0 1M77 132l0 1M39 87l1 2M106 104l0 0M19 47l-1 0M84 147l-1 1M154 41l-0 1M42 141l-0 1M63 69l1 1M136 60l0 0M123 153l0 0M153 15l1 0M85 61l0 2M26 95l0 1M164 82l-1 0M130 103l-0 1M38 115l0 0M88 39l-1 1M103 76l-1 1M29 39l-1 0M72 104l-0 1M149 46l0 2M126 12l-2 0M122 13l-1 1M130 142l-1 0M58 45l-1 1M133 21l0 0M152 160l1 0M56 120l-0 0M137 94l2 1M28 102l1 2M116 96l-1 0M15 54l-0 1M129 100l0 1M128 121l-1 0M68 149l-1 1M121 153l-1 1M90 81l-1 1M125 96l-1 0M104 75l-1 1M90 81l-0 0M140 149l-1 1M75 106l1 0M158 82l-1 1M127 104l0 0M91 117l-1 0M80 18l-1 1M101 151l-0 0M93 44l1 0M122 75l-0 0M27 64l-1 1M83 96l-0 0M104 25l-1 0M18 161l-1 1M130 120l1 2M32 76l-1 0M59 4l1 1M45 134l1 1M30 99l-0 1M104 114l-2 1M133 67l1 1M77 72l1 0M66 88l1 1M24 64l2 1M3 30l-0 0M40 59l-1 1M45 124l-0 2M52 65l-0 1M102 31l1 1M103 38l-0 0M52 109l1 2M13 69l-1 1M83 87l-0 0M120 123l2 0M135 6l-2 1M21 38l-0 1M64 87l-1 0M140 74l-1 1M82 118l-1 2M73 58l0 1M17 99l1 0M71 90l-2 0M106 146l0 0M84 30l-1 2M156 77l0 0M134 139l-0 2M104 13l-1 0M62 88l1 0M87 15l0 2M158 14l0 1M92 151l1 1M27 47l0 1M53 17l-1 0M158 139l1 1M0 49l0 1M143 71l-1 0M77 102l-1 1M155 147l-1 1M130 26l-1 1M109 83l-1 0M153 154l-0 1M103 140l-1 1M29 82l-1 0M13 79l-1 1M103 135l-0 0M160 38l-1 1M42 152l-1 1M19 75l-1 1M164 105l0 0M65 35l-1 1M90 33l1 2M126 66l0 1M12 101l-1 1M142 15l-2 1M86 106l-1 0M109 32l0 0M98 84l0 0M123 154l-0 2M160 163l-2 1M109 99l0 2M158 14l-0 2M150 162l-0 2M85 61l1 1M104 38l1 1M157 28l1 1M104 28l-0 1M163 14l1 2M97 76l1 1M63 84l-0 2M118 139l-0 0M117 126l-1 1M9 67l0 1M140 54l-1 2M128 108l-1 0M44 81l0 1M35 93l1 0M52 143l-1 1M134 28l-2 1M77 98l-0 1M87 18l-0 1M-0 163l1 0M24 91l0 1M4 82l0 1M45 89l-0 2M161 16l-2 0M87 7l1 1M4 80l1 1M73 110l1 0M66 77l1 1M71 31l0 1M20 82l-0 0M102 120l1 0M103 25l-1 2M137 12l-2 0M72 106l0 1M79 120l0 0M164 56l-1 1M120 45l0 0M112 107l0 2M95 140l-1 1M141 53l-0 1M82 67l2 0M141 31l1 1M68 60l-0 0M72 153l1 0M83 154l0 1M158 144l-1 0M153 149l-2 1M163 160l2 1M154 16l1 2M94 87l-1 2M19 59l-1 1M121 140l-0 0M133 123l-1 0M38 93l-1 2M24 87l1 1M69 78l0 2M66 11l-0 1M118 65l-2 1M126 128l-2 1M124 43l1 1M12 19l-0 0M95 19l-1 1M125 22l-0 1M120 9l1 1M80 156l-1 0M88 43l-0 0M130 -0l-1 1M108 123l-0 0M135 89l1 1M134 62l1 0M93 77l1 1M79 156l-0 2M156 18l-0 2M39 77l1 0M163 136l-0 1M112 117l1 1M129 20l-2 1M110 18l0 0M6 4l1 0M106 159l1 1M19 56l0 2M85 137l0 2M28 164l0 0M8 72l-1 1M9 42l-2 1M122 63l-0 0M123 58l-1 0M118 125l-1 2M25 73l-0 1M57 28l-1 0M90 158l-1 0M25 59l2 0M41 104l-1 1M68 19l-0 0M26 73l0 1M135 141l-1 0M163 46l-0 2M79 14l1 0M129 116l-1 0M133 52l-0 1M123 128l1 0M80 3l0 0M86 106l-0 2M130 64l-2 1M103 1l1 1M2 61l-1 1M99 101l-1 2M97 87l2 0M10 44l-0 0M125 66l0 1M113 49l-0 2M108 15l-2 2M74 113l-0 0M78 162l0 0M113 163l1 1M98 73l1 2M105 142l0 1M1 87l0 0M154 73l-1 0M89 89l-1 1M97 97l-2 1M133 81l-0 0M75 103l1 2M108 131l0 0M53 136l0 0M145 0l1 1M86 36l-1 1M90 90l1 2M36 65l-1 1M104 13l-0 2M141 84l-0 2M42 34l-2 0M69 66l0 2M111 109l-0 2M3 74l1 1M17 93l1 2M111 110l0 1M66 107l0 2M135 26l1 2M59 78l0 1M91 34l0 1M158 16l0 2M67 140l1 0M20 100l1 0M69 89l0 0M140 79l2 0M145 35l-1 0M55 15l0 1M114 36l1 2M51 121l1 2M153 46l-1 0M40 42l-2 0M127 94l0 0M75 98l0 2M138 94l-1 1M36 86l-1 1M99 7l-2 0M118 143l1 1M90 30l2 1M138 160l1 0M31 113l0 0M56 69l1 1M113 60l-0 1M148 3l-1 1M143 24l0 1M1 101l-0 0M153 93l-0 2M164 103l-1 1M75 154l-1 1M12 39l0 1M103 112l1 1M163 158l-1 1M73 10l-2 0M134 83l-1 1M31 100l-1 1M110 122l0 2M59 131l0 0M16 96l0 1M11 72l-1 1M66 26l1 0M59 88l0 0M121 134l0 1M36 73l-2 0M152 10l-0 1M119 121l1 2M80 51l-1 1M124 156l-1 0M118 159l1 1M109 160l-1 1M154 52l-0 0M104 108l-1 1M158 147l-1 2M90 114l1 0M78 136l-2 0M96 59l-1 0M19 81l0 0M21 100l-0 2M82 112l-2 0M132 4l1 1M12 27l-1 1M148 59l0 2M22 14l-0 0M92 138l-1 1M100 25l-1 0M90 95l0 1M76 146l-1 0M105 96l-2 0M64 88l1 0M132 85l0 2M61 106l-2 0M74 0l-1 1M75 141l-1 2M110 100l2 1M81 125l1 1M90 76l1 2M100 35l1 1M15 72l-1 0M45 118l2 1M113 28l-1 0M121 127l-1 1M146 136l-0 0M84 119l-0 1M96 85l0 0M107 63l-0 1M98 124l-1 2M18 81l1 1M103 22l-0 1M154 86l0 1M98 93l0 2M24 88l-0 2M151 27l-0 1M81 120l-1 1M119 135l-0 0M120 43l-1 0M127 149l-0 2M81 1l1 1M32 59l1 1M162 13l-1 0M162 121l1 2M44 103l-0 2M160 154l0 1M29 82l1 1M156 137l-1 1M118 30l-1 1M139 163l-1 1M115 9l1 1M148 12l-1 1M119 38l0 1M144 4l1 0M106 72l-2 1M92 30l1 1M91 120l2 1M34 77l-2 1M27 73l-1 1M103 64l0 0M18 161l0 1M78 84l-1 0M122 129l1 2M4 43l1 2M113 163l-1 2M103 68l-1 1M142 77l-0 1M146 36l0 1M117 88l-1 1M127 83l-0 0M138 87l-2 0M119 161l1 0M101 79l0 1M163 162l-2 0M135 103l-0 0M50 108l-1 1M80 5l0 1M20 51l-0 0M112 20l1 1M111 92l-1 2M16 72l1 1M146 46l1 0M145 28l1 0M122 160l0 2M66 75l-0 2M148 113l-1 1M149 21l1 0M146 66l0 0M129 78l2 1M43 60l0 1M78 152l-0 1M110 106l1 0M145 113l-2 1M72 65l0 1M40 62l-0 0M14 111l-1 1M76 131l-1 2M16 113l-1 1M7 139l-1 0M106 30l1 0M139 4l-1 0M156 75l-0 1M142 149l-2 0M130 3l-0 2M95 33l-0 0M61 105l-0 1M136 101l0 0M10 69l1 0M69 132l2 1M7 28l-1 2M15 107l-0 2M68 93l-1 0M144 16l-0 2M141 39l-1 2M59 63l2 0M52 56l-1 0M30 91l1 0M43 73l-0 0M114 69l-0 2M98 93l2 1M110 162l-1 0M2 9l0 1M86 33l-1 0M10 76l1 2M104 147l-0 1M13 67l-1 1M79 40l-0 0M59 88l2 1M50 120l1 2M57 84l-1 1M89 46l1 0M157 123l0 2M96 9l1 0M37 37l-1 2M11 72l-1 0M119 148l0 2M5 161l-1 1M145 110l-0 1M13 42l0 2M99 137l-2 1M132 0l0 0M62 72l-1 2M45 5l1 1M126 94l0 0M13 158l-2 1M131 96l-0 1M63 123l-0 1M110 92l-1 0M74 22l2 0M117 27l1 0M78 130l-1 1M122 11l1 2M106 70l1 0M10 14l2 0M74 120l-0 1M158 14l-1 0M135 100l-1 1M147 94l-1 0M43 67l0 1M69 104l-0 2M10 128l-0 1M150 152l-1 1M46 18l0 2M38 87l0 0M29 84l1 2M102 7l0 0M162 45l1 1M147 125l-0 1M44 112l0 1M41 72l1 1M155 47l0 0M125 79l1 1M154 151l-0 1M112 84l0 1M82 11l0 0M84 75l-2 1M57 71l-1 0M21 94l-0 1M50 70l-1 1M100 116l-1 2M49 76l-1 2M23 65l-1 0M76 93l-2 1M161 123l0 0M151 54l-0 1M110 8l1 2M102 131l-1 1M40 92l-1 0M154 2l1 0M25 138l-0 1M147 4l-2 0M111 13l2 0M81 97l2 0M26 68l-0 1M139 4l-2 0M18 79l-0 0M105 89l1 1M105 1l1 1M96 24l1 1M16 42l1 1M64 96l-1 0M77 78l0 0M78 53l-1 1M147 151l-2 1M104 82l0 1M48 161l-2 1M58 100l0 0M139 22l1 2M5 131l-1 1M101 89l-1 1M135 112l0 1M135 148l0 0M105 42l1 1M105 95l-1 2M62 85l1 1M87 144l-0 0M79 92l0 1M36 84l-2 1M162 160l1 0M100 81l1 0M151 132l-1 1M163 95l-1 2M76 1l1 1M93 39l-0 0M79 116l-1 1M152 1l2 1M120 79l-1 0M49 93l1 0M54 13l-1 0M77 138l-0 2M65 95l-1 0M67 95l-1 0M58 27l1 0M135 53l2 1M37 63l1 0M114 13l1 1M27 80l1 1M75 21l-1 0M41 72l-0 1M32 52l1 2M21 65l1 1M138 42l-1 2M50 103l2 0M113 34l-0 0M47 100l-0 0M9 130l-2 1M154 13l0 0M102 63l-0 1M66 31l0 1M91 74l1 0M11 89l1 0M109 90l0 0M29 76l1 1M150 31l-0 0M127 77l-0 1M135 118l-0 0M106 21l-1 0M45 161l-0 0M73 159l1 0M123 10l-0 1M154 12l1 0M142 40l1 2M25 56l1 2M4 33l-1 1M142 156l-2 1M22 40l2 1M50 66l-0 1M12 63l-0 1M33 88l-0 1M139 79l-0 0M31 89l1 1M64 86l-0 0M121 74l-0 1M121 143l-0 0M35 80l0 1M12 43l-0 0M70 13l-0 1M110 25l-1 1M96 23l-1 0M71 110l1 1M103 89l0 0M107 17l0 1M127 80l2 0M34 80l1 1M38 48l-1 0M19 98l0 1M149 81l0 0M108 122l2 0M4 16l1 2M106 139l1 1M116 156l-1 0M65 75l-1 2M125 74l-2 0M149 69l-1 0M100 18l-0 1M98 110l-0 1M119 5l1 1M164 73l-1 0M34 75l1 1M74 118l-1 1M68 23l-1 0M26 60l1 0M67 57l2 1M51 15l-1 1M4 77l1 1M60 51l-1 1M84 91l1 1M19 99l0 1M50 102l2 0M45 75l-0 0M78 73l0 1M160 16l0 1M3 2l-0 0M112 36l-1 1M68 141l-1 0M163 150l1 0M128 103l1 0M149 110l-0 0M140 97l-0 1M67 91l1 0M66 15l0 2M83 104l-1 1M118 144l-1 1M67 99l-1 1M122 12l2 0M16 47l0 0M131 111l-0 0M65 115l0 1M22 158l0 0M27 121l1 1M93 103l1 1M134 93l-0 0M59 86l0 0M57 24l1 0M47 101l-0 2M14 59l1 1M122 39l2 1M159 11l-2 0M147 135l-0 2M77 124l-0 1M23 99l-1 0M89 48l0 0M89 64l-1 0M107 68l-0 0M99 148l-0 0M94 28l1 1M110 121l1 0M127 122l1 1M38 37l-1 0M53 26l0 1M2 53l-0 2M74 131l0 0M149 77l0 0M49 84l0 2M36 77l0 0M151 130l-1 2M136 10l-0 1M157 29l-1 1M127 137l0 0M36 115l-1 0M97 20l0 1M105 114l1 0M55 128l-0 1M111 108l1 1M88 11l-1 1M144 117l-0 0M51 138l-1 1M110 95l0 0M69 127l-1 0M131 130l1 1M7 128l-0 1M114 132l-1 2M97 26l-1 1M55 104l1 1M99 42l0 0M65 125l-1 1M109 152l-0 1M39 86l-1 0M36 114l-0 1M147 126l2 1M88 123l-1 1M156 14l-0 0M26 142l2 1M110 117l-0 1M82 149l-0 0M75 56l-2 1M84 148l0 0M24 115l1 1M82 119l-1 0M49 23l1 0M37 83l-2 1M103 37l-1 1M150 126l1 1M140 55l-1 0M18 158l-0 1M132 69l-1 0M109 118l0 2M54 27l1 1M89 4l1 1M151 40l1 1M18 49l0 0M16 104l-0 0M126 20l2 0M123 9l1 1M67 161l-1 1M124 67l-1 1M114 128l0 0M62 99l1 2M140 21l0 2M87 129l-1 0M113 134l1 0M117 20l0 0M68 85l1 0M55 100l1 0M83 89l-1 1M33 97l2 0M57 101l-1 0M112 81l-2 0M147 59l-0 2M113 115l0 0M65 111l0 1M6 79l0 0M126 14l2 1M128 76l1 2M93 8l-0 1M110 62l1 0M39 32l-1 2M135 32l-1 0M6 132l1 2M73 2l0 2M114 112l-0 2M67 57l0 2M160 143l-0 2M86 49l1 1M33 116l1 1M54 70l-0 1M158 92l-2 0M110 115l-2 1M104 28l-1 1M140 10l-0 0M68 94l0 1M125 161l-1 1M134 138l-2 0M22 6l1 2M35 71l-0 1M84 31l2 1M162 35l0 0M93 18l1 1M54 59l-1 0M11 11l0 1M161 58l0 1M25 92l-0 1M148 38l1 0M92 128l-1 0M132 115l-1 2M99 28l-1 0M16 110l-2 0M126 77l-1 1M6 110l0 2M74 64l1 1M34 68l-1 2M7 79l-0 1M49 74l-0 2M79 53l0 0M22 114l-1 0M99 128l0 0M79 106l1 0M123 68l-1 0M36 91l-1 0M75 85l1 0M77 40l-1 2M34 69l1 1M3 73l-1 0M58 72l1 2M55 106l1 1M29 43l1 1M145 43l-0 0M5 7l0 1M134 62l1 1M97 47l1 1M32 80l1 0M145 8l-0 1M134 48l1 2M40 53l-1 1M123 117l-2 0M152 152l0 1M164 125l-1 0M19 132l1 0M163 47l-0 1M45 158l-1 2M151 2l-0 0M62 48l1 1M88 20l1 1M71 28l1 1M82 67l2 1M163 74l-2 1M98 155l1 1M65 161l-0 1" stroke="#1296f2" stroke-width="3.3"/><path d="M51 120l1 1M120 130l1 0M4 137l1 1M9 18l-2 0M111 40l-1 1M64 98l-0 2M113 7l0 1M68 28l0 0M100 148l1 2M121 31l-1 1M11 66l1 1M129 112l0 0M102 133l1 2M39 68l-1 0M116 158l-0 0M5 157l0 1M148 86l-1 2M81 116l1 0M162 29l0 1M90 121l-1 2M145 125l0 0M90 110l-1 1M67 49l1 1M46 76l1 0M115 55l-0 1M6 19l2 1M13 87l-2 1M125 60l-1 0M119 81l1 1M155 127l0 2M149 14l1 1M159 131l2 0M110 126l1 1M69 133l-1 1M85 133l-1 1M94 157l-1 0M108 21l1 0M81 1l2 1M108 61l1 1M19 162l0 0M91 27l-0 2M97 157l-1 1M136 81l1 0M10 48l1 2M73 58l2 1M51 107l-1 1M2 66l-1 0M56 93l0 1M123 97l-1 1M8 85l1 0M123 76l1 0M119 67l-1 1M53 72l-1 1M10 72l-2 1M46 112l-0 0M151 37l-0 0M74 16l2 1M159 144l1 1M93 27l-1 0M81 33l1 0M37 53l-1 1M96 136l1 0M62 82l1 0M159 12l1 1M9 35l1 0M36 88l-1 1M11 101l1 0M110 33l-1 2M15 41l-0 0M91 53l1 2M161 37l-0 1M64 96l-0 1M71 148l2 0M97 30l1 1M132 80l0 0M86 24l-1 0M30 87l1 1M1 144l-1 1M157 19l-1 1M18 82l1 1M53 11l-1 1M151 50l1 1M85 48l-0 0M6 83l-0 2M95 81l1 1M15 35l1 1M68 21l1 1M128 39l1 0M113 9l-1 1M124 99l-1 1M74 155l-0 0M41 116l1 1M77 113l-1 1M90 14l-2 0M53 134l0 0M3 2l1 2M105 27l-1 1M47 51l1 1M156 69l-1 1M54 50l-1 1M55 144l-1 1M75 9l-0 1M5 22l-0 0M139 156l0 2M89 117l0 0M36 115l0 2M112 83l-0 1M48 82l1 0M86 129l1 1M77 112l0 2M134 37l-1 1M112 140l-1 0M56 27l1 1M105 122l0 0M117 3l1 1M162 69l-0 1M24 130l-1 1M143 124l-2 0M101 92l-0 0M104 37l1 1M149 45l-0 0M129 118l-0 0M20 75l-1 2M116 32l2 0M154 13l1 1M101 55l-0 0M99 151l1 1M86 6l-0 0M77 66l-0 2M131 -0l2 1M125 3l-1 0M121 140l-1 2M161 134l-1 1M130 86l-0 1M159 31l1 0M110 106l-0 1M39 80l-0 1M119 79l0 1M121 149l0 2M38 49l1 0M16 54l1 2M83 93l-1 1M77 114l0 2M32 81l1 0M96 23l-0 1M83 151l0 2M88 21l-1 1M57 54l-0 1M152 2l0 0M108 121l-0 1M20 67l-1 1M124 86l-0 1M50 87l-0 1M7 77l0 1M158 5l-1 0M96 90l1 1M117 8l0 0M145 6l2 0M73 26l-1 1M54 136l-1 0M118 47l-1 0M13 86l0 1M99 160l-1 1M78 22l2 0M103 42l1 1M27 79l-0 0M42 99l-1 1M86 12l1 2M123 54l-1 0M83 143l-1 2M155 27l1 1M104 116l1 1M62 110l0 0M45 75l0 0M96 146l1 0M57 49l-1 1M152 149l0 1M160 71l1 0M139 25l-2 0M107 7l-1 2M57 26l-0 0M139 10l-0 1M124 14l0 0M32 113l-0 0M15 18l-1 1M114 126l1 1M110 23l1 1M156 142l1 0M101 66l-0 2M71 70l-0 2M119 0l-2 0M133 160l1 0M11 92l0 1M103 52l-0 1M86 22l-2 0M70 31l0 0M144 132l0 1M9 11l-0 1M71 111l1 0M111 119l0 0M140 156l0 1M61 105l-1 1M70 25l-0 0M36 85l-0 1M160 68l-1 0M62 16l1 0M79 71l1 0M15 95l1 1M110 139l-1 0M55 29l2 0M76 73l0 0M143 82l-1 1M156 102l-1 1M120 19l-1 1M138 5l-1 1M53 13l-1 2M129 50l0 0M2 3l-2 1M96 127l-0 0M153 160l-1 0M1 151l-2 1M6 86l-2 0M69 38l1 2M115 76l-0 1M126 159l1 2M164 48l-1 1M119 34l-0 1M138 71l-1 2M140 7l-1 1M103 151l-1 0M89 53l2 0M80 70l1 0M94 99l-0 2M119 28l-0 0M136 153l-2 0M33 101l2 1M107 146l2 1M90 150l-0 2M68 2l2 0M14 4l-0 1M142 124l-1 2M17 99l1 1M73 142l1 1M84 100l0 2M148 161l1 0M86 146l-0 1M70 71l0 1M145 63l0 2M111 41l-1 1M39 92l-0 2M33 79l-1 1M6 5l-2 1M15 80l-0 0M33 117l-2 0M89 122l-1 2M114 9l2 1M49 101l-1 0M55 81l0 0M11 4l1 1M74 62l-0 2M97 136l0 1M111 118l-1 0M54 60l-1 1M136 151l0 0M67 87l-2 1M65 163l0 0M136 116l1 1M46 38l1 1M24 40l-1 0M44 66l-0 1M123 20l0 0M120 17l1 1M105 19l0 0M43 126l-0 1M149 28l1 0M63 146l-1 0M93 36l-1 1M135 162l0 1M16 57l0 0M1 144l1 0M128 96l-0 1M144 14l-1 1M93 67l1 1M70 124l-0 2M106 34l1 0M79 81l-1 0M107 12l-0 1" stroke="#0d6fb4" stroke-width="3.0"/></g><g id="G13" fill="none" stroke-linecap="round"><path d="M99 72l1 2M95 96l-2 1M104 57l-1 0M132 144l-1 2M127 114l-3 0M119 104l1 2M82 71l-1 2M49 48l-3 1M45 86l-3 2M76 100l2 0M55 57l-2 0M78 85l-2 0M75 90l1 2M17 0l1 2M39 16l1 1M62 75l2 0M68 93l3 1M151 51l-3 0M102 91l1 3M59 139l1 2M64 129l-2 0M34 81l-1 1M85 32l3 1M112 150l-1 2M71 106l-1 2M90 35l-2 0M50 78l1 1M102 54l1 3M7 129l-1 0M140 152l1 2M40 95l-2 3M159 84l3 2M134 82l-3 0M3 138l-3 1M65 56l1 1M19 73l3 1M58 105l1 4M14 38l-2 2M57 100l-3 1M39 25l2 2M106 89l0 1M112 18l2 2M49 158l-1 1M137 70l3 2M129 0l3 2M26 63l1 4M82 163l-3 2M76 121l-0 3M16 79l3 1M90 83l-1 1M82 145l-2 2M93 20l1 3M98 60l1 3M30 75l-2 1M71 25l-2 1M48 39l-4 1M87 96l2 0M124 153l1 2M74 85l1 1M16 75l-0 2M93 37l-0 3M131 59l-1 0M50 119l-3 2M24 78l-4 1M49 116l3 1M75 108l-0 2M96 55l-0 2M98 141l1 1M48 84l-2 0M40 143l-2 2M100 86l2 1M117 141l4 1M119 121l-3 0M22 103l-0 4M12 49l-2 0M106 73l0 3M119 46l-1 1M143 60l2 2M91 83l-0 1M52 76l3 1M78 97l-1 0M128 145l2 2M39 78l0 1M99 97l-3 1M105 84l1 1M42 42l1 0M79 114l-2 2M63 125l1 0M96 104l-1 0M102 126l0 1M85 117l0 1M3 93l-1 3M119 41l-1 2M88 102l0 1M45 12l-1 2M47 73l-2 1M96 63l1 1M77 68l3 1M48 89l2 1M95 85l-1 1M8 120l-2 3M48 99l-3 2M55 66l-0 1M126 109l3 2M26 75l-2 2M85 94l3 2M125 135l1 1M73 103l-1 0M95 34l-3 1M131 99l0 4M23 98l1 0M27 125l-1 4M73 96l-3 1M85 105l1 1M63 112l2 1M93 63l-0 1M52 52l2 1M34 122l0 1M18 112l3 0M142 136l-1 3M79 16l-1 1M106 89l-2 1M38 105l-1 1M119 12l2 1M141 92l-1 4M85 51l1 1M63 39l-2 1M60 98l-0 4M80 128l3 1M93 59l1 3M156 83l1 1M140 143l2 1M95 101l3 1M121 75l-1 3M54 106l-1 1M103 110l-0 2M102 66l-2 0M75 34l-3 1M85 17l-3 2M67 98l-3 3M48 73l-1 2M64 50l2 2M76 101l2 3M83 98l1 1M66 8l4 0M66 82l-0 3M12 41l1 2M137 66l-2 1M125 155l-2 3M110 146l-2 2" stroke="#2ad52a" stroke-width="2.2"/><path d="M52.0 20.1a1.8 1.8 0 1 0 3.5 0a1.8 1.8 0 1 0 -3.5 0M3.0 98.0a2.3 2.3 0 1 0 4.6 0a2.3 2.3 0 1 0 -4.6 0M60.2 82.2a1.9 1.9 0 1 0 3.9 0a1.9 1.9 0 1 0 -3.9 0M1.0 93.1a2.1 2.1 0 1 0 4.3 0a2.1 2.1 0 1 0 -4.3 0M95.9 90.7a1.7 1.7 0 1 0 3.5 0a1.7 1.7 0 1 0 -3.5 0M90.3 36.7a2.3 2.3 0 1 0 4.5 0a2.3 2.3 0 1 0 -4.5 0M54.2 58.3a2.1 2.1 0 1 0 4.3 0a2.1 2.1 0 1 0 -4.3 0M84.1 88.4a1.6 1.6 0 1 0 3.3 0a1.6 1.6 0 1 0 -3.3 0M70.3 80.1a2.4 2.4 0 1 0 4.7 0a2.4 2.4 0 1 0 -4.7 0M43.1 76.6a2.2 2.2 0 1 0 4.4 0a2.2 2.2 0 1 0 -4.4 0M89.3 120.1a2.4 2.4 0 1 0 4.9 0a2.4 2.4 0 1 0 -4.9 0M40.8 146.1a1.7 1.7 0 1 0 3.3 0a1.7 1.7 0 1 0 -3.3 0M85.7 81.5a2.2 2.2 0 1 0 4.4 0a2.2 2.2 0 1 0 -4.4 0M15.7 25.3a1.7 1.7 0 1 0 3.3 0a1.7 1.7 0 1 0 -3.3 0M26.0 54.4a2.4 2.4 0 1 0 4.7 0a2.4 2.4 0 1 0 -4.7 0M43.9 59.4a2.6 2.6 0 1 0 5.2 0a2.6 2.6 0 1 0 -5.2 0M42.2 90.2a1.9 1.9 0 1 0 3.7 0a1.9 1.9 0 1 0 -3.7 0M90.8 44.9a2.5 2.5 0 1 0 5.0 0a2.5 2.5 0 1 0 -5.0 0M160.0 5.8a1.6 1.6 0 1 0 3.2 0a1.6 1.6 0 1 0 -3.2 0M2.2 109.6a2.3 2.3 0 1 0 4.5 0a2.3 2.3 0 1 0 -4.5 0M110.7 106.9a2.1 2.1 0 1 0 4.2 0a2.1 2.1 0 1 0 -4.2 0M95.4 37.2a1.6 1.6 0 1 0 3.2 0a1.6 1.6 0 1 0 -3.2 0" stroke="#2ad52a" stroke-width="1.4"/></g><g id="R13" fill="none" stroke-linecap="round"><path d="M27 160l-1 1M131 68l-2 2M29 86l-0 0M7 98l2 0M151 114l-1 0M64 61l-0 0M89 81l1 1M146 110l-2 1M116 67l0 0M79 49l1 2M104 52l1 1M58 30l2 2M102 49l0 2M41 81l-3 0M116 106l-2 2M99 100l-0 0M149 61l0 3M105 91l-2 1M130 97l0 0M88 74l0 1M162 14l0 0M134 48l2 1M52 129l-0 2M136 16l2 2M103 62l2 1M68 121l-0 2M27 106l-1 1M102 102l0 1M88 45l1 2M132 80l0 1M72 132l-1 0M164 123l-1 1M160 69l-1 2M79 99l0 3M115 101l0 0M87 87l1 1M78 140l-1 0M60 58l2 1M156 38l1 0M106 31l-1 2M27 76l-0 3M141 51l-1 2M100 82l0 1M93 78l2 2M78 77l-0 0M104 159l1 2M108 100l0 0M104 46l-0 1M120 118l0 2M124 53l-2 0M146 32l1 1M94 72l-0 3M149 79l-0 0M112 52l-1 1M114 102l-0 0M45 101l1 2M28 21l0 0M114 108l1 2M146 76l-0 2M129 32l1 0M115 72l-1 1M92 80l2 1M85 25l1 1M58 84l-1 2M112 60l-0 0M72 25l0 0M127 77l0 0M5 120l-0 2M19 154l0 0M111 133l0 0M135 146l1 1M3 40l-1 0M75 28l1 1M109 59l0 1M4 59l-1 1M99 71l-0 2M104 42l-1 1M104 76l0 1M22 25l1 1M153 34l1 0" stroke="#4b0a0a" stroke-width="5"/><path d="M66 76l0 1M102 63l0 0M98 43l0 0M84 62l-1 1M112 53l-0 1M1 82l-1 1M101 55l0 0M128 125l-1 0M127 60l-0 1M52 19l-0 1M158 72l0 0M81 104l0 0M121 140l-0 0M107 145l-0 0M148 89l1 0M129 108l0 1M118 75l-0 1M160 38l0 0M52 100l-0 0M154 87l0 0M37 103l-1 0M103 69l-1 0M101 103l0 0M7 66l0 0M162 114l-0 0M118 74l0 0M89 123l0 1M137 47l0 1M97 120l-0 0M84 82l-0 1M69 118l0 1M124 12l-0 0M106 75l-1 0M127 77l-0 0M121 101l-0 0M48 102l-0 1M84 74l0 1M90 33l-0 1M71 159l1 0M55 82l1 0M108 16l-0 1M114 96l1 1M71 136l-0 0M124 130l0 1M74 89l-0 0M106 7l-0 1M156 114l0 0M56 90l-0 1M18 100l-0 0M138 56l-1 0M132 74l-0 1M110 52l1 0M123 11l0 1M108 83l-1 1M113 79l-0 0M88 45l-0 1M143 76l-1 0M105 126l1 1M26 115l-0 0M107 82l-0 0M112 102l1 1M42 150l0 0M98 85l-0 0M95 99l-0 1M108 110l-0 0M82 80l-1 0M97 108l-0 1M112 103l-1 0M146 15l1 1M113 76l-0 0M74 126l0 0M138 59l-0 0M91 55l0 1M143 29l0 0M114 131l0 0M55 57l0 0M131 103l1 1M111 129l0 0M105 54l-0 0M113 101l-1 1M93 61l-0 0M148 139l1 0M117 46l-1 0M130 120l1 0M121 114l0 1M29 105l-1 1M123 42l1 1M122 74l0 1M116 126l-0 0M3 54l-1 0M152 140l0 0M160 57l-0 0M109 104l-1 0M126 57l-0 0M2 145l-0 0M49 100l-1 0M125 53l-1 1M134 67l0 1M153 131l0 0M80 22l1 0M101 79l-0 0M69 90l1 0M73 81l1 1M12 27l-0 0M154 4l0 1M2 79l-1 0M100 76l0 0M14 69l-0 0M136 40l-1 1M153 43l-0 0M154 119l-0 0M133 35l-0 0M64 108l-0 1M64 133l0 1M102 102l0 1M89 71l-0 0M159 106l-0 0M115 86l0 0M147 89l-0 0M80 54l1 1M19 80l0 0M89 106l-1 1M67 108l-0 1M129 7l0 0M144 11l1 0M74 103l-0 1M82 97l1 1M88 69l0 0M46 125l0 1M118 111l-0 0M138 34l-0 0M126 110l-1 0M133 87l1 0M2 23l0 0M134 105l1 1M140 88l-0 0M117 74l1 0M105 15l0 1M106 87l-0 0M141 110l0 0M142 59l-0 1M90 114l1 1M36 123l0 1M86 129l-1 1M92 115l1 1M84 88l-0 0M143 99l-1 0M105 110l-0 0M102 101l0 1M93 31l1 1M132 27l-0 0M131 95l0 0M96 118l-0 0M85 98l-0 0M91 73l-1 1M96 75l1 1M150 96l0 0M111 64l0 0M56 117l-0 0M151 101l-0 0M109 126l-0 0M146 91l-0 1M104 64l-0 1M113 137l0 0M45 51l0 1M50 108l-1 0M39 12l0 0M112 152l-0 0M73 73l-1 1M91 1l-1 1M134 8l-0 1M103 70l-1 0M64 -0l-1 1M65 99l-0 0M124 107l-0 0M89 35l-1 1M72 117l-0 0M36 120l1 1M47 74l0 1M63 79l0 0M80 36l-0 0M114 154l0 0M98 73l-0 1M123 75l-1 0M141 19l0 1M130 59l-1 0M95 87l-0 0M98 133l1 0M43 74l-1 0M152 49l-1 0M73 89l-0 1M90 27l-0 0M83 68l1 0M51 38l-0 0M135 134l0 1M88 77l-0 0M2 110l0 1M55 74l-0 0M35 98l-0 0M144 113l1 0M71 131l-1 0M40 147l-1 1M101 113l-0 0M132 2l0 0M127 25l1 1M152 103l0 0M102 151l-1 1M72 102l-1 1M145 71l-0 1M40 3l0 0M12 111l-0 0M107 69l1 1M108 90l-1 1M105 91l-0 0M100 75l0 0M97 116l0 1M125 134l0 0M137 102l-1 1M49 82l-0 0M112 147l1 1M111 75l1 0M18 103l-0 0M13 100l-0 0M78 115l-0 0M141 35l0 1M100 47l1 0M130 60l-1 0M107 66l-1 1M93 60l-0 0M137 113l0 0M59 57l-0 1M90 152l0 0M164 98l-1 0M127 103l1 0M57 32l0 1M78 83l1 0M140 56l-1 0M148 58l0 1M61 108l-0 0M125 26l-0 0M139 122l-0 0M64 78l1 0M121 71l-0 0M28 62l-0 0M98 46l-0 0M108 31l1 0M118 91l-0 0M64 90l-0 1M63 70l0 0M143 2l-1 0M145 74l1 1M119 52l0 0M148 1l1 0M53 82l-0 1M114 93l-0 0M137 23l-1 0M98 102l0 1M133 70l0 1M50 163l0 0M83 159l1 1M31 23l1 1M119 83l0 0M116 87l0 1M145 25l-0 1M72 80l-0 0M44 93l-0 1M17 29l1 0M159 113l0 0M102 69l1 0M156 10l-0 0M128 76l0 0M62 115l-1 0M37 42l-0 0M108 103l0 1M97 113l1 0M143 49l-0 0M159 73l0 0M104 75l-0 0M118 111l-0 0M153 139l-0 0M163 5l-1 0M38 85l-0 0M106 116l0 0M72 71l-0 1M77 82l1 0M124 151l-0 0M117 141l0 0M60 105l1 0M95 51l0 1M92 129l-0 0M112 142l-0 0M113 96l-1 1M133 134l0 0M56 83l0 0M99 102l-1 0M127 77l-1 1M34 88l-0 0M53 88l-0 0M105 91l0 0M20 33l-0 0M143 95l0 1M99 53l-0 0M94 37l-0 0M76 35l0 1M158 116l1 0M94 90l1 0M9 105l-1 1M107 75l-0 0M67 84l-1 0M156 120l0 1M62 19l1 0M102 113l1 0M87 116l-1 0M99 59l-0 1M32 88l0 1M82 113l-1 0M124 131l0 0M42 60l0 0M128 53l-0 1M81 82l0 1M163 39l-0 0M49 84l0 0M159 134l0 0M86 16l-0 1M44 144l-0 0M134 143l-0 0M103 136l-1 1M42 7l-0 0M30 99l-0 0M101 39l1 0M123 114l0 0M26 31l-0 0M157 83l0 0M70 123l-0 0M67 65l0 1M89 55l-0 0M125 140l-0 0M105 117l0 0M106 82l0 1M101 31l-0 0M40 87l0 1M120 67l-0 0M131 48l-0 0M141 26l0 0M105 128l-1 0M124 72l0 0M113 70l0 1M161 24l-0 0M159 129l0 1M23 21l-1 0M86 95l-1 0M48 85l-0 0M122 46l1 0M127 104l-1 0M92 22l0 0M160 88l0 0M100 127l-1 1M12 80l-0 0M111 30l0 0M101 60l0 0M116 102l-0 0M46 131l0 0M93 89l-0 1M83 33l-0 0M113 27l-1 0M123 79l-1 1M117 53l1 0M110 40l-1 0M101 2l0 0M124 77l-0 0M121 48l-1 0M7 62l1 1M23 157l-0 0M39 6l0 1M108 52l-1 1M46 135l-0 0M134 25l0 0M57 49l-0 1M91 63l0 0M121 57l-1 1M93 82l0 1M108 127l-0 0M161 91l-1 0M111 120l-0 1M126 61l-0 0M103 35l0 1M103 109l-0 0M125 87l0 0M71 105l0 0M6 33l-0 1M130 138l0 1M145 56l-0 0M24 103l0 0M141 124l1 0M68 67l-0 1M55 96l-0 0M134 86l0 1M81 79l-0 0M6 154l-0 0M93 91l0 0M97 141l-1 0M60 82l0 0M157 132l1 1M124 64l0 0M102 94l0 0M3 49l1 0M114 85l-1 0M102 113l0 0M146 81l0 0M102 70l0 1M89 106l-1 0M82 142l-0 1M66 79l-0 1M59 124l-0 1M110 60l0 0M41 100l-0 0M69 95l-0 1M128 80l-0 1M60 112l0 1M147 63l1 0M7 55l-0 0M100 108l-1 0M69 106l0 1M29 81l-0 1M128 120l0 0M109 26l-1 0M95 102l-1 0M115 85l-0 0M147 92l0 0M78 68l0 0M125 120l-0 0M136 57l-1 1M135 88l1 0M69 41l-1 0M84 84l1 1M121 116l-0 0M70 139l-0 1M100 85l0 0M141 35l-0 0M107 22l0 0M154 51l-0 0M75 60l0 0M20 92l-0 0M34 38l0 1M117 96l0 0M159 31l-1 1M65 138l-1 0M85 104l-1 0M143 118l-1 1M49 159l0 1M129 45l-1 1M95 130l-0 0M48 70l-0 0M39 110l-1 1M159 65l-0 0M67 91l1 0M130 66l0 0M119 56l1 0M109 133l0 0M125 94l-0 0M12 8l0 0M149 18l-1 1M136 76l0 1M119 68l-1 1M62 87l-0 0M76 135l-0 1M71 108l0 0M94 104l1 0M105 104l-1 1M144 139l0 1M44 66l-0 0M55 29l1 0M119 66l0 0M146 46l-0 0M104 78l-0 0M138 89l0 1M94 4l1 1M148 36l-0 0M57 50l0 0M105 65l-0 0M114 75l0 0M149 73l0 1M130 12l1 1M127 152l-0 1M73 94l0 1M89 59l-0 1M88 94l1 0M66 134l0 0M135 145l0 0M91 91l-1 0M144 95l1 1M97 29l0 0M144 63l0 0M138 23l-0 1M92 112l-1 1M36 70l-0 0M74 82l0 0M106 102l-1 1M68 87l0 1M93 51l0 1M12 114l0 0M78 90l-1 1M116 57l1 0M86 62l-0 0M122 86l-1 1M128 101l-0 1M30 36l-1 1M52 57l-0 1M79 116l-0 0M36 156l-0 0M85 67l0 0M113 152l1 0M2 52l0 1M121 52l-0 0M146 33l0 1M50 94l0 0M145 125l1 0M16 20l-1 1M80 122l1 1M60 116l0 0M114 75l0 0M81 117l-0 1M151 95l1 0M62 124l1 0M40 113l-0 0M87 154l0 1M119 82l0 0M8 58l-0 0M82 60l-0 0M93 92l-1 1M158 35l-1 1M111 51l1 1M108 100l0 0M154 136l0 0M103 121l0 0M98 18l-1 0M33 134l-0 0M76 33l1 1M138 99l-0 0M86 117l0 0" stroke="#a81616" stroke-width="1.8"/><path d="M100 69l-0 0M114 18l-0 1M105 65l-1 1M113 106l-1 0M77 94l0 1M141 145l1 0M83 126l-0 0M72 53l-0 1M96 52l-0 0M135 62l0 1M42 97l-0 0M68 57l-0 0M39 139l-0 0M122 114l1 1M60 16l0 0M112 132l0 0M64 142l1 0M137 110l1 1M85 76l-0 0M55 39l0 0M153 105l-0 0M41 123l0 1M101 70l0 0M100 64l0 0M134 156l-0 1M107 84l-1 0M163 53l-0 0M72 119l-1 0M91 68l-0 0M144 47l-1 1M104 123l1 0M134 95l0 0M93 87l-1 1M97 71l0 0M107 90l0 0M64 29l-0 0M48 105l0 1M93 93l0 0M128 93l-1 0M64 133l-1 0M67 103l1 1M120 122l0 1M122 45l1 0M85 45l0 0M144 21l-0 1M75 131l0 1M70 18l0 1M87 134l0 0M128 57l0 0M101 114l0 0M138 63l-1 1M151 99l0 0M138 34l-0 0M111 112l-0 0M142 102l-1 0M100 27l0 0M18 117l1 0M136 94l-0 0M142 119l-0 1M89 52l0 0M122 31l0 1M133 47l0 1M152 29l1 1M50 8l-0 1M112 110l0 1M110 113l-1 1M52 62l0 1M10 150l-0 0M76 104l0 0M120 35l-0 1M129 127l-1 1M75 120l1 0M97 103l-0 0M149 47l0 0M127 50l0 1M124 91l1 1M78 108l-1 1M116 21l-1 0M80 95l1 0M80 151l-0 0M33 24l0 1M137 57l-1 1M21 73l1 1M108 95l-0 0M28 90l-1 0M113 121l0 1M62 119l-1 0M143 109l-0 0M119 91l-0 0M108 82l-0 1M82 124l0 0M96 53l-1 1M118 85l0 0M139 75l0 0M90 66l0 0M135 66l-1 0M111 44l0 1M48 159l1 0M98 113l-1 0M30 28l-1 0M92 97l-0 1M39 104l1 1M67 164l0 0M143 94l-0 1M104 79l-0 0M153 79l0 0M62 18l0 0M144 84l0 0M81 123l1 0M123 142l-0 0M136 1l-1 0M123 12l0 0M82 103l0 0M89 151l-0 1M90 116l0 1M108 29l-0 1M87 64l0 1M111 118l-1 0M95 80l0 0M114 64l-1 0M105 15l-1 1M74 70l0 1M103 90l-0 1M95 13l0 0M149 144l0 1M65 161l0 0M155 129l-1 0M109 100l0 0M101 143l-0 0M153 102l-1 0M99 123l-0 0M102 60l1 1M42 98l-0 1M125 96l0 0M160 52l-0 1M99 105l0 0M85 111l-0 1M105 96l-0 0M70 75l0 1M47 83l-0 1M80 123l1 0M32 88l-0 0M93 74l1 1M62 16l-1 0M143 98l0 1M78 21l-1 0M158 87l0 0M126 76l1 0M26 97l0 0M72 46l-0 0M89 61l-0 1M97 106l0 0M161 82l-0 0M75 25l-0 0M128 78l-0 0M46 3l0 1M126 96l-0 0M58 75l-0 1M95 56l-0 0M119 77l-1 0M42 -0l1 1M107 48l-0 0M21 158l-0 0M131 99l-0 0M142 147l-0 0M23 154l1 1M44 42l-0 1M79 32l0 0M27 72l-0 0M77 99l0 0M106 95l-0 0M71 46l-1 0M108 78l1 0M135 55l-0 0M91 38l1 0M78 90l0 1M19 150l-0 1M113 57l0 1M101 99l-1 0M116 56l-0 0M105 77l-0 1M163 77l-0 0M83 127l0 0M143 51l-0 0M125 71l0 0M143 99l0 0M22 95l-0 1M103 71l-1 0M112 87l0 1M127 107l0 0M161 135l1 0M119 79l0 0M88 64l-0 0M94 113l1 1M112 90l1 0M95 159l-0 0M103 62l-1 1M92 41l-0 1M130 39l1 0M60 76l0 0M82 116l0 0M152 111l-1 1M39 153l0 0M126 85l0 0M68 135l0 0M106 96l1 1M152 22l-0 0M67 36l-0 1M114 86l-0 0M123 98l-0 0M127 89l1 0M73 162l-0 0M43 143l0 0M86 78l-0 0M70 46l-0 1M93 68l-1 0M37 108l-1 0M137 144l1 0M103 76l0 1M125 61l0 0M134 127l0 0M137 66l-0 0M32 162l-0 0M50 80l0 0M50 132l0 0M98 79l-0 1M93 36l1 0M145 60l-0 1M147 54l0 0M85 146l-1 0M99 116l1 0M102 159l-1 0M18 84l0 1M147 162l-0 0M96 78l0 0M95 82l1 0M80 70l0 1M69 108l0 0M131 111l0 0M91 102l0 1M114 76l0 0M148 32l0 0M137 157l0 0M81 82l1 0M131 109l-1 1M129 62l-0 1M92 79l1 0M131 125l0 0M131 128l-1 0M138 34l1 0M97 70l-1 0M71 47l1 1M152 105l0 1M155 80l0 0M64 88l-1 1M156 67l-0 0M119 69l-0 1M137 144l-1 1M29 28l0 1M78 125l1 0M86 49l-0 0M118 79l0 0M106 83l-0 0M69 40l1 1M145 113l-0 0M31 91l-0 0M23 126l0 0M128 92l0 0M73 149l-1 0M105 87l0 0M114 97l-0 0M56 114l-0 1M47 159l0 0M113 63l0 0M101 65l0 0M61 70l0 0M164 84l-0 1M148 85l0 0M127 104l0 1M34 88l-0 0M110 127l-1 0M47 79l-1 1M54 138l-1 1M104 97l-1 1M100 82l-0 1M87 77l-1 1M151 94l0 1M86 109l0 1M65 60l0 1M111 94l-1 0M111 104l1 1M107 97l1 0M29 93l-1 0M78 65l-0 0M76 56l-0 0M130 89l0 1M93 27l1 0M150 127l-0 0M119 119l-0 1M97 54l1 0M145 47l-1 0M120 60l-0 1M104 122l0 1M152 49l-1 0M70 97l-1 0M112 103l0 1M30 99l0 1M79 82l0 0M72 10l0 0M81 110l1 0M59 52l-0 0M100 111l0 0M114 71l0 0M126 45l-0 1M125 89l-0 1M30 108l0 0M118 62l-1 0M117 91l1 1M54 131l-1 1M112 118l0 0M112 105l-1 1M141 77l-0 0M99 72l-1 1M72 73l0 1M93 94l-0 0M143 58l0 1M30 86l-0 0M110 146l0 0M53 49l-0 0M16 93l-0 0M119 99l-0 0M80 142l-1 0M164 86l-1 0M125 78l-0 0M15 84l-1 1M79 101l-0 1M37 93l-1 0M94 74l-0 1M109 76l-0 0M90 125l-0 0M156 64l-0 0M130 28l-0 0M83 106l-1 1M56 77l0 0M122 110l0 1M88 109l-1 0M139 79l0 0M121 84l0 0M97 24l-0 1M160 54l1 1M93 39l1 1M125 149l0 1M133 23l-0 1M79 69l-0 0M75 90l0 0M96 41l0 0M108 115l-1 1M128 124l-1 0M113 99l1 1M134 15l-0 0" stroke="#650d0d" stroke-width="1.8"/></g><clipPath id="ca130"><rect width="164.2" height="164.2"/></clipPath><clipPath id="ca131"><rect width="164.2" height="164.2"/></clipPath><clipPath id="ca132"><rect width="164.2" height="164.2"/></clipPath><clipPath id="ca133"><rect width="164.2" height="164.2"/></clipPath><radialGradient id="gS"><stop offset="0" stop-color="#1c3ca8"/><stop offset="0.55" stop-color="#2248b2"/><stop offset="0.8" stop-color="#247c8e"/><stop offset="1" stop-color="#1a5a6a" stop-opacity="0"/></radialGradient><radialGradient id="gM"><stop offset="0" stop-color="#1f3ea6"/><stop offset="0.7" stop-color="#2348b2"/><stop offset="0.86" stop-color="#22708c"/><stop offset="1" stop-color="#104a30" stop-opacity="0"/></radialGradient><radialGradient id="gD"><stop offset="0" stop-color="#0e0ea6"/><stop offset="0.75" stop-color="#1313b6"/><stop offset="0.9" stop-color="#0c0c8a"/><stop offset="1" stop-color="#080860" stop-opacity="0"/></radialGradient><radialGradient id="gG"><stop offset="0" stop-color="#0f4a0f"/><stop offset="0.6" stop-color="#145a14"/><stop offset="0.85" stop-color="#1b701b"/><stop offset="1" stop-color="#0c360c" stop-opacity="0"/></radialGradient><radialGradient id="gH"><stop offset="0" stop-color="#1a6a2a" stop-opacity="0.45"/><stop offset="1" stop-color="#0a300a" stop-opacity="0"/></radialGradient><clipPath id="ce00"><rect x="100.1" y="1990.8" width="133.7" height="134"/></clipPath><clipPath id="ce01"><rect x="100.1" y="2128.2" width="133.7" height="134"/></clipPath><clipPath id="ce02"><rect x="100.1" y="2265.6" width="133.7" height="134"/></clipPath><clipPath id="ce03"><rect x="100.1" y="2403.0" width="133.7" height="134"/></clipPath><clipPath id="ce10"><rect x="237.8" y="1990.8" width="133.7" height="134"/></clipPath><clipPath id="ce11"><rect x="237.8" y="2128.2" width="133.7" height="134"/></clipPath><clipPath id="ce12"><rect x="237.8" y="2265.6" width="133.7" height="134"/></clipPath><clipPath id="ce13"><rect x="237.8" y="2403.0" width="133.7" height="134"/></clipPath><clipPath id="ce20"><rect x="375.5" y="1990.8" width="133.7" height="134"/></clipPath><clipPath id="ce21"><rect x="375.5" y="2128.2" width="133.7" height="134"/></clipPath><clipPath id="ce22"><rect x="375.5" y="2265.6" width="133.7" height="134"/></clipPath><clipPath id="ce23"><rect x="375.5" y="2403.0" width="133.7" height="134"/></clipPath><clipPath id="ce30"><rect x="513.2" y="1990.8" width="133.7" height="134"/></clipPath><clipPath id="ce31"><rect x="513.2" y="2128.2" width="133.7" height="134"/></clipPath><clipPath id="ce32"><rect x="513.2" y="2265.6" width="133.7" height="134"/></clipPath><clipPath id="ce33"><rect x="513.2" y="2403.0" width="133.7" height="134"/></clipPath><clipPath id="ce40"><rect x="650.9" y="1990.8" width="133.7" height="134"/></clipPath><clipPath id="ce41"><rect x="650.9" y="2128.2" width="133.7" height="134"/></clipPath><clipPath id="ce42"><rect x="650.9" y="2265.6" width="133.7" height="134"/></clipPath><clipPath id="ce43"><rect x="650.9" y="2403.0" width="133.7" height="134"/></clipPath></defs><g transform="translate(77,120.5)" clip-path="url(#ca000)"><rect width="164.2" height="164.2" fill="#000"/><g filter="url(#soft)"><use href="#D00"/></g></g>
<g transform="translate(246.5,120.5)" clip-path="url(#ca001)"><rect width="164.2" height="164.2" fill="#000"/><g filter="url(#soft)"><use href="#G00"/></g></g>
<g transform="translate(417,120.5)" clip-path="url(#ca002)"><rect width="164.2" height="164.2" fill="#000"/><g filter="url(#soft)"><use href="#R00"/></g></g>
<g transform="translate(587,120.5)" clip-path="url(#ca003)"><rect width="164.2" height="164.2" fill="#000"/><g filter="url(#soft)"><use href="#D00"/><use href="#G00" style="mix-blend-mode:screen"/><use href="#R00" style="mix-blend-mode:screen"/></g></g>
<g transform="translate(77,289.8)" clip-path="url(#ca010)"><rect width="164.2" height="164.2" fill="#000"/><g filter="url(#soft)"><use href="#D01"/></g></g>
<g transform="translate(246.5,289.8)" clip-path="url(#ca011)"><rect width="164.2" height="164.2" fill="#000"/><g filter="url(#soft)"><use href="#G01"/></g></g>
<g transform="translate(417,289.8)" clip-path="url(#ca012)"><rect width="164.2" height="164.2" fill="#000"/><g filter="url(#soft)"><use href="#R01"/></g></g>
<g transform="translate(587,289.8)" clip-path="url(#ca013)"><rect width="164.2" height="164.2" fill="#000"/><g filter="url(#soft)"><use href="#D01"/><use href="#G01" style="mix-blend-mode:screen"/><use href="#R01" style="mix-blend-mode:screen"/></g></g>
<g transform="translate(77,459.3)" clip-path="url(#ca020)"><rect width="164.2" height="164.2" fill="#000"/><g filter="url(#soft)"><use href="#D02"/></g></g>
<g transform="translate(246.5,459.3)" clip-path="url(#ca021)"><rect width="164.2" height="164.2" fill="#000"/><g filter="url(#soft)"><use href="#G02"/></g></g>
<g transform="translate(417,459.3)" clip-path="url(#ca022)"><rect width="164.2" height="164.2" fill="#000"/><g filter="url(#soft)"><use href="#R02"/></g></g>
<g transform="translate(587,459.3)" clip-path="url(#ca023)"><rect width="164.2" height="164.2" fill="#000"/><g filter="url(#soft)"><use href="#D02"/><use href="#G02" style="mix-blend-mode:screen"/><use href="#R02" style="mix-blend-mode:screen"/></g></g>
<g transform="translate(77,628.2)" clip-path="url(#ca030)"><rect width="164.2" height="164.2" fill="#000"/><g filter="url(#soft)"><use href="#D03"/></g></g>
<g transform="translate(246.5,628.2)" clip-path="url(#ca031)"><rect width="164.2" height="164.2" fill="#000"/><g filter="url(#soft)"><use href="#G03"/></g></g>
<g transform="translate(417,628.2)" clip-path="url(#ca032)"><rect width="164.2" height="164.2" fill="#000"/><g filter="url(#soft)"><use href="#R03"/></g></g>
<g transform="translate(587,628.2)" clip-path="url(#ca033)"><rect width="164.2" height="164.2" fill="#000"/><g filter="url(#soft)"><use href="#D03"/><use href="#G03" style="mix-blend-mode:screen"/><use href="#R03" style="mix-blend-mode:screen"/></g></g>
<g transform="translate(845,120.5)" clip-path="url(#ca100)"><rect width="164.2" height="164.2" fill="#000"/><g filter="url(#soft)"><use href="#D10"/></g></g>
<g transform="translate(1014.5,120.5)" clip-path="url(#ca101)"><rect width="164.2" height="164.2" fill="#000"/><g filter="url(#soft)"><use href="#G10"/></g></g>
<g transform="translate(1184.5,120.5)" clip-path="url(#ca102)"><rect width="164.2" height="164.2" fill="#000"/><g filter="url(#soft)"><use href="#R10"/></g></g>
<g transform="translate(1354,120.5)" clip-path="url(#ca103)"><rect width="164.2" height="164.2" fill="#000"/><g filter="url(#soft)"><use href="#D10"/><use href="#G10" style="mix-blend-mode:screen"/><use href="#R10" style="mix-blend-mode:screen"/></g></g>
<g transform="translate(845,289.8)" clip-path="url(#ca110)"><rect width="164.2" height="164.2" fill="#000"/><g filter="url(#soft)"><use href="#D11"/></g></g>
<g transform="translate(1014.5,289.8)" clip-path="url(#ca111)"><rect width="164.2" height="164.2" fill="#000"/><g filter="url(#soft)"><use href="#G11"/></g></g>
<g transform="translate(1184.5,289.8)" clip-path="url(#ca112)"><rect width="164.2" height="164.2" fill="#000"/><g filter="url(#soft)"><use href="#R11"/></g></g>
<g transform="translate(1354,289.8)" clip-path="url(#ca113)"><rect width="164.2" height="164.2" fill="#000"/><g filter="url(#soft)"><use href="#D11"/><use href="#G11" style="mix-blend-mode:screen"/><use href="#R11" style="mix-blend-mode:screen"/></g></g>
<g transform="translate(845,459.3)" clip-path="url(#ca120)"><rect width="164.2" height="164.2" fill="#000"/><g filter="url(#soft)"><use href="#D12"/></g></g>
<g transform="translate(1014.5,459.3)" clip-path="url(#ca121)"><rect width="164.2" height="164.2" fill="#000"/><g filter="url(#soft)"><use href="#G12"/></g></g>
<g transform="translate(1184.5,459.3)" clip-path="url(#ca122)"><rect width="164.2" height="164.2" fill="#000"/><g filter="url(#soft)"><use href="#R12"/></g></g>
<g transform="translate(1354,459.3)" clip-path="url(#ca123)"><rect width="164.2" height="164.2" fill="#000"/><g filter="url(#soft)"><use href="#D12"/><use href="#G12" style="mix-blend-mode:screen"/><use href="#R12" style="mix-blend-mode:screen"/></g></g>
<g transform="translate(845,628.2)" clip-path="url(#ca130)"><rect width="164.2" height="164.2" fill="#000"/><g filter="url(#soft)"><use href="#D13"/></g></g>
<g transform="translate(1014.5,628.2)" clip-path="url(#ca131)"><rect width="164.2" height="164.2" fill="#000"/><g filter="url(#soft)"><use href="#G13"/></g></g>
<g transform="translate(1184.5,628.2)" clip-path="url(#ca132)"><rect width="164.2" height="164.2" fill="#000"/><g filter="url(#soft)"><use href="#R13"/></g></g>
<g transform="translate(1354,628.2)" clip-path="url(#ca133)"><rect width="164.2" height="164.2" fill="#000"/><g filter="url(#soft)"><use href="#D13"/><use href="#G13" style="mix-blend-mode:screen"/><use href="#R13" style="mix-blend-mode:screen"/></g></g>
<rect x="183" y="778" width="56" height="8" fill="#fff"/>
<rect x="947" y="778" width="56" height="8" fill="#fff"/>
<text x="-1.39" y="41.20" font-size="53.00" fill="#000" >a</text>
<text x="378.67" y="25.90" font-size="36.02" fill="#000" >Day 3</text>
<text x="1177.14" y="26.00" font-size="36.40" fill="#000" >Day 7</text>
<rect x="179" y="46.3" width="499.5" height="4" fill="#000"/>
<rect x="959.2" y="46.7" width="499.2" height="4" fill="#000"/>
<text x="120.78" y="104.70" font-size="32.95" fill="#2a70bd" >DAPI</text>
<text x="274.40" y="104.70" font-size="32.53" fill="#35ad3a" >CD206</text>
<text x="454.69" y="104.70" font-size="32.86" fill="#e23434" >CD86</text>
<text x="612.77" y="104.70" font-size="33.02" fill="#000" >Merged</text>
<text x="888.78" y="104.70" font-size="32.82" fill="#2a70bd" >DAPI</text>
<text x="1045.31" y="104.70" font-size="32.36" fill="#35ad3a" >CD206</text>
<text x="1226.20" y="104.70" font-size="32.54" fill="#e23434" >CD86</text>
<text x="1390.28" y="104.70" font-size="32.90" fill="#000" >Merged</text>
<text transform="translate(64.20,251.71) rotate(-90)" font-size="32.71" fill="#000">Control</text>
<text transform="translate(64.20,420.71) rotate(-90)" font-size="32.72" fill="#000">d-SMG</text>
<text transform="translate(64.20,606.75) rotate(-90)" font-size="32.93" fill="#000">s-GAG</text>
<text transform="translate(57.50,760.20) rotate(-90)" font-size="32.04" fill="#000">Alg</text>
<text transform="translate(46.8,708.39) rotate(-90)" font-size="19">TM</text>
<rect x="229.6" y="1248.4" width="30.0" height="55.9" fill="#fff" stroke="#333" stroke-width="1.2"/>
<rect x="267.0" y="1222.4" width="30.0" height="81.9" fill="#fff" stroke="#333" stroke-width="1.2"/>
<rect x="304.1" y="1103.6" width="29.8" height="200.7" fill="#fff" stroke="#333" stroke-width="1.2"/>
<rect x="341.3" y="1205.5" width="30.0" height="98.8" fill="#fff" stroke="#333" stroke-width="1.2"/>
<rect x="413.4" y="1250.2" width="30.2" height="54.1" fill="#fff" stroke="#333" stroke-width="1.2"/>
<rect x="451.0" y="1140.8" width="30.0" height="163.5" fill="#fff" stroke="#333" stroke-width="1.2"/>
<rect x="488.6" y="1069.7" width="29.8" height="234.6" fill="#fff" stroke="#333" stroke-width="1.2"/>
<rect x="525.5" y="1214.4" width="29.8" height="89.9" fill="#fff" stroke="#333" stroke-width="1.2"/>
<rect x="599.4" y="1255.5" width="29.9" height="48.8" fill="#fff" stroke="#333" stroke-width="1.2"/>
<rect x="636.4" y="1262.4" width="30.1" height="41.9" fill="#fff" stroke="#333" stroke-width="1.2"/>
<rect x="673.9" y="1252.4" width="29.6" height="51.9" fill="#fff" stroke="#333" stroke-width="1.2"/>
<rect x="710.9" y="1184.0" width="30.1" height="120.3" fill="#fff" stroke="#333" stroke-width="1.2"/>
<rect x="241.8" y="1191.8" width="8.3" height="8.3" fill="#7b7b7b"/>
<rect x="239.3" y="1209.9" width="8.3" height="8.3" fill="#7b7b7b"/>
<rect x="234.5" y="1230.3" width="8.3" height="8.3" fill="#7b7b7b"/>
<rect x="229.7" y="1241.1" width="8.3" height="8.3" fill="#7b7b7b"/>
<rect x="236.9" y="1246.8" width="8.3" height="8.3" fill="#7b7b7b"/>
<rect x="242.5" y="1252.8" width="8.3" height="8.3" fill="#7b7b7b"/>
<rect x="249.8" y="1253.6" width="8.3" height="8.3" fill="#7b7b7b"/>
<rect x="232.0" y="1258.8" width="8.3" height="8.3" fill="#7b7b7b"/>
<rect x="250.7" y="1258.8" width="8.3" height="8.3" fill="#7b7b7b"/>
<rect x="241.8" y="1267.3" width="8.3" height="8.3" fill="#7b7b7b"/>
<rect x="244.2" y="1269.8" width="8.3" height="8.3" fill="#7b7b7b"/>
<rect x="424.4" y="1206.9" width="8.3" height="8.3" fill="#7b7b7b"/>
<rect x="425.4" y="1228.1" width="8.3" height="8.3" fill="#7b7b7b"/>
<rect x="432.5" y="1230.1" width="8.3" height="8.3" fill="#7b7b7b"/>
<rect x="427.4" y="1234.1" width="8.3" height="8.3" fill="#7b7b7b"/>
<rect x="413.2" y="1242.2" width="8.3" height="8.3" fill="#7b7b7b"/>
<rect x="426.4" y="1246.2" width="8.3" height="8.3" fill="#7b7b7b"/>
<rect x="431.4" y="1248.2" width="8.3" height="8.3" fill="#7b7b7b"/>
<rect x="417.4" y="1256.3" width="8.3" height="8.3" fill="#7b7b7b"/>
<rect x="414.4" y="1273.4" width="8.3" height="8.3" fill="#7b7b7b"/>
<rect x="420.4" y="1273.4" width="8.3" height="8.3" fill="#7b7b7b"/>
<rect x="435.5" y="1273.4" width="8.3" height="8.3" fill="#7b7b7b"/>
<rect x="617.2" y="1228.1" width="8.3" height="8.3" fill="#7b7b7b"/>
<rect x="610.1" y="1237.8" width="8.3" height="8.3" fill="#7b7b7b"/>
<rect x="607.1" y="1242.8" width="8.3" height="8.3" fill="#7b7b7b"/>
<rect x="601.1" y="1249.2" width="8.3" height="8.3" fill="#7b7b7b"/>
<rect x="612.6" y="1251.8" width="8.3" height="8.3" fill="#7b7b7b"/>
<rect x="620.2" y="1254.3" width="8.3" height="8.3" fill="#7b7b7b"/>
<rect x="605.0" y="1254.3" width="8.3" height="8.3" fill="#7b7b7b"/>
<rect x="615.1" y="1258.2" width="8.3" height="8.3" fill="#7b7b7b"/>
<rect x="603.8" y="1265.8" width="8.3" height="8.3" fill="#7b7b7b"/>
<rect x="610.1" y="1272.2" width="8.3" height="8.3" fill="#7b7b7b"/>
<circle cx="270.5" cy="1214.1" r="4.7" fill="#f56c6c"/>
<circle cx="274.9" cy="1217.2" r="4.7" fill="#f56c6c"/>
<circle cx="286.6" cy="1211.1" r="4.7" fill="#f56c6c"/>
<circle cx="289.6" cy="1206.1" r="4.7" fill="#f56c6c"/>
<circle cx="292.6" cy="1224.6" r="4.7" fill="#f56c6c"/>
<circle cx="281.5" cy="1222.2" r="4.7" fill="#f56c6c"/>
<circle cx="277.5" cy="1224.8" r="4.7" fill="#f56c6c"/>
<circle cx="281.5" cy="1228.2" r="4.7" fill="#f56c6c"/>
<circle cx="281.5" cy="1277.6" r="4.7" fill="#f56c6c"/>
<circle cx="465.9" cy="868.9" r="4.7" fill="#f56c6c"/>
<circle cx="468.3" cy="1105.5" r="4.7" fill="#f56c6c"/>
<circle cx="463.2" cy="1115.7" r="4.7" fill="#f56c6c"/>
<circle cx="460.7" cy="1134.3" r="4.7" fill="#f56c6c"/>
<circle cx="465.8" cy="1152.7" r="4.7" fill="#f56c6c"/>
<circle cx="470.9" cy="1162.1" r="4.7" fill="#f56c6c"/>
<circle cx="456.6" cy="1175.1" r="4.7" fill="#f56c6c"/>
<circle cx="475.5" cy="1172.6" r="4.7" fill="#f56c6c"/>
<circle cx="463.2" cy="1183.3" r="4.7" fill="#f56c6c"/>
<circle cx="473.2" cy="1193.5" r="4.7" fill="#f56c6c"/>
<circle cx="458.7" cy="1213.9" r="4.7" fill="#f56c6c"/>
<circle cx="468.3" cy="1213.9" r="4.7" fill="#f56c6c"/>
<circle cx="650.7" cy="1236.8" r="4.7" fill="#f56c6c"/>
<circle cx="652.5" cy="1249.6" r="4.7" fill="#f56c6c"/>
<circle cx="644.8" cy="1256.0" r="4.7" fill="#f56c6c"/>
<circle cx="662.7" cy="1262.4" r="4.7" fill="#f56c6c"/>
<circle cx="641.0" cy="1268.7" r="4.7" fill="#f56c6c"/>
<circle cx="656.3" cy="1267.5" r="4.7" fill="#f56c6c"/>
<circle cx="648.7" cy="1273.8" r="4.7" fill="#f56c6c"/>
<circle cx="651.2" cy="1277.7" r="4.7" fill="#f56c6c"/>
<circle cx="657.6" cy="1273.8" r="4.7" fill="#f56c6c"/>
<path d="M313.1,895.2L324.7,895.2L318.9,885.4Z" fill="#0aa0f0"/>
<path d="M313.1,1008.5L324.7,1008.5L318.9,998.7Z" fill="#0aa0f0"/>
<path d="M313.4,1055.0L325.0,1055.0L319.2,1045.2Z" fill="#0aa0f0"/>
<path d="M313.4,1098.3L325.0,1098.3L319.2,1088.5Z" fill="#0aa0f0"/>
<path d="M313.4,1138.5L325.0,1138.5L319.2,1128.7Z" fill="#0aa0f0"/>
<path d="M302.9,1145.6L314.5,1145.6L308.7,1135.8Z" fill="#0aa0f0"/>
<path d="M309.0,1150.6L320.6,1150.6L314.8,1140.8Z" fill="#0aa0f0"/>
<path d="M319.0,1146.6L330.6,1146.6L324.8,1136.8Z" fill="#0aa0f0"/>
<path d="M324.1,1149.6L335.7,1149.6L329.9,1139.8Z" fill="#0aa0f0"/>
<path d="M315.0,1152.6L326.6,1152.6L320.8,1142.8Z" fill="#0aa0f0"/>
<path d="M313.4,1182.8L325.0,1182.8L319.2,1173.0Z" fill="#0aa0f0"/>
<path d="M491.5,891.6L503.1,891.6L497.3,881.8Z" fill="#0aa0f0"/>
<path d="M503.3,902.4L514.9,902.4L509.1,892.6Z" fill="#0aa0f0"/>
<path d="M497.4,949.3L509.0,949.3L503.2,939.5Z" fill="#0aa0f0"/>
<path d="M497.4,992.8L509.0,992.8L503.2,983.0Z" fill="#0aa0f0"/>
<path d="M503.3,1036.6L514.9,1036.6L509.1,1026.8Z" fill="#0aa0f0"/>
<path d="M491.5,1075.5L503.1,1075.5L497.3,1065.7Z" fill="#0aa0f0"/>
<path d="M491.5,1098.3L503.1,1098.3L497.3,1088.5Z" fill="#0aa0f0"/>
<path d="M503.3,1098.3L514.9,1098.3L509.1,1088.5Z" fill="#0aa0f0"/>
<path d="M497.4,1130.5L509.0,1130.5L503.2,1120.7Z" fill="#0aa0f0"/>
<path d="M503.4,1201.2L515.0,1201.2L509.2,1191.4Z" fill="#0aa0f0"/>
<path d="M491.1,1227.5L502.7,1227.5L496.9,1217.7Z" fill="#0aa0f0"/>
<path d="M497.5,1266.3L509.1,1266.3L503.3,1256.5Z" fill="#0aa0f0"/>
<path d="M683.2,1180.8L694.8,1180.8L689.0,1171.0Z" fill="#0aa0f0"/>
<path d="M687.0,1234.4L698.6,1234.4L692.8,1224.6Z" fill="#0aa0f0"/>
<path d="M679.8,1247.1L691.4,1247.1L685.6,1237.3Z" fill="#0aa0f0"/>
<path d="M691.3,1247.1L702.9,1247.1L697.1,1237.3Z" fill="#0aa0f0"/>
<path d="M684.9,1253.5L696.5,1253.5L690.7,1243.7Z" fill="#0aa0f0"/>
<path d="M673.5,1259.4L685.1,1259.4L679.3,1249.6Z" fill="#0aa0f0"/>
<path d="M684.9,1262.4L696.5,1262.4L690.7,1252.6Z" fill="#0aa0f0"/>
<path d="M674.7,1280.3L686.3,1280.3L680.5,1270.5Z" fill="#0aa0f0"/>
<path d="M681.1,1280.3L692.7,1280.3L686.9,1270.5Z" fill="#0aa0f0"/>
<path d="M690.0,1280.3L701.6,1280.3L695.8,1270.5Z" fill="#0aa0f0"/>
<path d="M693.9,1281.6L705.5,1281.6L699.7,1271.8Z" fill="#0aa0f0"/>
<path d="M350.4,1103.5L361.6,1103.5L356.0,1113.3Z" fill="#d23cf2"/>
<path d="M348.4,1123.7L359.6,1123.7L354.0,1133.5Z" fill="#d23cf2"/>
<path d="M353.4,1140.8L364.6,1140.8L359.0,1150.6Z" fill="#d23cf2"/>
<path d="M343.4,1197.1L354.6,1197.1L349.0,1206.9Z" fill="#d23cf2"/>
<path d="M357.4,1196.1L368.6,1196.1L363.0,1205.9Z" fill="#d23cf2"/>
<path d="M351.4,1215.3L362.6,1215.3L357.0,1225.1Z" fill="#d23cf2"/>
<path d="M347.4,1223.3L358.6,1223.3L353.0,1233.1Z" fill="#d23cf2"/>
<path d="M360.4,1229.4L371.6,1229.4L366.0,1239.2Z" fill="#d23cf2"/>
<path d="M345.4,1236.4L356.6,1236.4L351.0,1246.2Z" fill="#d23cf2"/>
<path d="M350.4,1242.5L361.6,1242.5L356.0,1252.3Z" fill="#d23cf2"/>
<path d="M340.4,1252.5L351.6,1252.5L346.0,1262.3Z" fill="#d23cf2"/>
<path d="M355.4,1262.6L366.6,1262.6L361.0,1272.4Z" fill="#d23cf2"/>
<path d="M534.8,1110.5L545.8,1110.5L540.3,1120.3Z" fill="#d23cf2"/>
<path d="M534.8,1164.1L545.8,1164.1L540.3,1173.9Z" fill="#d23cf2"/>
<path d="M525.1,1194.7L536.1,1194.7L530.6,1204.5Z" fill="#d23cf2"/>
<path d="M544.5,1200.6L555.5,1200.6L550.0,1210.4Z" fill="#d23cf2"/>
<path d="M538.5,1203.6L549.5,1203.6L544.0,1213.4Z" fill="#d23cf2"/>
<path d="M529.7,1220.2L540.8,1220.2L535.2,1230.0Z" fill="#d23cf2"/>
<path d="M524.5,1243.1L535.5,1243.1L530.0,1252.9Z" fill="#d23cf2"/>
<path d="M533.5,1240.6L544.5,1240.6L539.0,1250.4Z" fill="#d23cf2"/>
<path d="M539.9,1241.4L550.9,1241.4L545.4,1251.2Z" fill="#d23cf2"/>
<path d="M529.7,1247.0L540.8,1247.0L535.2,1256.8Z" fill="#d23cf2"/>
<path d="M544.5,1263.6L555.5,1263.6L550.0,1273.4Z" fill="#d23cf2"/>
<path d="M720.5,1102.9L731.5,1102.9L726.0,1112.7Z" fill="#d23cf2"/>
<path d="M720.5,1141.1L731.5,1141.1L726.0,1150.9Z" fill="#d23cf2"/>
<path d="M712.0,1148.8L723.0,1148.8L717.5,1158.6Z" fill="#d23cf2"/>
<path d="M728.6,1161.5L739.6,1161.5L734.1,1171.3Z" fill="#d23cf2"/>
<path d="M719.7,1164.1L730.8,1164.1L725.2,1173.9Z" fill="#d23cf2"/>
<path d="M712.0,1189.6L723.0,1189.6L717.5,1199.4Z" fill="#d23cf2"/>
<path d="M720.9,1188.3L731.9,1188.3L726.4,1198.1Z" fill="#d23cf2"/>
<path d="M728.6,1192.1L739.6,1192.1L734.1,1201.9Z" fill="#d23cf2"/>
<path d="M720.4,1201.1L731.4,1201.1L725.9,1210.9Z" fill="#d23cf2"/>
<path d="M712.0,1221.5L723.0,1221.5L717.5,1231.3Z" fill="#d23cf2"/>
<path d="M728.6,1218.9L739.6,1218.9L734.1,1228.7Z" fill="#d23cf2"/>
<path d="M720.4,1243.1L731.4,1243.1L725.9,1252.9Z" fill="#d23cf2"/>
<path d="M238.8,1241.3H250.4M244.6,1241.3V1255.0M238.8,1255.0H250.4" stroke="#111" stroke-width="1.3" fill="none"/>
<path d="M276.1,1217.2H287.9M282.0,1217.2V1227.6M276.1,1227.6H287.9" stroke="#111" stroke-width="1.3" fill="none"/>
<path d="M313.1,1079.7H324.9M319.0,1079.7V1127.6M313.1,1127.6H324.9" stroke="#111" stroke-width="1.3" fill="none"/>
<path d="M350.4,1190.0H362.2M356.3,1190.0V1220.2M350.4,1220.2H362.2" stroke="#111" stroke-width="1.3" fill="none"/>
<path d="M422.6,1244.5H434.4M428.5,1244.5V1256.0M422.6,1256.0H434.4" stroke="#111" stroke-width="1.3" fill="none"/>
<path d="M460.1,1113.9H471.9M466.0,1113.9V1167.5M460.1,1167.5H471.9" stroke="#111" stroke-width="1.3" fill="none"/>
<path d="M497.6,1034.6H509.4M503.5,1034.6V1105.7M497.6,1105.7H509.4" stroke="#111" stroke-width="1.3" fill="none"/>
<path d="M534.5,1202.9H546.2M540.4,1202.9V1226.9M534.5,1226.9H546.2" stroke="#111" stroke-width="1.3" fill="none"/>
<path d="M608.5,1252.9H620.2M614.4,1252.9V1258.5M608.5,1258.5H620.2" stroke="#111" stroke-width="1.3" fill="none"/>
<path d="M645.6,1259.8H657.4M651.5,1259.8V1265.7M645.6,1265.7H657.4" stroke="#111" stroke-width="1.3" fill="none"/>
<path d="M682.9,1244.5H694.6M688.7,1244.5V1260.6M682.9,1260.6H694.6" stroke="#111" stroke-width="1.3" fill="none"/>
<path d="M720.1,1173.1H731.9M726.0,1173.1V1195.3M720.1,1195.3H731.9" stroke="#111" stroke-width="1.3" fill="none"/>
<rect x="205.7" y="840.8" width="556.9000000000001" height="463.5" fill="none" stroke="#5a5a5a" stroke-width="1.5"/>
<path d="M198.2,1278.4H205.7" stroke="#5a5a5a" stroke-width="1.5"/>
<text x="173.97" y="1289.40" font-size="35">0</text>
<path d="M198.2,1149.7H205.7" stroke="#5a5a5a" stroke-width="1.5"/>
<text x="173.54" y="1160.70" font-size="35">5</text>
<path d="M198.2,1020.9H205.7" stroke="#5a5a5a" stroke-width="1.5"/>
<text x="154.55" y="1031.90" font-size="35">10</text>
<path d="M198.2,892.3H205.7" stroke="#5a5a5a" stroke-width="1.5"/>
<text x="154.11" y="903.30" font-size="35">15</text>
<path d="M298.6,1304.3V1312.3" stroke="#5a5a5a" stroke-width="1.5"/>
<path d="M484.7,1304.3V1312.3" stroke="#5a5a5a" stroke-width="1.5"/>
<path d="M669.6,1304.3V1312.3" stroke="#5a5a5a" stroke-width="1.5"/>
<text x="255.08" y="1342.70" font-size="34.00" fill="#000">day 3</text>
<text x="441.01" y="1342.70" font-size="34.00" fill="#000">day 7</text>
<text x="616.09" y="1342.70" font-size="34.00" fill="#000">day 14</text>
<rect x="602.3" y="848.3" width="154.30000000000007" height="130.20000000000005" fill="#fff" stroke="#bdbdbd" stroke-width="1.1"/>
<rect x="628.1" y="862.1" width="8.3" height="8.3" fill="#7b7b7b"/>
<text x="666.21" y="875.1" font-size="24.8">Control</text>
<circle cx="632.3" cy="897.0" r="4.7" fill="#f56c6c"/>
<text x="666.21" y="905.2" font-size="24.8">d-SMG</text>
<path d="M626.5,930.5L638.1,930.5L632.3,920.7Z" fill="#0aa0f0"/>
<text x="666.21" y="935.5" font-size="24.8">s-GAG</text>
<path d="M626.8,957.6L637.8,957.6L632.3,967.4Z" fill="#d23cf2"/>
<text x="666.21" y="970.1" font-size="24.8">Alg<tspan font-size="17.4" dy="-11.4">TM</tspan></text>
<text x="211.74" y="1175.90" font-size="20.42"><tspan font-style="italic">P</tspan> = 0.0062</text>
<path d="M238.3,1188.0V1180.3H281.5V1188.0" fill="none" stroke="#444" stroke-width="1.3"/>
<text x="229.15" y="979.30" font-size="20.23"><tspan font-style="italic">P</tspan> &lt; 0.0001</text>
<path d="M243.5,992.2V985.2H316.2V992.2" fill="none" stroke="#444" stroke-width="1.3"/>
<text x="241.24" y="931.00" font-size="20.53"><tspan font-style="italic">P</tspan> = 0.0159</text>
<path d="M234.4,943.6V936.4H349.3V943.6" fill="none" stroke="#444" stroke-width="1.3"/>
<text x="387.14" y="1069.70" font-size="20.47"><tspan font-style="italic">P</tspan> = 0.0006</text>
<path d="M423.5,1088.0V1081.0H466.4V1088.0" fill="none" stroke="#444" stroke-width="1.3"/>
<text x="405.64" y="1014.70" font-size="20.33"><tspan font-style="italic">P</tspan> &lt; 0.0001</text>
<path d="M416.2,1027.5V1021.4H500.8V1027.5" fill="none" stroke="#444" stroke-width="1.3"/>
<text x="622.04" y="1070.80" font-size="20.33"><tspan font-style="italic">P</tspan> &lt; 0.0001</text>
<path d="M617.9,1085.6V1079.0H726.3V1085.6" fill="none" stroke="#444" stroke-width="1.3"/>
<text transform="translate(103.70,1235.16) rotate(-90)" font-size="35.01" fill="#000">Relative Coverage</text>
<text transform="translate(147.00,1233.69) rotate(-90)" font-size="35.46" fill="#000">Area of CD206 (%)</text>
<text x="-0.44" y="839.80" font-size="56.00" fill="#000" >b</text>
<rect x="1001.6" y="1235.2" width="29.8" height="65.2" fill="#fff" stroke="#333" stroke-width="1.2"/>
<rect x="1038.5" y="1257.3" width="29.7" height="43.1" fill="#fff" stroke="#333" stroke-width="1.2"/>
<rect x="1075.3" y="1188.8" width="30.0" height="111.6" fill="#fff" stroke="#333" stroke-width="1.2"/>
<rect x="1112.5" y="1148.6" width="29.2" height="151.8" fill="#fff" stroke="#333" stroke-width="1.2"/>
<rect x="1186.4" y="1171.1" width="29.2" height="129.3" fill="#fff" stroke="#333" stroke-width="1.2"/>
<rect x="1223.3" y="1249.0" width="29.4" height="51.4" fill="#fff" stroke="#333" stroke-width="1.2"/>
<rect x="1259.4" y="1213.4" width="30.1" height="87.0" fill="#fff" stroke="#333" stroke-width="1.2"/>
<rect x="1296.4" y="1221.9" width="29.1" height="78.5" fill="#fff" stroke="#333" stroke-width="1.2"/>
<rect x="1370.3" y="1246.1" width="29.3" height="54.3" fill="#fff" stroke="#333" stroke-width="1.2"/>
<rect x="1406.9" y="1244.5" width="29.5" height="55.9" fill="#fff" stroke="#333" stroke-width="1.2"/>
<rect x="1443.5" y="1266.7" width="29.7" height="33.7" fill="#fff" stroke="#333" stroke-width="1.2"/>
<rect x="1480.5" y="1197.4" width="29.7" height="103.0" fill="#fff" stroke="#333" stroke-width="1.2"/>
<rect x="1014.1" y="1164.9" width="8.3" height="8.3" fill="#7b7b7b"/>
<rect x="1010.6" y="1178.0" width="8.3" height="8.3" fill="#7b7b7b"/>
<rect x="1012.6" y="1218.9" width="8.3" height="8.3" fill="#7b7b7b"/>
<rect x="1008.1" y="1227.3" width="8.3" height="8.3" fill="#7b7b7b"/>
<rect x="1019.2" y="1239.4" width="8.3" height="8.3" fill="#7b7b7b"/>
<rect x="1009.1" y="1241.4" width="8.3" height="8.3" fill="#7b7b7b"/>
<rect x="1002.1" y="1250.5" width="8.3" height="8.3" fill="#7b7b7b"/>
<rect x="1023.3" y="1250.5" width="8.3" height="8.3" fill="#7b7b7b"/>
<rect x="1015.8" y="1254.5" width="8.3" height="8.3" fill="#7b7b7b"/>
<rect x="1006.1" y="1263.6" width="8.3" height="8.3" fill="#7b7b7b"/>
<rect x="1013.1" y="1263.6" width="8.3" height="8.3" fill="#7b7b7b"/>
<rect x="1015.1" y="1224.9" width="8.3" height="8.3" fill="#7b7b7b"/>
<rect x="1196.9" y="1016.0" width="8.3" height="8.3" fill="#7b7b7b"/>
<rect x="1201.0" y="1101.5" width="8.3" height="8.3" fill="#7b7b7b"/>
<rect x="1193.8" y="1112.2" width="8.3" height="8.3" fill="#7b7b7b"/>
<rect x="1196.9" y="1140.8" width="8.3" height="8.3" fill="#7b7b7b"/>
<rect x="1196.9" y="1176.0" width="8.3" height="8.3" fill="#7b7b7b"/>
<rect x="1197.3" y="1191.1" width="8.3" height="8.3" fill="#7b7b7b"/>
<rect x="1200.4" y="1195.1" width="8.3" height="8.3" fill="#7b7b7b"/>
<rect x="1193.4" y="1204.2" width="8.3" height="8.3" fill="#7b7b7b"/>
<rect x="1187.3" y="1206.8" width="8.3" height="8.3" fill="#7b7b7b"/>
<rect x="1190.3" y="1213.2" width="8.3" height="8.3" fill="#7b7b7b"/>
<rect x="1205.4" y="1223.3" width="8.3" height="8.3" fill="#7b7b7b"/>
<rect x="1207.4" y="1224.3" width="8.3" height="8.3" fill="#7b7b7b"/>
<rect x="1380.8" y="1186.8" width="8.3" height="8.3" fill="#7b7b7b"/>
<rect x="1380.8" y="1204.1" width="8.3" height="8.3" fill="#7b7b7b"/>
<rect x="1382.8" y="1221.5" width="8.3" height="8.3" fill="#7b7b7b"/>
<rect x="1378.8" y="1225.5" width="8.3" height="8.3" fill="#7b7b7b"/>
<rect x="1378.8" y="1236.3" width="8.3" height="8.3" fill="#7b7b7b"/>
<rect x="1382.8" y="1253.2" width="8.3" height="8.3" fill="#7b7b7b"/>
<rect x="1370.4" y="1259.1" width="8.3" height="8.3" fill="#7b7b7b"/>
<rect x="1389.2" y="1259.1" width="8.3" height="8.3" fill="#7b7b7b"/>
<rect x="1380.8" y="1257.1" width="8.3" height="8.3" fill="#7b7b7b"/>
<rect x="1374.4" y="1264.1" width="8.3" height="8.3" fill="#7b7b7b"/>
<rect x="1386.3" y="1262.1" width="8.3" height="8.3" fill="#7b7b7b"/>
<rect x="1382.8" y="1270.0" width="8.3" height="8.3" fill="#7b7b7b"/>
<circle cx="1054.6" cy="1214.4" r="4.7" fill="#f56c6c"/>
<circle cx="1051.5" cy="1219.5" r="4.7" fill="#f56c6c"/>
<circle cx="1044.5" cy="1251.7" r="4.7" fill="#f56c6c"/>
<circle cx="1054.6" cy="1248.6" r="4.7" fill="#f56c6c"/>
<circle cx="1049.5" cy="1255.7" r="4.7" fill="#f56c6c"/>
<circle cx="1042.5" cy="1269.8" r="4.7" fill="#f56c6c"/>
<circle cx="1049.5" cy="1268.8" r="4.7" fill="#f56c6c"/>
<circle cx="1056.6" cy="1270.8" r="4.7" fill="#f56c6c"/>
<circle cx="1060.6" cy="1272.8" r="4.7" fill="#f56c6c"/>
<circle cx="1064.2" cy="1269.8" r="4.7" fill="#f56c6c"/>
<circle cx="1052.5" cy="1264.7" r="4.7" fill="#f56c6c"/>
<circle cx="1237.8" cy="1173.1" r="4.7" fill="#f56c6c"/>
<circle cx="1237.8" cy="1229.5" r="4.7" fill="#f56c6c"/>
<circle cx="1241.8" cy="1238.6" r="4.7" fill="#f56c6c"/>
<circle cx="1226.7" cy="1245.6" r="4.7" fill="#f56c6c"/>
<circle cx="1231.7" cy="1251.7" r="4.7" fill="#f56c6c"/>
<circle cx="1245.8" cy="1249.6" r="4.7" fill="#f56c6c"/>
<circle cx="1248.8" cy="1256.7" r="4.7" fill="#f56c6c"/>
<circle cx="1237.8" cy="1261.7" r="4.7" fill="#f56c6c"/>
<circle cx="1239.8" cy="1265.7" r="4.7" fill="#f56c6c"/>
<circle cx="1229.7" cy="1271.8" r="4.7" fill="#f56c6c"/>
<circle cx="1237.8" cy="1269.8" r="4.7" fill="#f56c6c"/>
<circle cx="1421.7" cy="1059.4" r="4.7" fill="#f56c6c"/>
<circle cx="1417.2" cy="1245.5" r="4.7" fill="#f56c6c"/>
<circle cx="1425.1" cy="1245.5" r="4.7" fill="#f56c6c"/>
<circle cx="1421.7" cy="1256.4" r="4.7" fill="#f56c6c"/>
<circle cx="1427.1" cy="1257.0" r="4.7" fill="#f56c6c"/>
<circle cx="1413.2" cy="1262.3" r="4.7" fill="#f56c6c"/>
<circle cx="1431.1" cy="1267.3" r="4.7" fill="#f56c6c"/>
<circle cx="1421.2" cy="1264.3" r="4.7" fill="#f56c6c"/>
<circle cx="1411.8" cy="1272.2" r="4.7" fill="#f56c6c"/>
<circle cx="1428.1" cy="1276.2" r="4.7" fill="#f56c6c"/>
<path d="M1084.3,999.1L1095.9,999.1L1090.1,989.3Z" fill="#0aa0f0"/>
<path d="M1086.4,1082.4L1098.0,1082.4L1092.2,1072.6Z" fill="#0aa0f0"/>
<path d="M1082.6,1106.6L1094.2,1106.6L1088.4,1096.8Z" fill="#0aa0f0"/>
<path d="M1084.6,1141.8L1096.2,1141.8L1090.4,1132.0Z" fill="#0aa0f0"/>
<path d="M1086.0,1220.3L1097.6,1220.3L1091.8,1210.5Z" fill="#0aa0f0"/>
<path d="M1082.6,1224.4L1094.2,1224.4L1088.4,1214.6Z" fill="#0aa0f0"/>
<path d="M1074.9,1244.5L1086.5,1244.5L1080.7,1234.7Z" fill="#0aa0f0"/>
<path d="M1086.4,1242.5L1098.0,1242.5L1092.2,1232.7Z" fill="#0aa0f0"/>
<path d="M1094.7,1248.5L1106.3,1248.5L1100.5,1238.7Z" fill="#0aa0f0"/>
<path d="M1083.0,1254.6L1094.6,1254.6L1088.8,1244.8Z" fill="#0aa0f0"/>
<path d="M1079.0,1270.7L1090.6,1270.7L1084.8,1260.9Z" fill="#0aa0f0"/>
<path d="M1090.6,1270.7L1102.2,1270.7L1096.4,1260.9Z" fill="#0aa0f0"/>
<path d="M1270.8,1108.8L1282.4,1108.8L1276.6,1099.0Z" fill="#0aa0f0"/>
<path d="M1266.5,1150.4L1278.1,1150.4L1272.3,1140.6Z" fill="#0aa0f0"/>
<path d="M1266.5,1154.8L1278.1,1154.8L1272.3,1145.0Z" fill="#0aa0f0"/>
<path d="M1270.8,1170.2L1282.4,1170.2L1276.6,1160.4Z" fill="#0aa0f0"/>
<path d="M1266.5,1201.9L1278.1,1201.9L1272.3,1192.1Z" fill="#0aa0f0"/>
<path d="M1270.8,1201.9L1282.4,1201.9L1276.6,1192.1Z" fill="#0aa0f0"/>
<path d="M1266.9,1249.4L1278.5,1249.4L1272.7,1239.6Z" fill="#0aa0f0"/>
<path d="M1274.8,1253.4L1286.4,1253.4L1280.6,1243.6Z" fill="#0aa0f0"/>
<path d="M1278.7,1268.2L1290.3,1268.2L1284.5,1258.4Z" fill="#0aa0f0"/>
<path d="M1270.8,1277.1L1282.4,1277.1L1276.6,1267.3Z" fill="#0aa0f0"/>
<path d="M1258.0,1281.1L1269.6,1281.1L1263.8,1271.3Z" fill="#0aa0f0"/>
<path d="M1263.5,1280.1L1275.1,1280.1L1269.3,1270.3Z" fill="#0aa0f0"/>
<path d="M1452.6,1217.7L1464.2,1217.7L1458.4,1207.9Z" fill="#0aa0f0"/>
<path d="M1452.6,1246.4L1464.2,1246.4L1458.4,1236.6Z" fill="#0aa0f0"/>
<path d="M1463.9,1262.3L1475.5,1262.3L1469.7,1252.5Z" fill="#0aa0f0"/>
<path d="M1445.1,1272.2L1456.7,1272.2L1450.9,1262.4Z" fill="#0aa0f0"/>
<path d="M1452.0,1273.2L1463.6,1273.2L1457.8,1263.4Z" fill="#0aa0f0"/>
<path d="M1457.9,1276.1L1469.5,1276.1L1463.7,1266.3Z" fill="#0aa0f0"/>
<path d="M1442.1,1279.1L1453.7,1279.1L1447.9,1269.3Z" fill="#0aa0f0"/>
<path d="M1448.0,1280.1L1459.6,1280.1L1453.8,1270.3Z" fill="#0aa0f0"/>
<path d="M1455.9,1281.1L1467.5,1281.1L1461.7,1271.3Z" fill="#0aa0f0"/>
<path d="M1462.9,1281.1L1474.5,1281.1L1468.7,1271.3Z" fill="#0aa0f0"/>
<path d="M1121.5,854.5L1132.5,854.5L1127.0,864.3Z" fill="#d23cf2"/>
<path d="M1121.5,929.5L1132.5,929.5L1127.0,939.3Z" fill="#d23cf2"/>
<path d="M1121.5,1015.2L1132.5,1015.2L1127.0,1025.0Z" fill="#d23cf2"/>
<path d="M1113.5,1188.4L1124.5,1188.4L1119.0,1198.2Z" fill="#d23cf2"/>
<path d="M1121.5,1184.3L1132.5,1184.3L1127.0,1194.1Z" fill="#d23cf2"/>
<path d="M1129.5,1179.3L1140.6,1179.3L1135.1,1189.1Z" fill="#d23cf2"/>
<path d="M1113.5,1210.5L1124.5,1210.5L1119.0,1220.3Z" fill="#d23cf2"/>
<path d="M1129.5,1213.9L1140.6,1213.9L1135.1,1223.7Z" fill="#d23cf2"/>
<path d="M1121.5,1218.6L1132.5,1218.6L1127.0,1228.4Z" fill="#d23cf2"/>
<path d="M1121.5,1240.7L1132.5,1240.7L1127.0,1250.5Z" fill="#d23cf2"/>
<path d="M1113.5,1255.8L1124.5,1255.8L1119.0,1265.6Z" fill="#d23cf2"/>
<path d="M1129.5,1259.8L1140.6,1259.8L1135.1,1269.6Z" fill="#d23cf2"/>
<path d="M1305.8,1136.7L1316.8,1136.7L1311.3,1146.5Z" fill="#d23cf2"/>
<path d="M1303.4,1154.5L1314.5,1154.5L1308.9,1164.3Z" fill="#d23cf2"/>
<path d="M1307.8,1187.7L1318.8,1187.7L1313.3,1197.5Z" fill="#d23cf2"/>
<path d="M1301.4,1200.0L1312.5,1200.0L1306.9,1209.8Z" fill="#d23cf2"/>
<path d="M1309.7,1209.9L1320.8,1209.9L1315.2,1219.7Z" fill="#d23cf2"/>
<path d="M1305.8,1213.9L1316.8,1213.9L1311.3,1223.7Z" fill="#d23cf2"/>
<path d="M1311.2,1236.6L1322.3,1236.6L1316.8,1246.4Z" fill="#d23cf2"/>
<path d="M1299.8,1243.6L1310.8,1243.6L1305.3,1253.4Z" fill="#d23cf2"/>
<path d="M1307.8,1251.5L1318.8,1251.5L1313.3,1261.3Z" fill="#d23cf2"/>
<path d="M1302.8,1249.5L1313.8,1249.5L1308.3,1259.3Z" fill="#d23cf2"/>
<path d="M1295.9,1262.4L1307.0,1262.4L1301.4,1272.2Z" fill="#d23cf2"/>
<path d="M1315.2,1273.3L1326.3,1273.3L1320.8,1283.1Z" fill="#d23cf2"/>
<path d="M1489.9,1071.3L1501.0,1071.3L1495.4,1081.1Z" fill="#d23cf2"/>
<path d="M1489.9,1161.4L1501.0,1161.4L1495.4,1171.2Z" fill="#d23cf2"/>
<path d="M1489.9,1185.2L1501.0,1185.2L1495.4,1195.0Z" fill="#d23cf2"/>
<path d="M1496.8,1200.0L1507.8,1200.0L1502.3,1209.8Z" fill="#d23cf2"/>
<path d="M1484.0,1205.0L1495.0,1205.0L1489.5,1214.8Z" fill="#d23cf2"/>
<path d="M1489.9,1206.0L1501.0,1206.0L1495.4,1215.8Z" fill="#d23cf2"/>
<path d="M1480.0,1209.9L1491.0,1209.9L1485.5,1219.7Z" fill="#d23cf2"/>
<path d="M1489.9,1213.9L1501.0,1213.9L1495.4,1223.7Z" fill="#d23cf2"/>
<path d="M1493.9,1220.8L1505.0,1220.8L1499.4,1230.6Z" fill="#d23cf2"/>
<path d="M1489.9,1251.5L1501.0,1251.5L1495.4,1261.3Z" fill="#d23cf2"/>
<path d="M1010.6,1226.5H1022.4M1016.5,1226.5V1244.6M1010.6,1244.6H1022.4" stroke="#111" stroke-width="1.3" fill="none"/>
<path d="M1047.5,1251.7H1059.1M1053.3,1251.7V1263.3M1047.5,1263.3H1059.1" stroke="#111" stroke-width="1.3" fill="none"/>
<path d="M1084.5,1163.5H1096.1M1090.3,1163.5V1214.4M1084.5,1214.4H1096.1" stroke="#111" stroke-width="1.3" fill="none"/>
<path d="M1121.2,1109.7H1132.9M1127.1,1109.7V1188.2M1121.2,1188.2H1132.9" stroke="#111" stroke-width="1.3" fill="none"/>
<path d="M1195.2,1153.0H1206.8M1201.0,1153.0V1189.2M1195.2,1189.2H1206.8" stroke="#111" stroke-width="1.3" fill="none"/>
<path d="M1232.2,1241.2H1243.8M1238.0,1241.2V1256.1M1232.2,1256.1H1243.8" stroke="#111" stroke-width="1.3" fill="none"/>
<path d="M1268.7,1196.4H1280.3M1274.5,1196.4V1230.6M1268.7,1230.6H1280.3" stroke="#111" stroke-width="1.3" fill="none"/>
<path d="M1305.2,1209.5H1316.8M1311.0,1209.5V1234.2M1305.2,1234.2H1316.8" stroke="#111" stroke-width="1.3" fill="none"/>
<path d="M1379.2,1238.2H1390.8M1385.0,1238.2V1253.4M1379.2,1253.4H1390.8" stroke="#111" stroke-width="1.3" fill="none"/>
<path d="M1415.9,1227.3H1427.5M1421.7,1227.3V1261.3M1415.9,1261.3H1427.5" stroke="#111" stroke-width="1.3" fill="none"/>
<path d="M1452.6,1261.7H1464.2M1458.4,1261.7V1272.4M1452.6,1272.4H1464.2" stroke="#111" stroke-width="1.3" fill="none"/>
<path d="M1489.6,1185.5H1501.2M1495.4,1185.5V1210.3M1489.6,1210.3H1501.2" stroke="#111" stroke-width="1.3" fill="none"/>
<rect x="979.8" y="841" width="551.6000000000001" height="459.4000000000001" fill="none" stroke="#5a5a5a" stroke-width="1.5"/>
<path d="M972.3,1277.9H979.8" stroke="#5a5a5a" stroke-width="1.5"/>
<text x="948.35" y="1288.90" font-size="33.3">0</text>
<path d="M972.3,1212.7H979.8" stroke="#5a5a5a" stroke-width="1.5"/>
<text x="948.18" y="1223.70" font-size="33.3">3</text>
<path d="M972.3,1147.1H979.8" stroke="#5a5a5a" stroke-width="1.5"/>
<text x="948.18" y="1158.10" font-size="33.3">6</text>
<path d="M972.3,1081.4H979.8" stroke="#5a5a5a" stroke-width="1.5"/>
<text x="948.18" y="1092.40" font-size="33.3">9</text>
<path d="M972.3,1015.6H979.8" stroke="#5a5a5a" stroke-width="1.5"/>
<text x="929.79" y="1026.60" font-size="33.3">12</text>
<path d="M972.3,949.6H979.8" stroke="#5a5a5a" stroke-width="1.5"/>
<text x="929.45" y="960.60" font-size="33.3">15</text>
<path d="M972.3,883.8H979.8" stroke="#5a5a5a" stroke-width="1.5"/>
<text x="929.54" y="894.75" font-size="33.3">18</text>
<path d="M1071.6,1300.4V1308.4" stroke="#5a5a5a" stroke-width="1.5"/>
<path d="M1255.6,1300.4V1308.4" stroke="#5a5a5a" stroke-width="1.5"/>
<path d="M1439.2,1300.4V1308.4" stroke="#5a5a5a" stroke-width="1.5"/>
<text x="1028.72" y="1339.20" font-size="33.50" fill="#000">day 3</text>
<text x="1212.85" y="1339.20" font-size="33.50" fill="#000">day 7</text>
<text x="1386.68" y="1339.20" font-size="33.50" fill="#000">day 14</text>
<rect x="1367.8" y="851.8" width="153.5" height="127.20000000000005" fill="#fff" stroke="#bdbdbd" stroke-width="1.1"/>
<rect x="1394.0" y="864.6" width="8.3" height="8.3" fill="#7b7b7b"/>
<text x="1431.63" y="876.4" font-size="24.2">Control</text>
<circle cx="1398.2" cy="899.3" r="4.7" fill="#f56c6c"/>
<text x="1431.63" y="907.3" font-size="24.2">d-SMG</text>
<path d="M1392.4,933.5L1404.0,933.5L1398.2,923.7Z" fill="#0aa0f0"/>
<text x="1431.63" y="937.6" font-size="24.2">s-GAG</text>
<path d="M1392.7,960.1L1403.8,960.1L1398.2,969.9Z" fill="#d23cf2"/>
<text x="1431.63" y="971.3" font-size="24.2">Alg<tspan font-size="16.9" dy="-11.1">TM</tspan></text>
<text x="984.15" y="1132.90" font-size="20.07"><tspan font-style="italic">P</tspan> = 0.0584</text>
<path d="M1012.3,1147.6V1141.5H1050.5V1147.6" fill="none" stroke="#444" stroke-width="1.3"/>
<text x="1001.35" y="946.90" font-size="20.20"><tspan font-style="italic">P</tspan> = 0.0998</text>
<path d="M1013.3,962.4V956.3H1088.2V962.4" fill="none" stroke="#444" stroke-width="1.3"/>
<text x="1027.44" y="887.00" font-size="20.33"><tspan font-style="italic">P</tspan> = 0.0412</text>
<path d="M1013.3,902.7V896.6H1132.4V902.7" fill="none" stroke="#444" stroke-width="1.3"/>
<text x="1204.25" y="887.80" font-size="20.24"><tspan font-style="italic">P</tspan> = 0.0300</text>
<path d="M1195.5,901.0V894.9H1312.6V901.0" fill="none" stroke="#444" stroke-width="1.3"/>
<text x="1180.94" y="943.00" font-size="20.33"><tspan font-style="italic">P</tspan> = 0.1052</text>
<path d="M1195.5,956.7V950.6H1270.5V956.7" fill="none" stroke="#444" stroke-width="1.3"/>
<text x="1169.84" y="992.70" font-size="20.36"><tspan font-style="italic">P</tspan> = 0.0007</text>
<path d="M1198.5,1008.9V1002.8H1237.6V1008.9" fill="none" stroke="#444" stroke-width="1.3"/>
<text x="1385.75" y="1031.70" font-size="20.24"><tspan font-style="italic">P</tspan> = 0.0036</text>
<path d="M1379.6,1043.6V1037.6H1493.4V1043.6" fill="none" stroke="#444" stroke-width="1.3"/>
<text x="1370.35" y="1099.00" font-size="20.19"><tspan font-style="italic">P</tspan> = 0.0407</text>
<path d="M1379.6,1110.3V1104.3H1461.3V1110.3" fill="none" stroke="#444" stroke-width="1.3"/>
<text x="1350.55" y="1163.90" font-size="20.25"><tspan font-style="italic">P</tspan> = 0.9315</text>
<path d="M1381.8,1178.2V1172.2H1419.2V1178.2" fill="none" stroke="#444" stroke-width="1.3"/>
<text transform="translate(882.00,1256.66) rotate(-90)" font-size="35.01" fill="#000">Relative Coverage</text>
<text transform="translate(924.20,1231.74) rotate(-90)" font-size="33.77" fill="#000">Area of CD86 (%)</text>
<text x="836.80" y="841.10" font-size="50.00" fill="#000" >c</text>
<rect x="244.1" y="1573.0" width="26.1" height="197.4" fill="#7b7b7b"/>
<rect x="270.0" y="1704.0" width="26.1" height="66.4" fill="#fd8a8a"/>
<rect x="295.9" y="1758.0" width="26.1" height="12.4" fill="#a8dcfa"/>
<rect x="321.8" y="1749.7" width="26.1" height="20.7" fill="#d3a6f7"/>
<rect x="373.8" y="1595.9" width="26.1" height="174.5" fill="#7b7b7b"/>
<rect x="399.7" y="1739.9" width="26.1" height="30.5" fill="#fd8a8a"/>
<rect x="425.6" y="1768.0" width="26.1" height="2.4" fill="#a8dcfa"/>
<rect x="451.5" y="1770.0" width="26.1" height="0.4" fill="#d3a6f7"/>
<rect x="503.5" y="1752.7" width="26.1" height="17.7" fill="#7b7b7b"/>
<rect x="529.4" y="1756.8" width="26.1" height="13.6" fill="#fd8a8a"/>
<rect x="555.3" y="1760.4" width="26.1" height="10.0" fill="#a8dcfa"/>
<rect x="581.2" y="1765.0" width="26.1" height="5.4" fill="#d3a6f7"/>
<rect x="633.2" y="1750.1" width="26.1" height="20.3" fill="#7b7b7b"/>
<rect x="659.1" y="1765.2" width="26.1" height="5.2" fill="#fd8a8a"/>
<rect x="685.0" y="1766.0" width="26.1" height="4.4" fill="#a8dcfa"/>
<rect x="710.9" y="1768.0" width="26.1" height="2.4" fill="#d3a6f7"/>
<rect x="762.9" y="1708.8" width="26.1" height="61.6" fill="#7b7b7b"/>
<rect x="788.8" y="1759.7" width="26.1" height="10.7" fill="#fd8a8a"/>
<rect x="814.7" y="1763.1" width="26.1" height="7.3" fill="#a8dcfa"/>
<rect x="840.6" y="1767.2" width="26.1" height="3.2" fill="#d3a6f7"/>
<rect x="892.6" y="1722.3" width="26.1" height="48.1" fill="#7b7b7b"/>
<rect x="918.5" y="1762.5" width="26.1" height="7.9" fill="#fd8a8a"/>
<rect x="944.4" y="1768.0" width="26.1" height="2.4" fill="#a8dcfa"/>
<rect x="970.3" y="1768.8" width="26.1" height="1.6" fill="#d3a6f7"/>
<rect x="1022.3" y="1650.3" width="26.1" height="120.1" fill="#7b7b7b"/>
<rect x="1048.2" y="1730.0" width="26.1" height="40.4" fill="#fd8a8a"/>
<rect x="1074.1" y="1758.9" width="26.1" height="11.5" fill="#a8dcfa"/>
<rect x="1100.0" y="1756.1" width="26.1" height="14.3" fill="#d3a6f7"/>
<rect x="1152.0" y="1707.5" width="26.1" height="62.9" fill="#7b7b7b"/>
<rect x="1177.9" y="1758.2" width="26.1" height="12.2" fill="#fd8a8a"/>
<rect x="1203.8" y="1767.8" width="26.1" height="2.6" fill="#a8dcfa"/>
<rect x="1229.7" y="1767.4" width="26.1" height="3.0" fill="#d3a6f7"/>
<rect x="1281.7" y="1646.2" width="26.1" height="124.2" fill="#7b7b7b"/>
<rect x="1307.6" y="1749.0" width="26.1" height="21.4" fill="#fd8a8a"/>
<rect x="1333.5" y="1759.1" width="26.1" height="11.3" fill="#a8dcfa"/>
<rect x="1359.4" y="1756.1" width="26.1" height="14.3" fill="#d3a6f7"/>
<rect x="1411.4" y="1683.5" width="26.1" height="86.9" fill="#7b7b7b"/>
<rect x="1437.3" y="1755.2" width="26.1" height="15.2" fill="#fd8a8a"/>
<rect x="1463.2" y="1768.5" width="26.1" height="1.9" fill="#a8dcfa"/>
<rect x="1489.1" y="1770.0" width="26.1" height="0.4" fill="#d3a6f7"/>
<path d="M198.5,1770.4H1534.2" stroke="#222" stroke-width="1.4"/>
<circle cx="256.5" cy="1402.9" r="3.3" fill="#3c3c3c"/>
<circle cx="256.5" cy="1612.8" r="3.3" fill="#3c3c3c"/>
<circle cx="256.5" cy="1701.8" r="3.3" fill="#3c3c3c"/>
<circle cx="283.0" cy="1672.2" r="3.3" fill="#3c3c3c"/>
<circle cx="277.7" cy="1705.8" r="3.3" fill="#3c3c3c"/>
<circle cx="288.2" cy="1734.0" r="3.3" fill="#3c3c3c"/>
<circle cx="302.1" cy="1746.3" r="3.3" fill="#3c3c3c"/>
<circle cx="309.1" cy="1756.2" r="3.3" fill="#3c3c3c"/>
<circle cx="315.8" cy="1770.5" r="3.3" fill="#3c3c3c"/>
<circle cx="328.0" cy="1750.1" r="3.3" fill="#3c3c3c"/>
<circle cx="334.9" cy="1756.2" r="3.3" fill="#3c3c3c"/>
<circle cx="341.9" cy="1743.1" r="3.3" fill="#3c3c3c"/>
<path d="M253.1,1484.2H261.1M257.1,1484.2V1661.1M253.1,1661.1H261.1" stroke="#222" stroke-width="1.1" fill="none"/>
<path d="M278.9,1686.3H286.9M282.9,1686.3V1721.5M278.9,1721.5H286.9" stroke="#222" stroke-width="1.1" fill="none"/>
<path d="M304.8,1750.5H312.8M308.8,1750.5V1764.8M304.8,1764.8H312.8" stroke="#222" stroke-width="1.1" fill="none"/>
<path d="M330.7,1745.7H338.7M334.7,1745.7V1753.3M330.7,1753.3H338.7" stroke="#222" stroke-width="1.1" fill="none"/>
<circle cx="386.5" cy="1409.9" r="3.3" fill="#3c3c3c"/>
<circle cx="386.6" cy="1651.5" r="3.3" fill="#3c3c3c"/>
<circle cx="386.6" cy="1726.0" r="3.3" fill="#3c3c3c"/>
<circle cx="419.2" cy="1716.1" r="3.3" fill="#3c3c3c"/>
<circle cx="412.2" cy="1737.8" r="3.3" fill="#3c3c3c"/>
<circle cx="405.6" cy="1765.4" r="3.3" fill="#3c3c3c"/>
<circle cx="431.3" cy="1770.5" r="3.3" fill="#3c3c3c"/>
<circle cx="438.4" cy="1762.2" r="3.3" fill="#3c3c3c"/>
<circle cx="445.0" cy="1770.5" r="3.3" fill="#3c3c3c"/>
<circle cx="457.1" cy="1770.5" r="3.3" fill="#3c3c3c"/>
<circle cx="464.1" cy="1770.5" r="3.3" fill="#3c3c3c"/>
<circle cx="471.0" cy="1770.5" r="3.3" fill="#3c3c3c"/>
<path d="M382.7,1500.5H390.7M386.7,1500.5V1691.0M382.7,1691.0H390.7" stroke="#222" stroke-width="1.1" fill="none"/>
<path d="M408.6,1725.6H416.6M412.6,1725.6V1754.2M408.6,1754.2H416.6" stroke="#222" stroke-width="1.1" fill="none"/>
<path d="M434.5,1764.8H442.5M438.5,1764.8V1769.5M434.5,1769.5H442.5" stroke="#222" stroke-width="1.1" fill="none"/>
<circle cx="509.5" cy="1737.8" r="3.3" fill="#3c3c3c"/>
<circle cx="516.6" cy="1764.2" r="3.3" fill="#3c3c3c"/>
<circle cx="523.6" cy="1756.2" r="3.3" fill="#3c3c3c"/>
<circle cx="535.7" cy="1762.8" r="3.3" fill="#3c3c3c"/>
<circle cx="542.7" cy="1761.8" r="3.3" fill="#3c3c3c"/>
<circle cx="549.4" cy="1745.5" r="3.3" fill="#3c3c3c"/>
<circle cx="561.3" cy="1762.4" r="3.3" fill="#3c3c3c"/>
<circle cx="568.1" cy="1762.4" r="3.3" fill="#3c3c3c"/>
<circle cx="575.4" cy="1756.4" r="3.3" fill="#3c3c3c"/>
<circle cx="587.2" cy="1765.8" r="3.3" fill="#3c3c3c"/>
<circle cx="594.1" cy="1764.2" r="3.3" fill="#3c3c3c"/>
<circle cx="601.1" cy="1765.2" r="3.3" fill="#3c3c3c"/>
<path d="M512.5,1744.9H520.5M516.5,1744.9V1760.4M512.5,1760.4H520.5" stroke="#222" stroke-width="1.1" fill="none"/>
<path d="M538.4,1751.3H546.4M542.4,1751.3V1762.8M538.4,1762.8H546.4" stroke="#222" stroke-width="1.1" fill="none"/>
<path d="M564.2,1758.4H572.2M568.2,1758.4V1762.4M564.2,1762.4H572.2" stroke="#222" stroke-width="1.1" fill="none"/>
<circle cx="639.2" cy="1733.2" r="3.3" fill="#3c3c3c"/>
<circle cx="646.2" cy="1762.2" r="3.3" fill="#3c3c3c"/>
<circle cx="653.3" cy="1755.6" r="3.3" fill="#3c3c3c"/>
<circle cx="665.2" cy="1767.2" r="3.3" fill="#3c3c3c"/>
<circle cx="672.2" cy="1760.8" r="3.3" fill="#3c3c3c"/>
<circle cx="678.8" cy="1767.2" r="3.3" fill="#3c3c3c"/>
<circle cx="691.3" cy="1768.2" r="3.3" fill="#3c3c3c"/>
<circle cx="698.0" cy="1768.2" r="3.3" fill="#3c3c3c"/>
<circle cx="705.0" cy="1761.8" r="3.3" fill="#3c3c3c"/>
<circle cx="717.1" cy="1768.2" r="3.3" fill="#3c3c3c"/>
<circle cx="723.9" cy="1768.6" r="3.3" fill="#3c3c3c"/>
<circle cx="730.8" cy="1767.2" r="3.3" fill="#3c3c3c"/>
<path d="M642.1,1741.3H650.1M646.1,1741.3V1759.4M642.1,1759.4H650.1" stroke="#222" stroke-width="1.1" fill="none"/>
<path d="M668.0,1763.8H676.0M672.0,1763.8V1767.2M668.0,1767.2H676.0" stroke="#222" stroke-width="1.1" fill="none"/>
<path d="M693.9,1764.4H701.9M697.9,1764.4V1767.6M693.9,1767.6H701.9" stroke="#222" stroke-width="1.1" fill="none"/>
<circle cx="775.6" cy="1637.3" r="3.3" fill="#3c3c3c"/>
<circle cx="770.3" cy="1728.3" r="3.3" fill="#3c3c3c"/>
<circle cx="780.6" cy="1759.9" r="3.3" fill="#3c3c3c"/>
<circle cx="794.7" cy="1765.0" r="3.3" fill="#3c3c3c"/>
<circle cx="801.5" cy="1757.7" r="3.3" fill="#3c3c3c"/>
<circle cx="808.4" cy="1755.9" r="3.3" fill="#3c3c3c"/>
<circle cx="820.5" cy="1765.8" r="3.3" fill="#3c3c3c"/>
<circle cx="827.5" cy="1766.6" r="3.3" fill="#3c3c3c"/>
<circle cx="834.4" cy="1755.5" r="3.3" fill="#3c3c3c"/>
<circle cx="846.4" cy="1768.0" r="3.3" fill="#3c3c3c"/>
<circle cx="853.3" cy="1767.4" r="3.3" fill="#3c3c3c"/>
<circle cx="860.1" cy="1765.8" r="3.3" fill="#3c3c3c"/>
<path d="M771.9,1672.1H779.9M775.9,1672.1V1745.2M771.9,1745.2H779.9" stroke="#222" stroke-width="1.1" fill="none"/>
<path d="M797.8,1758.9H805.8M801.8,1758.9V1762.1M797.8,1762.1H805.8" stroke="#222" stroke-width="1.1" fill="none"/>
<path d="M823.6,1759.3H831.6M827.6,1759.3V1766.5M823.6,1766.5H831.6" stroke="#222" stroke-width="1.1" fill="none"/>
<circle cx="905.2" cy="1671.5" r="3.3" fill="#3c3c3c"/>
<circle cx="900.2" cy="1736.4" r="3.3" fill="#3c3c3c"/>
<circle cx="910.5" cy="1757.7" r="3.3" fill="#3c3c3c"/>
<circle cx="924.6" cy="1767.6" r="3.3" fill="#3c3c3c"/>
<circle cx="931.4" cy="1760.3" r="3.3" fill="#3c3c3c"/>
<circle cx="938.2" cy="1759.3" r="3.3" fill="#3c3c3c"/>
<circle cx="950.3" cy="1765.4" r="3.3" fill="#3c3c3c"/>
<circle cx="957.4" cy="1767.6" r="3.3" fill="#3c3c3c"/>
<circle cx="964.2" cy="1770.0" r="3.3" fill="#3c3c3c"/>
<circle cx="976.3" cy="1768.4" r="3.3" fill="#3c3c3c"/>
<circle cx="983.1" cy="1769.4" r="3.3" fill="#3c3c3c"/>
<circle cx="990.0" cy="1767.6" r="3.3" fill="#3c3c3c"/>
<path d="M901.6,1696.1H909.6M905.6,1696.1V1747.4M901.6,1747.4H909.6" stroke="#222" stroke-width="1.1" fill="none"/>
<path d="M927.5,1761.0H935.5M931.5,1761.0V1765.0M927.5,1765.0H935.5" stroke="#222" stroke-width="1.1" fill="none"/>
<circle cx="1035.0" cy="1560.7" r="3.3" fill="#3c3c3c"/>
<circle cx="1035.0" cy="1666.3" r="3.3" fill="#3c3c3c"/>
<circle cx="1035.0" cy="1722.9" r="3.3" fill="#3c3c3c"/>
<circle cx="1054.0" cy="1751.1" r="3.3" fill="#3c3c3c"/>
<circle cx="1060.7" cy="1722.3" r="3.3" fill="#3c3c3c"/>
<circle cx="1067.9" cy="1715.7" r="3.3" fill="#3c3c3c"/>
<circle cx="1079.9" cy="1752.7" r="3.3" fill="#3c3c3c"/>
<circle cx="1086.9" cy="1752.7" r="3.3" fill="#3c3c3c"/>
<circle cx="1093.8" cy="1770.4" r="3.3" fill="#3c3c3c"/>
<circle cx="1105.8" cy="1752.4" r="3.3" fill="#3c3c3c"/>
<circle cx="1112.8" cy="1758.0" r="3.3" fill="#3c3c3c"/>
<circle cx="1119.8" cy="1758.0" r="3.3" fill="#3c3c3c"/>
<path d="M1031.2,1602.4H1039.2M1035.2,1602.4V1697.3M1031.2,1697.3H1039.2" stroke="#222" stroke-width="1.1" fill="none"/>
<path d="M1057.2,1718.9H1065.2M1061.2,1718.9V1740.5M1057.2,1740.5H1065.2" stroke="#222" stroke-width="1.1" fill="none"/>
<path d="M1083.0,1754.2H1091.0M1087.0,1754.2V1764.4M1083.0,1764.4H1091.0" stroke="#222" stroke-width="1.1" fill="none"/>
<path d="M1109.0,1754.2H1117.0M1113.0,1754.2V1759.0M1109.0,1759.0H1117.0" stroke="#222" stroke-width="1.1" fill="none"/>
<circle cx="1164.7" cy="1644.5" r="3.3" fill="#3c3c3c"/>
<circle cx="1159.4" cy="1725.1" r="3.3" fill="#3c3c3c"/>
<circle cx="1169.9" cy="1752.0" r="3.3" fill="#3c3c3c"/>
<circle cx="1183.8" cy="1765.0" r="3.3" fill="#3c3c3c"/>
<circle cx="1190.4" cy="1752.4" r="3.3" fill="#3c3c3c"/>
<circle cx="1197.6" cy="1756.5" r="3.3" fill="#3c3c3c"/>
<circle cx="1209.8" cy="1766.1" r="3.3" fill="#3c3c3c"/>
<circle cx="1216.7" cy="1765.5" r="3.3" fill="#3c3c3c"/>
<circle cx="1223.3" cy="1770.0" r="3.3" fill="#3c3c3c"/>
<circle cx="1235.5" cy="1767.4" r="3.3" fill="#3c3c3c"/>
<circle cx="1242.5" cy="1767.0" r="3.3" fill="#3c3c3c"/>
<circle cx="1249.2" cy="1766.5" r="3.3" fill="#3c3c3c"/>
<path d="M1160.9,1675.3H1168.9M1164.9,1675.3V1739.4M1160.9,1739.4H1168.9" stroke="#222" stroke-width="1.1" fill="none"/>
<path d="M1186.8,1755.2H1194.8M1190.8,1755.2V1762.1M1186.8,1762.1H1194.8" stroke="#222" stroke-width="1.1" fill="none"/>
<circle cx="1294.4" cy="1528.8" r="3.3" fill="#3c3c3c"/>
<circle cx="1294.4" cy="1673.9" r="3.3" fill="#3c3c3c"/>
<circle cx="1294.4" cy="1735.6" r="3.3" fill="#3c3c3c"/>
<circle cx="1313.2" cy="1757.0" r="3.3" fill="#3c3c3c"/>
<circle cx="1320.3" cy="1741.5" r="3.3" fill="#3c3c3c"/>
<circle cx="1327.3" cy="1747.7" r="3.3" fill="#3c3c3c"/>
<circle cx="1339.4" cy="1757.0" r="3.3" fill="#3c3c3c"/>
<circle cx="1346.1" cy="1758.2" r="3.3" fill="#3c3c3c"/>
<circle cx="1353.0" cy="1761.4" r="3.3" fill="#3c3c3c"/>
<circle cx="1365.1" cy="1754.0" r="3.3" fill="#3c3c3c"/>
<circle cx="1371.9" cy="1760.2" r="3.3" fill="#3c3c3c"/>
<circle cx="1379.0" cy="1754.3" r="3.3" fill="#3c3c3c"/>
<path d="M1290.6,1584.8H1298.6M1294.6,1584.8V1707.5M1290.6,1707.5H1298.6" stroke="#222" stroke-width="1.1" fill="none"/>
<path d="M1316.5,1744.5H1324.5M1320.5,1744.5V1753.4M1316.5,1753.4H1324.5" stroke="#222" stroke-width="1.1" fill="none"/>
<path d="M1368.3,1754.0H1376.3M1372.3,1754.0V1757.9M1368.3,1757.9H1376.3" stroke="#222" stroke-width="1.1" fill="none"/>
<circle cx="1424.0" cy="1587.1" r="3.3" fill="#3c3c3c"/>
<circle cx="1418.9" cy="1711.1" r="3.3" fill="#3c3c3c"/>
<circle cx="1429.2" cy="1751.6" r="3.3" fill="#3c3c3c"/>
<circle cx="1442.9" cy="1763.7" r="3.3" fill="#3c3c3c"/>
<circle cx="1450.0" cy="1751.6" r="3.3" fill="#3c3c3c"/>
<circle cx="1456.7" cy="1749.5" r="3.3" fill="#3c3c3c"/>
<circle cx="1468.8" cy="1766.4" r="3.3" fill="#3c3c3c"/>
<circle cx="1476.0" cy="1770.3" r="3.3" fill="#3c3c3c"/>
<circle cx="1482.5" cy="1770.3" r="3.3" fill="#3c3c3c"/>
<circle cx="1495.0" cy="1770.3" r="3.3" fill="#3c3c3c"/>
<circle cx="1501.5" cy="1770.3" r="3.3" fill="#3c3c3c"/>
<circle cx="1508.7" cy="1770.3" r="3.3" fill="#3c3c3c"/>
<path d="M1420.3,1634.3H1428.3M1424.3,1634.3V1733.0M1420.3,1733.0H1428.3" stroke="#222" stroke-width="1.1" fill="none"/>
<path d="M1446.2,1751.6H1454.2M1450.2,1751.6V1759.3M1446.2,1759.3H1454.2" stroke="#222" stroke-width="1.1" fill="none"/>
<path d="M205.5,1780V1392.3H1534.2V1780" fill="none" stroke="#333" stroke-width="1.3"/>
<path d="M205.5,1780H1534.2" stroke="#8a8a8a" stroke-width="2"/>
<path d="M198.5,1770.4H205.5" stroke="#555" stroke-width="1.3"/>
<text x="178.94" y="1779.00" font-size="27.5">0</text>
<path d="M198.5,1675.9H205.5" stroke="#555" stroke-width="1.3"/>
<text x="148.34" y="1684.50" font-size="27.5">200</text>
<path d="M198.5,1581.4H205.5" stroke="#555" stroke-width="1.3"/>
<text x="148.34" y="1590.00" font-size="27.5">400</text>
<path d="M198.5,1486.9H205.5" stroke="#555" stroke-width="1.3"/>
<text x="148.34" y="1495.50" font-size="27.5">600</text>
<path d="M198.5,1392.4H205.5" stroke="#555" stroke-width="1.3"/>
<text x="148.34" y="1401.00" font-size="27.5">800</text>
<path d="M295.9,1780V1787" stroke="#555" stroke-width="1.3"/>
<text x="255.69" y="1813.40" font-size="27.80" fill="#000">TNF-α</text>
<path d="M425.6,1780V1787" stroke="#555" stroke-width="1.3"/>
<text x="400.44" y="1813.40" font-size="27.80" fill="#000">IL-6</text>
<path d="M555.3,1780V1787" stroke="#555" stroke-width="1.3"/>
<text x="521.63" y="1813.40" font-size="27.80" fill="#000">IL-1β</text>
<path d="M685.0,1780V1787" stroke="#555" stroke-width="1.3"/>
<text x="630.13" y="1813.40" font-size="27.80" fill="#000">GM-CSF</text>
<path d="M814.7,1780V1787" stroke="#555" stroke-width="1.3"/>
<text x="779.05" y="1813.40" font-size="27.80" fill="#000">IFN-γ</text>
<path d="M944.4,1780V1787" stroke="#555" stroke-width="1.3"/>
<text x="918.82" y="1813.40" font-size="27.80" fill="#000">IL-4</text>
<path d="M1074.1,1780V1787" stroke="#555" stroke-width="1.3"/>
<text x="1048.84" y="1813.40" font-size="27.80" fill="#000">IL-5</text>
<path d="M1203.8,1780V1787" stroke="#555" stroke-width="1.3"/>
<text x="1171.00" y="1813.40" font-size="27.80" fill="#000">IL-10</text>
<path d="M1333.5,1780V1787" stroke="#555" stroke-width="1.3"/>
<text x="1300.66" y="1813.40" font-size="27.80" fill="#000">IL-12</text>
<path d="M1463.2,1780V1787" stroke="#555" stroke-width="1.3"/>
<text x="1430.33" y="1813.40" font-size="27.80" fill="#000">IL-13</text>
<text x="775.46" y="1863.20" font-size="36.90" fill="#000">Cytokine</text>
<rect x="519.4" y="1402.9" width="52.9" height="26" fill="#7b7b7b"/>
<text x="578.84" y="1424.4" font-size="24">Control</text>
<rect x="703.8" y="1402.9" width="52.9" height="26" fill="#fd8a8a"/>
<text x="762.74" y="1424.4" font-size="24">d-SMG</text>
<rect x="887.2" y="1402.9" width="52.9" height="26" fill="#a8dcfa"/>
<text x="945.64" y="1424.4" font-size="24">s-GAG</text>
<rect x="1074.9" y="1402.9" width="52.9" height="26" fill="#d3a6f7"/>
<text x="1134.44" y="1424.4" font-size="24">Alg<tspan font-size="15" dy="-10">TM</tspan></text>
<text transform="translate(78.50,1819.47) rotate(-90)" font-size="36.76" fill="#000">Cytokine levels at day 3</text>
<text transform="translate(126.00,1807.34) rotate(-90)" font-size="37.48" fill="#000">postoperation (pg/mg)</text>
<text x="-0.45" y="1418.00" font-size="55.00" fill="#000" >d</text>
<rect x="992.4" y="2381.1" width="62.0" height="74.1" fill="#7b7b7b" stroke="#505050" stroke-width="1.2"/>
<rect x="1105.3" y="2303.2" width="62.7" height="152.0" fill="#f47a7a"/>
<rect x="1218.8" y="2280.6" width="63.2" height="174.6" fill="#a8ddfb"/>
<rect x="1332.8" y="2376.3" width="62.6" height="78.9" fill="#eaaaf8"/>
<rect x="1446.2" y="2216.4" width="62.7" height="238.8" fill="#f8cbae"/>
<circle cx="1035.7" cy="2330.3" r="4.5" fill="#3c3c3c"/>
<circle cx="1019.2" cy="2343.8" r="4.5" fill="#3c3c3c"/>
<circle cx="1010.7" cy="2366.6" r="4.5" fill="#3c3c3c"/>
<circle cx="1027.2" cy="2370" r="4.5" fill="#3c3c3c"/>
<circle cx="1010.7" cy="2389.7" r="4.5" fill="#3c3c3c"/>
<circle cx="1019.2" cy="2393.3" r="4.5" fill="#3c3c3c"/>
<circle cx="1043.9" cy="2394.4" r="4.5" fill="#3c3c3c"/>
<circle cx="1002.5" cy="2403.8" r="4.5" fill="#3c3c3c"/>
<circle cx="1027.2" cy="2409.9" r="4.5" fill="#3c3c3c"/>
<circle cx="1035.7" cy="2408.4" r="4.5" fill="#3c3c3c"/>
<circle cx="1136.4" cy="2185.8" r="4.5" fill="#3c3c3c"/>
<circle cx="1132.5" cy="2256.4" r="4.5" fill="#3c3c3c"/>
<circle cx="1115.7" cy="2305.2" r="4.5" fill="#3c3c3c"/>
<circle cx="1149.2" cy="2304.2" r="4.5" fill="#3c3c3c"/>
<circle cx="1157.6" cy="2307.2" r="4.5" fill="#3c3c3c"/>
<circle cx="1124.1" cy="2316.6" r="4.5" fill="#3c3c3c"/>
<circle cx="1140.4" cy="2314.1" r="4.5" fill="#3c3c3c"/>
<circle cx="1128" cy="2321.5" r="4.5" fill="#3c3c3c"/>
<circle cx="1136.4" cy="2348.6" r="4.5" fill="#3c3c3c"/>
<circle cx="1145.3" cy="2373.3" r="4.5" fill="#3c3c3c"/>
<circle cx="1254.8" cy="2194.7" r="4.5" fill="#3c3c3c"/>
<circle cx="1245.9" cy="2236.2" r="4.5" fill="#3c3c3c"/>
<circle cx="1245.9" cy="2254.9" r="4.5" fill="#3c3c3c"/>
<circle cx="1254.8" cy="2253.9" r="4.5" fill="#3c3c3c"/>
<circle cx="1237.5" cy="2283.5" r="4.5" fill="#3c3c3c"/>
<circle cx="1262.7" cy="2294.4" r="4.5" fill="#3c3c3c"/>
<circle cx="1229.2" cy="2311.6" r="4.5" fill="#3c3c3c"/>
<circle cx="1271.1" cy="2317.6" r="4.5" fill="#3c3c3c"/>
<circle cx="1245.9" cy="2323" r="4.5" fill="#3c3c3c"/>
<circle cx="1254.8" cy="2330.4" r="4.5" fill="#3c3c3c"/>
<circle cx="1351.5" cy="2344.7" r="4.5" fill="#3c3c3c"/>
<circle cx="1384.5" cy="2342.2" r="4.5" fill="#3c3c3c"/>
<circle cx="1376.2" cy="2355" r="4.5" fill="#3c3c3c"/>
<circle cx="1368.3" cy="2361.5" r="4.5" fill="#3c3c3c"/>
<circle cx="1343.1" cy="2369.8" r="4.5" fill="#3c3c3c"/>
<circle cx="1359.9" cy="2367.4" r="4.5" fill="#3c3c3c"/>
<circle cx="1359.9" cy="2399.4" r="4.5" fill="#3c3c3c"/>
<circle cx="1376.2" cy="2399.4" r="4.5" fill="#3c3c3c"/>
<circle cx="1351.5" cy="2408.8" r="4.5" fill="#3c3c3c"/>
<circle cx="1368.3" cy="2416.2" r="4.5" fill="#3c3c3c"/>
<circle cx="1477.3" cy="1994.9" r="4.5" fill="#3c3c3c"/>
<circle cx="1480.7" cy="2078.3" r="4.5" fill="#3c3c3c"/>
<circle cx="1473.8" cy="2101" r="4.5" fill="#3c3c3c"/>
<circle cx="1456.1" cy="2257.9" r="4.5" fill="#3c3c3c"/>
<circle cx="1484.7" cy="2272.2" r="4.5" fill="#3c3c3c"/>
<circle cx="1498.5" cy="2272.2" r="4.5" fill="#3c3c3c"/>
<circle cx="1463.5" cy="2290.4" r="4.5" fill="#3c3c3c"/>
<circle cx="1491.6" cy="2284.5" r="4.5" fill="#3c3c3c"/>
<circle cx="1470.4" cy="2297.3" r="4.5" fill="#3c3c3c"/>
<circle cx="1477.3" cy="2317.6" r="4.5" fill="#3c3c3c"/>
<path d="M1014.4,2372.2H1032.4M1023.4,2372.2V2389.7M1014.4,2389.7H1032.4" stroke="#333" stroke-width="1.2" fill="none"/>
<path d="M1127.9,2287.5H1145.9M1136.9,2287.5V2319.0M1127.9,2319.0H1145.9" stroke="#333" stroke-width="1.2" fill="none"/>
<path d="M1241.2,2266.2H1259.2M1250.2,2266.2V2294.4M1241.2,2294.4H1259.2" stroke="#333" stroke-width="1.2" fill="none"/>
<path d="M1355.0,2368.4H1373.0M1364.0,2368.4V2385.6M1355.0,2385.6H1373.0" stroke="#333" stroke-width="1.2" fill="none"/>
<path d="M1468.5,2180.4H1486.5M1477.5,2180.4V2252.4M1468.5,2252.4H1486.5" stroke="#333" stroke-width="1.2" fill="none"/>
<rect x="966.4" y="1982.3" width="567.6" height="472.89999999999986" fill="none" stroke="#333" stroke-width="1.2"/>
<path d="M958.4,2455.2H966.4" stroke="#555" stroke-width="1.2"/>
<text x="938.61" y="2463.80" font-size="26">0</text>
<path d="M958.4,2387.6H966.4" stroke="#555" stroke-width="1.2"/>
<text x="938.54" y="2396.24" font-size="26">2</text>
<path d="M958.4,2320.1H966.4" stroke="#555" stroke-width="1.2"/>
<text x="937.70" y="2328.69" font-size="26">4</text>
<path d="M958.4,2252.5H966.4" stroke="#555" stroke-width="1.2"/>
<text x="938.48" y="2261.13" font-size="26">6</text>
<path d="M958.4,2185.0H966.4" stroke="#555" stroke-width="1.2"/>
<text x="938.35" y="2193.57" font-size="26">8</text>
<path d="M958.4,2117.4H966.4" stroke="#555" stroke-width="1.2"/>
<text x="924.18" y="2126.01" font-size="26">10</text>
<path d="M958.4,2049.9H966.4" stroke="#555" stroke-width="1.2"/>
<text x="924.12" y="2058.46" font-size="26">12</text>
<path d="M958.4,1982.3H966.4" stroke="#555" stroke-width="1.2"/>
<text x="923.27" y="1990.90" font-size="26">14</text>
<path d="M1023.4,2455.2V2463.2" stroke="#555" stroke-width="1.2"/>
<path d="M1136.9,2455.2V2463.2" stroke="#555" stroke-width="1.2"/>
<path d="M1250.2,2455.2V2463.2" stroke="#555" stroke-width="1.2"/>
<path d="M1364,2455.2V2463.2" stroke="#555" stroke-width="1.2"/>
<path d="M1477.5,2455.2V2463.2" stroke="#555" stroke-width="1.2"/>
<text x="1029.53" y="2158.70" font-size="21.08"><tspan font-style="italic">P</tspan> = 0.0005</text>
<path d="M1022.7,2172.1V2165.1H1133.0V2172.1" fill="none" stroke="#444" stroke-width="1.2"/>
<text x="1084.24" y="2114.30" font-size="20.48"><tspan font-style="italic">P</tspan> &lt; 0.0001</text>
<path d="M1022.7,2131.5V2124.5H1249.4V2131.5" fill="none" stroke="#444" stroke-width="1.2"/>
<text x="1153.84" y="2073.40" font-size="20.46"><tspan font-style="italic">P</tspan> = 0.7221</text>
<path d="M1022.7,2092.5V2085.5H1365.3V2092.5" fill="none" stroke="#444" stroke-width="1.2"/>
<text x="1201.64" y="2029.50" font-size="20.72"><tspan font-style="italic">P</tspan> = 0.0003</text>
<path d="M1022.7,2045.4V2038.4H1479.3V2045.4" fill="none" stroke="#444" stroke-width="1.2"/>
<text transform="translate(995.9,2500.9) rotate(-28)" font-size="26" x="-45.8" y="9.3">Control</text>
<text transform="translate(1127.4,2502.4) rotate(-28)" font-size="26" x="-41.6" y="9.3">d-SMG</text>
<text transform="translate(1247.5,2502.8) rotate(-28)" font-size="26" x="-40.8" y="8.9">s-GAG</text>
<text transform="translate(1347.7,2500.5) rotate(-28)" font-size="26" x="-33.3" y="8.6">Alg<tspan font-size="16.1" dy="-10.9">TM</tspan></text>
<text transform="translate(1468.6,2503.0) rotate(-28)" font-size="26" x="-23.9" y="8.9">IL-4</text>
<text transform="translate(880.00,2453.82) rotate(-90)" font-size="34.42" fill="#000">Fluorescence intensity of</text>
<text transform="translate(923.40,2360.38) rotate(-90)" font-size="34.49" fill="#000">CD206 per cell</text>
<text x="859.90" y="1964.20" font-size="57.00" fill="#000" >f</text>
<rect x="100.1" y="1990.8" width="133.7" height="134" fill="#000"/>
<rect x="100.1" y="2128.2" width="133.7" height="134" fill="#000"/>
<rect x="100.1" y="2265.6" width="133.7" height="134" fill="#000"/>
<rect x="100.1" y="2403.0" width="133.7" height="134" fill="#000"/>
<g clip-path="url(#ce00)">
<circle cx="129.0" cy="2042.0" r="3.5" fill="url(#gS)"/>
<circle cx="131.8" cy="2049.3" r="3.5" fill="url(#gS)"/>
<circle cx="124.6" cy="2052.2" r="3.5" fill="url(#gS)"/>
<circle cx="129.0" cy="2056.5" r="3.5" fill="url(#gS)"/>
<circle cx="127.5" cy="2063.7" r="3.5" fill="url(#gS)"/>
<circle cx="144.8" cy="2055.0" r="3.5" fill="url(#gS)"/>
<circle cx="150.6" cy="2056.5" r="3.5" fill="url(#gS)"/>
<circle cx="113.1" cy="2068.0" r="3.5" fill="url(#gS)"/>
<circle cx="182.4" cy="2042.0" r="3.5" fill="url(#gS)"/>
<circle cx="186.7" cy="2047.8" r="3.5" fill="url(#gS)"/>
<circle cx="179.5" cy="2044.9" r="3.5" fill="url(#gS)"/>
<circle cx="209.8" cy="2019.0" r="3.5" fill="url(#gS)"/>
<circle cx="217.0" cy="2017.5" r="3.5" fill="url(#gS)"/>
<circle cx="224.2" cy="2019.0" r="3.5" fill="url(#gS)"/>
<circle cx="219.9" cy="2024.7" r="3.5" fill="url(#gS)"/>
<circle cx="227.1" cy="2023.3" r="3.5" fill="url(#gS)"/>
<circle cx="221.3" cy="2029.1" r="3.5" fill="url(#gS)"/>
<circle cx="139.1" cy="2094.0" r="3.5" fill="url(#gS)"/>
<circle cx="144.8" cy="2092.6" r="3.5" fill="url(#gS)"/>
<circle cx="152.0" cy="2095.4" r="3.5" fill="url(#gS)"/>
<circle cx="159.3" cy="2086.8" r="3.5" fill="url(#gS)"/>
<circle cx="176.6" cy="2083.9" r="3.5" fill="url(#gS)"/>
<circle cx="172.3" cy="2088.2" r="3.5" fill="url(#gS)"/>
<circle cx="191.0" cy="2086.8" r="3.5" fill="url(#gS)"/>
<circle cx="195.3" cy="2082.5" r="3.5" fill="url(#gS)"/>
<circle cx="196.8" cy="2076.7" r="3.5" fill="url(#gS)"/>
<circle cx="195.3" cy="2089.7" r="3.5" fill="url(#gS)"/>
</g>
<path d="M116.5,2034H156.1V2073.2H116.5Z" fill="none" stroke="#fff" stroke-width="1.3" stroke-dasharray="2.2,1.4"/>
<path d="M116.5,2073.2L101.6,2123.8M156.1,2073.2L232.3,2123.8" fill="none" stroke="#fff" stroke-width="1.1" stroke-dasharray="2.2,1.4"/>
<g clip-path="url(#ce01)"><g filter="url(#soft2)">
<circle cx="152.9" cy="2161.8" r="16.0" fill="url(#gH)"/>
<circle cx="142.8" cy="2183.5" r="16.0" fill="url(#gH)"/>
<circle cx="125.2" cy="2193.6" r="16.0" fill="url(#gH)"/>
<circle cx="144.8" cy="2208.0" r="16.0" fill="url(#gH)"/>
<circle cx="140.5" cy="2235.4" r="17.6" fill="url(#gH)"/>
<circle cx="197.4" cy="2203.7" r="19.2" fill="url(#gH)"/>
<circle cx="218.4" cy="2210.9" r="18.4" fill="url(#gH)"/>
<circle cx="101.5" cy="2251.3" r="14.4" fill="url(#gH)"/>
<circle cx="152.9" cy="2161.8" r="10.2" fill="url(#gM)"/>
<circle cx="142.8" cy="2183.5" r="10.2" fill="url(#gM)"/>
<circle cx="125.2" cy="2193.6" r="10.2" fill="url(#gM)"/>
<circle cx="144.8" cy="2208.0" r="10.2" fill="url(#gM)"/>
<circle cx="140.5" cy="2235.4" r="11.2" fill="url(#gM)"/>
<circle cx="197.4" cy="2203.7" r="12.2" fill="url(#gM)"/>
<circle cx="218.4" cy="2210.9" r="11.7" fill="url(#gM)"/>
<circle cx="101.5" cy="2251.3" r="9.2" fill="url(#gM)"/>
<path d="M157.9 2167.0h0.1M148.8 2158.7h0.1M158.4 2169.2h0.1M147.8 2185.9h0.1M150.2 2181.0h0.1M137.8 2188.9h0.1M122.0 2188.3h0.1M130.7 2200.1h0.1M121.7 2187.2h0.1M147.8 2201.2h0.1M150.7 2207.3h0.1M138.0 2205.6h0.1M135.4 2242.1h0.1M141.4 2244.8h0.1M144.6 2230.9h0.1M190.1 2205.2h0.1M206.8 2209.1h0.1M191.3 2206.6h0.1M215.3 2204.9h0.1M224.0 2206.9h0.1M225.0 2212.3h0.1M97.9 2256.6h0.1M107.6 2247.2h0.1M99.1 2255.2h0.1" stroke="#40d040" stroke-width="2.2" stroke-linecap="round" opacity="0.85"/>
</g></g>
<g clip-path="url(#ce02)"><g filter="url(#soft2)">
<circle cx="152.9" cy="2299.2" r="10.2" fill="url(#gD)"/>
<circle cx="142.8" cy="2320.9" r="10.2" fill="url(#gD)"/>
<circle cx="125.2" cy="2331.0" r="10.2" fill="url(#gD)"/>
<circle cx="144.8" cy="2345.4" r="10.2" fill="url(#gD)"/>
<circle cx="140.5" cy="2372.8" r="11.2" fill="url(#gD)"/>
<circle cx="197.4" cy="2341.1" r="12.2" fill="url(#gD)"/>
<circle cx="218.4" cy="2348.3" r="11.7" fill="url(#gD)"/>
<circle cx="101.5" cy="2388.7" r="9.2" fill="url(#gD)"/>
</g></g>
<g clip-path="url(#ce03)"><g filter="url(#soft2)">
<circle cx="152.9" cy="2436.6" r="16.0" fill="url(#gH)"/>
<circle cx="142.8" cy="2458.3" r="16.0" fill="url(#gH)"/>
<circle cx="125.2" cy="2468.4" r="16.0" fill="url(#gH)"/>
<circle cx="144.8" cy="2482.8" r="16.0" fill="url(#gH)"/>
<circle cx="140.5" cy="2510.2" r="17.6" fill="url(#gH)"/>
<circle cx="197.4" cy="2478.5" r="19.2" fill="url(#gH)"/>
<circle cx="218.4" cy="2485.7" r="18.4" fill="url(#gH)"/>
<circle cx="101.5" cy="2526.1" r="14.4" fill="url(#gH)"/>
<circle cx="152.9" cy="2436.6" r="10.2" fill="url(#gG)"/>
<circle cx="142.8" cy="2458.3" r="10.2" fill="url(#gG)"/>
<circle cx="125.2" cy="2468.4" r="10.2" fill="url(#gG)"/>
<circle cx="144.8" cy="2482.8" r="10.2" fill="url(#gG)"/>
<circle cx="140.5" cy="2510.2" r="11.2" fill="url(#gG)"/>
<circle cx="197.4" cy="2478.5" r="12.2" fill="url(#gG)"/>
<circle cx="218.4" cy="2485.7" r="11.7" fill="url(#gG)"/>
<circle cx="101.5" cy="2526.1" r="9.2" fill="url(#gG)"/>
<path d="M158.0 2444.6h0.1M145.0 2438.6h0.1M157.8 2438.3h0.1M147.1 2452.0h0.1M140.5 2464.3h0.1M147.7 2461.4h0.1M133.9 2469.8h0.1M119.8 2469.6h0.1M124.8 2462.5h0.1M151.9 2485.7h0.1M148.9 2479.7h0.1M146.8 2477.3h0.1M145.2 2513.3h0.1M138.1 2519.0h0.1M130.8 2510.6h0.1M199.0 2486.0h0.1M196.8 2489.8h0.1M204.7 2475.7h0.1M211.6 2488.6h0.1M218.3 2479.7h0.1M225.5 2488.9h0.1M101.7 2534.0h0.1M101.2 2519.4h0.1M97.6 2519.9h0.1" stroke="#40d040" stroke-width="2.2" stroke-linecap="round" opacity="0.7"/>
</g></g>
<rect x="237.8" y="1990.8" width="133.7" height="134" fill="#000"/>
<rect x="237.8" y="2128.2" width="133.7" height="134" fill="#000"/>
<rect x="237.8" y="2265.6" width="133.7" height="134" fill="#000"/>
<rect x="237.8" y="2403.0" width="133.7" height="134" fill="#000"/>
<g clip-path="url(#ce10)">
<circle cx="303.6" cy="2016.1" r="3.5" fill="url(#gS)"/>
<circle cx="300.7" cy="2024.7" r="3.5" fill="url(#gS)"/>
<circle cx="320.9" cy="2006.6" r="3.5" fill="url(#gS)"/>
<circle cx="328.1" cy="2006.6" r="3.5" fill="url(#gS)"/>
<circle cx="335.3" cy="2027.6" r="3.5" fill="url(#gS)"/>
<circle cx="279.0" cy="2049.3" r="3.5" fill="url(#gS)"/>
<circle cx="283.4" cy="2056.5" r="3.5" fill="url(#gS)"/>
<circle cx="280.5" cy="2066.6" r="3.5" fill="url(#gS)"/>
<circle cx="266.0" cy="2066.6" r="3.5" fill="url(#gS)"/>
<circle cx="320.9" cy="2056.5" r="3.5" fill="url(#gS)"/>
<circle cx="320.9" cy="2065.1" r="3.5" fill="url(#gS)"/>
<circle cx="345.4" cy="2050.7" r="3.5" fill="url(#gS)"/>
<circle cx="357.0" cy="2043.5" r="3.5" fill="url(#gS)"/>
<circle cx="361.3" cy="2049.3" r="3.5" fill="url(#gS)"/>
<circle cx="359.8" cy="2055.6" r="3.5" fill="url(#gS)"/>
<circle cx="263.2" cy="2082.5" r="3.5" fill="url(#gS)"/>
<circle cx="254.5" cy="2089.7" r="3.5" fill="url(#gS)"/>
<circle cx="253.1" cy="2099.8" r="3.5" fill="url(#gS)"/>
<circle cx="309.3" cy="2082.5" r="3.5" fill="url(#gS)"/>
<circle cx="305.0" cy="2079.6" r="3.5" fill="url(#gS)"/>
</g>
<path d="M257.7,2036.9H297.2V2076.1H257.7Z" fill="none" stroke="#fff" stroke-width="1.3" stroke-dasharray="2.2,1.4"/>
<path d="M257.7,2076.1L239.3,2123.8M297.2,2076.1L370.0,2123.8" fill="none" stroke="#fff" stroke-width="1.1" stroke-dasharray="2.2,1.4"/>
<g clip-path="url(#ce11)"><g filter="url(#soft2)">
<circle cx="316.5" cy="2163.3" r="17.6" fill="url(#gH)"/>
<circle cx="329.0" cy="2187.8" r="19.2" fill="url(#gH)"/>
<circle cx="319.4" cy="2221.0" r="16.0" fill="url(#gH)"/>
<circle cx="271.8" cy="2225.3" r="16.0" fill="url(#gH)"/>
<circle cx="316.5" cy="2163.3" r="11.2" fill="url(#gM)"/>
<circle cx="329.0" cy="2187.8" r="12.2" fill="url(#gM)"/>
<circle cx="319.4" cy="2221.0" r="10.2" fill="url(#gM)"/>
<circle cx="271.8" cy="2225.3" r="10.2" fill="url(#gM)"/>
<path d="M318.5 2153.4h0.1M321.6 2170.2h0.1M321.3 2169.3h0.1M331.4 2177.2h0.1M329.4 2181.6h0.1M324.6 2193.1h0.1M325.0 2221.0h0.1M319.6 2227.6h0.1M327.7 2224.3h0.1M268.1 2221.0h0.1M266.4 2225.4h0.1M267.2 2221.4h0.1" stroke="#40d040" stroke-width="2.2" stroke-linecap="round" opacity="0.85"/>
</g></g>
<g clip-path="url(#ce12)"><g filter="url(#soft2)">
<circle cx="316.5" cy="2300.7" r="11.2" fill="url(#gD)"/>
<circle cx="329.0" cy="2325.2" r="12.2" fill="url(#gD)"/>
<circle cx="319.4" cy="2358.4" r="10.2" fill="url(#gD)"/>
<circle cx="271.8" cy="2362.7" r="10.2" fill="url(#gD)"/>
</g></g>
<g clip-path="url(#ce13)"><g filter="url(#soft2)">
<circle cx="316.5" cy="2438.1" r="17.6" fill="url(#gH)"/>
<circle cx="329.0" cy="2462.6" r="19.2" fill="url(#gH)"/>
<circle cx="319.4" cy="2495.8" r="16.0" fill="url(#gH)"/>
<circle cx="271.8" cy="2500.1" r="16.0" fill="url(#gH)"/>
<circle cx="316.5" cy="2438.1" r="11.2" fill="url(#gG)"/>
<circle cx="329.0" cy="2462.6" r="12.2" fill="url(#gG)"/>
<circle cx="319.4" cy="2495.8" r="10.2" fill="url(#gG)"/>
<circle cx="271.8" cy="2500.1" r="10.2" fill="url(#gG)"/>
<path d="M322.4 2439.6h0.1M308.4 2435.2h0.1M312.6 2445.8h0.1M325.0 2468.0h0.1M325.8 2470.1h0.1M334.7 2459.1h0.1M325.9 2499.7h0.1M328.2 2493.7h0.1M317.8 2490.8h0.1M274.6 2492.5h0.1M276.2 2505.7h0.1M280.0 2502.7h0.1" stroke="#40d040" stroke-width="2.2" stroke-linecap="round" opacity="0.7"/>
</g></g>
<rect x="375.5" y="1990.8" width="133.7" height="134" fill="#000"/>
<rect x="375.5" y="2128.2" width="133.7" height="134" fill="#000"/>
<rect x="375.5" y="2265.6" width="133.7" height="134" fill="#000"/>
<rect x="375.5" y="2403.0" width="133.7" height="134" fill="#000"/>
<g clip-path="url(#ce20)">
<circle cx="403.1" cy="2003.7" r="3.5" fill="url(#gS)"/>
<circle cx="416.1" cy="2010.3" r="3.5" fill="url(#gS)"/>
<circle cx="430.5" cy="2007.4" r="3.5" fill="url(#gS)"/>
<circle cx="424.8" cy="1998.8" r="3.5" fill="url(#gS)"/>
<circle cx="427.7" cy="2023.3" r="3.5" fill="url(#gS)"/>
<circle cx="433.4" cy="2021.8" r="3.5" fill="url(#gS)"/>
<circle cx="430.5" cy="2030.5" r="3.5" fill="url(#gS)"/>
<circle cx="436.3" cy="2030.5" r="3.5" fill="url(#gS)"/>
<circle cx="443.5" cy="2033.4" r="3.5" fill="url(#gS)"/>
<circle cx="434.9" cy="2037.7" r="3.5" fill="url(#gS)"/>
<circle cx="440.6" cy="2042.0" r="3.5" fill="url(#gS)"/>
<circle cx="410.3" cy="2040.6" r="3.5" fill="url(#gS)"/>
<circle cx="414.7" cy="2043.5" r="3.5" fill="url(#gS)"/>
<circle cx="407.5" cy="2049.3" r="3.5" fill="url(#gS)"/>
<circle cx="424.8" cy="2042.0" r="3.5" fill="url(#gS)"/>
<circle cx="456.5" cy="2016.1" r="3.5" fill="url(#gS)"/>
<circle cx="393.0" cy="2056.5" r="3.5" fill="url(#gS)"/>
<circle cx="429.1" cy="2056.5" r="3.5" fill="url(#gS)"/>
<circle cx="420.4" cy="2063.7" r="3.5" fill="url(#gS)"/>
<circle cx="406.0" cy="2066.6" r="3.5" fill="url(#gS)"/>
<circle cx="413.2" cy="2079.6" r="3.5" fill="url(#gS)"/>
<circle cx="406.0" cy="2083.9" r="3.5" fill="url(#gS)"/>
<circle cx="400.2" cy="2086.8" r="3.5" fill="url(#gS)"/>
<circle cx="398.8" cy="2092.6" r="3.5" fill="url(#gS)"/>
<circle cx="406.0" cy="2098.3" r="3.5" fill="url(#gS)"/>
<circle cx="439.2" cy="2076.7" r="3.5" fill="url(#gS)"/>
<circle cx="447.9" cy="2109.9" r="3.5" fill="url(#gS)"/>
<circle cx="491.2" cy="2001.6" r="3.5" fill="url(#gS)"/>
<circle cx="488.3" cy="2049.3" r="3.5" fill="url(#gS)"/>
<circle cx="494.0" cy="2049.3" r="3.5" fill="url(#gS)"/>
<circle cx="499.8" cy="2049.3" r="3.5" fill="url(#gS)"/>
<circle cx="505.6" cy="2050.7" r="3.5" fill="url(#gS)"/>
<circle cx="482.5" cy="2062.3" r="3.5" fill="url(#gS)"/>
<circle cx="491.2" cy="2055.0" r="3.5" fill="url(#gS)"/>
<circle cx="499.8" cy="2056.5" r="3.5" fill="url(#gS)"/>
<circle cx="502.7" cy="2068.0" r="3.5" fill="url(#gS)"/>
<circle cx="499.8" cy="2098.3" r="3.5" fill="url(#gS)"/>
<circle cx="504.1" cy="2102.7" r="3.5" fill="url(#gS)"/>
<circle cx="381.5" cy="2095.4" r="3.5" fill="url(#gS)"/>
<circle cx="478.2" cy="2121.4" r="3.5" fill="url(#gS)"/>
</g>
<path d="M386.7,2069.2H426.5V2108.7H386.7Z" fill="none" stroke="#fff" stroke-width="1.3" stroke-dasharray="2.2,1.4"/>
<path d="M386.7,2108.7L377.0,2123.8M426.5,2108.7L507.7,2123.8" fill="none" stroke="#fff" stroke-width="1.1" stroke-dasharray="2.2,1.4"/>
<g clip-path="url(#ce21)"><g filter="url(#soft2)">
<circle cx="473.3" cy="2164.7" r="19.2" fill="url(#gH)"/>
<circle cx="449.3" cy="2179.1" r="17.6" fill="url(#gH)"/>
<circle cx="427.7" cy="2183.5" r="17.6" fill="url(#gH)"/>
<circle cx="423.3" cy="2212.3" r="16.8" fill="url(#gH)"/>
<circle cx="449.3" cy="2229.6" r="16.0" fill="url(#gH)"/>
<circle cx="473.3" cy="2164.7" r="12.2" fill="url(#gM)"/>
<circle cx="449.3" cy="2179.1" r="11.2" fill="url(#gM)"/>
<circle cx="427.7" cy="2183.5" r="11.2" fill="url(#gM)"/>
<circle cx="423.3" cy="2212.3" r="10.7" fill="url(#gM)"/>
<circle cx="449.3" cy="2229.6" r="10.2" fill="url(#gM)"/>
<path d="M471.3 2154.6h0.1M473.8 2157.3h0.1M475.1 2157.6h0.1M454.1 2184.8h0.1M442.4 2179.2h0.1M442.6 2173.9h0.1M428.2 2192.1h0.1M422.0 2190.6h0.1M425.3 2192.7h0.1M416.5 2216.3h0.1M419.7 2205.5h0.1M422.8 2222.2h0.1M454.6 2233.3h0.1M444.4 2228.0h0.1M454.1 2236.7h0.1" stroke="#40d040" stroke-width="2.2" stroke-linecap="round" opacity="0.85"/>
</g></g>
<g clip-path="url(#ce22)"><g filter="url(#soft2)">
<circle cx="473.3" cy="2302.1" r="12.2" fill="url(#gD)"/>
<circle cx="449.3" cy="2316.5" r="11.2" fill="url(#gD)"/>
<circle cx="427.7" cy="2320.9" r="11.2" fill="url(#gD)"/>
<circle cx="423.3" cy="2349.7" r="10.7" fill="url(#gD)"/>
<circle cx="449.3" cy="2367.0" r="10.2" fill="url(#gD)"/>
</g></g>
<g clip-path="url(#ce23)"><g filter="url(#soft2)">
<circle cx="473.3" cy="2439.5" r="19.2" fill="url(#gH)"/>
<circle cx="449.3" cy="2453.9" r="17.6" fill="url(#gH)"/>
<circle cx="427.7" cy="2458.3" r="17.6" fill="url(#gH)"/>
<circle cx="423.3" cy="2487.1" r="16.8" fill="url(#gH)"/>
<circle cx="449.3" cy="2504.4" r="16.0" fill="url(#gH)"/>
<circle cx="473.3" cy="2439.5" r="12.2" fill="url(#gG)"/>
<circle cx="449.3" cy="2453.9" r="11.2" fill="url(#gG)"/>
<circle cx="427.7" cy="2458.3" r="11.2" fill="url(#gG)"/>
<circle cx="423.3" cy="2487.1" r="10.7" fill="url(#gG)"/>
<circle cx="449.3" cy="2504.4" r="10.2" fill="url(#gG)"/>
<path d="M475.3 2430.3h0.1M481.5 2433.7h0.1M470.4 2448.5h0.1M444.4 2461.7h0.1M444.6 2458.0h0.1M455.7 2447.7h0.1M427.4 2450.0h0.1M429.3 2450.7h0.1M422.4 2456.0h0.1M414.7 2484.0h0.1M420.8 2478.4h0.1M413.9 2487.3h0.1M456.2 2510.0h0.1M445.6 2508.3h0.1M444.1 2499.6h0.1" stroke="#40d040" stroke-width="2.2" stroke-linecap="round" opacity="0.7"/>
</g></g>
<rect x="513.2" y="1990.8" width="133.7" height="134" fill="#000"/>
<rect x="513.2" y="2128.2" width="133.7" height="134" fill="#000"/>
<rect x="513.2" y="2265.6" width="133.7" height="134" fill="#000"/>
<rect x="513.2" y="2403.0" width="133.7" height="134" fill="#000"/>
<g clip-path="url(#ce30)">
<circle cx="615.8" cy="2029.3" r="3.5" fill="url(#gS)"/>
<circle cx="622.8" cy="2029.3" r="3.5" fill="url(#gS)"/>
<circle cx="621.8" cy="2036.4" r="3.5" fill="url(#gS)"/>
<circle cx="603.7" cy="2042.4" r="3.5" fill="url(#gS)"/>
<circle cx="610.7" cy="2044.4" r="3.5" fill="url(#gS)"/>
<circle cx="566.4" cy="2027.9" r="3.5" fill="url(#gS)"/>
<circle cx="525.2" cy="2050.9" r="3.5" fill="url(#gS)"/>
<circle cx="542.3" cy="2057.5" r="3.5" fill="url(#gS)"/>
<circle cx="609.7" cy="2067.0" r="3.5" fill="url(#gS)"/>
<circle cx="528.2" cy="2092.1" r="3.5" fill="url(#gS)"/>
<circle cx="527.2" cy="2101.8" r="3.5" fill="url(#gS)"/>
<circle cx="545.3" cy="2096.4" r="3.5" fill="url(#gS)"/>
<circle cx="553.4" cy="2094.8" r="3.5" fill="url(#gS)"/>
<circle cx="598.7" cy="2088.3" r="3.5" fill="url(#gS)"/>
<circle cx="606.3" cy="2087.1" r="3.5" fill="url(#gS)"/>
<circle cx="607.1" cy="2094.0" r="3.5" fill="url(#gS)"/>
<circle cx="593.6" cy="2097.8" r="3.5" fill="url(#gS)"/>
<circle cx="599.7" cy="2103.8" r="3.5" fill="url(#gS)"/>
<circle cx="610.7" cy="1993.1" r="3.5" fill="url(#gS)"/>
<circle cx="616.8" cy="1992.1" r="3.5" fill="url(#gS)"/>
</g>
<path d="M594.2,2016.6H634.3V2056.5H594.2Z" fill="none" stroke="#fff" stroke-width="1.3" stroke-dasharray="2.2,1.4"/>
<path d="M594.2,2056.5L514.7,2123.8M634.3,2056.5L645.4,2123.8" fill="none" stroke="#fff" stroke-width="1.1" stroke-dasharray="2.2,1.4"/>
<g clip-path="url(#ce31)"><g filter="url(#soft2)">
<circle cx="582.9" cy="2168.2" r="17.6" fill="url(#gH)"/>
<circle cx="609.7" cy="2168.2" r="17.6" fill="url(#gH)"/>
<circle cx="604.7" cy="2191.4" r="17.6" fill="url(#gH)"/>
<circle cx="543.3" cy="2215.6" r="17.6" fill="url(#gH)"/>
<circle cx="567.4" cy="2218.6" r="17.6" fill="url(#gH)"/>
<circle cx="582.9" cy="2168.2" r="11.2" fill="url(#gM)"/>
<circle cx="609.7" cy="2168.2" r="11.2" fill="url(#gM)"/>
<circle cx="604.7" cy="2191.4" r="11.2" fill="url(#gM)"/>
<circle cx="543.3" cy="2215.6" r="11.2" fill="url(#gM)"/>
<circle cx="567.4" cy="2218.6" r="11.2" fill="url(#gM)"/>
<path d="M574.2 2172.4h0.1M588.4 2174.7h0.1M575.9 2172.4h0.1M603.5 2168.2h0.1M600.0 2167.5h0.1M612.3 2173.1h0.1M611.8 2194.6h0.1M610.3 2190.5h0.1M612.8 2190.9h0.1M548.8 2220.8h0.1M545.7 2224.3h0.1M536.6 2213.8h0.1M567.1 2228.4h0.1M568.2 2211.0h0.1M559.8 2223.7h0.1" stroke="#40d040" stroke-width="2.2" stroke-linecap="round" opacity="0.85"/>
</g></g>
<g clip-path="url(#ce32)"><g filter="url(#soft2)">
<circle cx="582.9" cy="2305.6" r="11.2" fill="url(#gD)"/>
<circle cx="609.7" cy="2305.6" r="11.2" fill="url(#gD)"/>
<circle cx="604.7" cy="2328.8" r="11.2" fill="url(#gD)"/>
<circle cx="543.3" cy="2353.0" r="11.2" fill="url(#gD)"/>
<circle cx="567.4" cy="2356.0" r="11.2" fill="url(#gD)"/>
</g></g>
<g clip-path="url(#ce33)"><g filter="url(#soft2)">
<circle cx="582.9" cy="2443.0" r="17.6" fill="url(#gH)"/>
<circle cx="609.7" cy="2443.0" r="17.6" fill="url(#gH)"/>
<circle cx="604.7" cy="2466.2" r="17.6" fill="url(#gH)"/>
<circle cx="543.3" cy="2490.4" r="17.6" fill="url(#gH)"/>
<circle cx="567.4" cy="2493.4" r="17.6" fill="url(#gH)"/>
<circle cx="582.9" cy="2443.0" r="11.2" fill="url(#gG)"/>
<circle cx="609.7" cy="2443.0" r="11.2" fill="url(#gG)"/>
<circle cx="604.7" cy="2466.2" r="11.2" fill="url(#gG)"/>
<circle cx="543.3" cy="2490.4" r="11.2" fill="url(#gG)"/>
<circle cx="567.4" cy="2493.4" r="11.2" fill="url(#gG)"/>
<path d="M588.7 2441.9h0.1M586.8 2449.1h0.1M577.1 2442.7h0.1M615.9 2445.2h0.1M602.8 2449.0h0.1M605.3 2439.4h0.1M612.1 2468.4h0.1M611.8 2459.1h0.1M598.2 2473.6h0.1M550.1 2487.2h0.1M543.1 2483.1h0.1M548.1 2497.3h0.1M574.9 2497.9h0.1M571.0 2484.1h0.1M561.6 2495.4h0.1" stroke="#40d040" stroke-width="2.2" stroke-linecap="round" opacity="0.7"/>
</g></g>
<rect x="650.9" y="1990.8" width="133.7" height="134" fill="#000"/>
<rect x="650.9" y="2128.2" width="133.7" height="134" fill="#000"/>
<rect x="650.9" y="2265.6" width="133.7" height="134" fill="#000"/>
<rect x="650.9" y="2403.0" width="133.7" height="134" fill="#000"/>
<g clip-path="url(#ce40)">
<circle cx="744.6" cy="2017.8" r="3.5" fill="url(#gS)"/>
<circle cx="751.7" cy="2020.3" r="3.5" fill="url(#gS)"/>
<circle cx="758.7" cy="2020.3" r="3.5" fill="url(#gS)"/>
<circle cx="763.7" cy="2025.9" r="3.5" fill="url(#gS)"/>
<circle cx="741.6" cy="2025.9" r="3.5" fill="url(#gS)"/>
<circle cx="748.6" cy="2025.9" r="3.5" fill="url(#gS)"/>
<circle cx="753.7" cy="2036.0" r="3.5" fill="url(#gS)"/>
<circle cx="662.1" cy="2016.2" r="3.5" fill="url(#gS)"/>
<circle cx="667.1" cy="2012.2" r="3.5" fill="url(#gS)"/>
<circle cx="663.1" cy="2021.3" r="3.5" fill="url(#gS)"/>
<circle cx="669.1" cy="2025.3" r="3.5" fill="url(#gS)"/>
<circle cx="709.4" cy="2012.2" r="3.5" fill="url(#gS)"/>
<circle cx="707.4" cy="2019.3" r="3.5" fill="url(#gS)"/>
<circle cx="677.2" cy="2040.8" r="3.5" fill="url(#gS)"/>
<circle cx="679.2" cy="2044.4" r="3.5" fill="url(#gS)"/>
<circle cx="763.7" cy="2058.5" r="3.5" fill="url(#gS)"/>
<circle cx="769.8" cy="2061.5" r="3.5" fill="url(#gS)"/>
<circle cx="708.4" cy="2079.1" r="3.5" fill="url(#gS)"/>
<circle cx="702.3" cy="2084.7" r="3.5" fill="url(#gS)"/>
<circle cx="706.4" cy="2085.7" r="3.5" fill="url(#gS)"/>
<circle cx="703.3" cy="2090.3" r="3.5" fill="url(#gS)"/>
<circle cx="736.6" cy="2079.7" r="3.5" fill="url(#gS)"/>
<circle cx="741.6" cy="2082.7" r="3.5" fill="url(#gS)"/>
<circle cx="742.6" cy="2088.7" r="3.5" fill="url(#gS)"/>
<circle cx="737.6" cy="2091.7" r="3.5" fill="url(#gS)"/>
<circle cx="731.5" cy="2095.8" r="3.5" fill="url(#gS)"/>
<circle cx="725.5" cy="2096.8" r="3.5" fill="url(#gS)"/>
<circle cx="723.5" cy="2102.8" r="3.5" fill="url(#gS)"/>
<circle cx="729.5" cy="2100.8" r="3.5" fill="url(#gS)"/>
<circle cx="729.5" cy="2106.8" r="3.5" fill="url(#gS)"/>
</g>
<path d="M732.5,2007.2H772.8V2047H732.5Z" fill="none" stroke="#fff" stroke-width="1.3" stroke-dasharray="2.2,1.4"/>
<path d="M732.5,2047L652.4,2123.8M772.8,2047L783.1,2123.8" fill="none" stroke="#fff" stroke-width="1.1" stroke-dasharray="2.2,1.4"/>
<g clip-path="url(#ce41)"><g filter="url(#soft2)">
<circle cx="695.3" cy="2167.2" r="17.6" fill="url(#gH)"/>
<circle cx="719.5" cy="2171.3" r="17.6" fill="url(#gH)"/>
<circle cx="740.6" cy="2172.3" r="17.6" fill="url(#gH)"/>
<circle cx="682.2" cy="2190.4" r="17.6" fill="url(#gH)"/>
<circle cx="705.0" cy="2190.4" r="18.4" fill="url(#gH)"/>
<circle cx="757.7" cy="2191.4" r="16.8" fill="url(#gH)"/>
<circle cx="722.5" cy="2226.6" r="16.8" fill="url(#gH)"/>
<circle cx="695.3" cy="2167.2" r="11.2" fill="url(#gM)"/>
<circle cx="719.5" cy="2171.3" r="11.2" fill="url(#gM)"/>
<circle cx="740.6" cy="2172.3" r="11.2" fill="url(#gM)"/>
<circle cx="682.2" cy="2190.4" r="11.2" fill="url(#gM)"/>
<circle cx="705.0" cy="2190.4" r="11.7" fill="url(#gM)"/>
<circle cx="757.7" cy="2191.4" r="10.7" fill="url(#gM)"/>
<circle cx="722.5" cy="2226.6" r="10.7" fill="url(#gM)"/>
<path d="M703.3 2161.6h0.1M703.6 2165.5h0.1M691.9 2160.7h0.1M722.3 2177.6h0.1M718.2 2164.3h0.1M716.6 2163.8h0.1M730.8 2175.5h0.1M744.6 2179.1h0.1M746.0 2180.9h0.1M675.1 2190.9h0.1M686.3 2197.8h0.1M677.3 2194.0h0.1M712.6 2192.0h0.1M697.7 2186.2h0.1M713.5 2184.2h0.1M766.0 2187.9h0.1M750.1 2192.5h0.1M752.0 2195.7h0.1M731.2 2228.9h0.1M722.6 2232.0h0.1M714.0 2228.4h0.1" stroke="#40d040" stroke-width="2.2" stroke-linecap="round" opacity="0.85"/>
</g></g>
<g clip-path="url(#ce42)"><g filter="url(#soft2)">
<circle cx="695.3" cy="2304.6" r="11.2" fill="url(#gD)"/>
<circle cx="719.5" cy="2308.7" r="11.2" fill="url(#gD)"/>
<circle cx="740.6" cy="2309.7" r="11.2" fill="url(#gD)"/>
<circle cx="682.2" cy="2327.8" r="11.2" fill="url(#gD)"/>
<circle cx="705.0" cy="2327.8" r="11.7" fill="url(#gD)"/>
<circle cx="757.7" cy="2328.8" r="10.7" fill="url(#gD)"/>
<circle cx="722.5" cy="2364.0" r="10.7" fill="url(#gD)"/>
</g></g>
<g clip-path="url(#ce43)"><g filter="url(#soft2)">
<circle cx="695.3" cy="2442.0" r="17.6" fill="url(#gH)"/>
<circle cx="719.5" cy="2446.1" r="17.6" fill="url(#gH)"/>
<circle cx="740.6" cy="2447.1" r="17.6" fill="url(#gH)"/>
<circle cx="682.2" cy="2465.2" r="17.6" fill="url(#gH)"/>
<circle cx="705.0" cy="2465.2" r="18.4" fill="url(#gH)"/>
<circle cx="757.7" cy="2466.2" r="16.8" fill="url(#gH)"/>
<circle cx="722.5" cy="2501.4" r="16.8" fill="url(#gH)"/>
<circle cx="695.3" cy="2442.0" r="11.2" fill="url(#gG)"/>
<circle cx="719.5" cy="2446.1" r="11.2" fill="url(#gG)"/>
<circle cx="740.6" cy="2447.1" r="11.2" fill="url(#gG)"/>
<circle cx="682.2" cy="2465.2" r="11.2" fill="url(#gG)"/>
<circle cx="705.0" cy="2465.2" r="11.7" fill="url(#gG)"/>
<circle cx="757.7" cy="2466.2" r="10.7" fill="url(#gG)"/>
<circle cx="722.5" cy="2501.4" r="10.7" fill="url(#gG)"/>
<path d="M688.6 2444.9h0.1M691.9 2436.7h0.1M703.7 2442.6h0.1M709.9 2444.2h0.1M711.4 2450.8h0.1M725.1 2446.7h0.1M735.2 2443.3h0.1M746.2 2449.6h0.1M735.5 2452.2h0.1M673.1 2461.3h0.1M677.9 2470.0h0.1M677.3 2462.6h0.1M699.5 2470.1h0.1M700.4 2469.1h0.1M696.5 2462.2h0.1M757.7 2456.4h0.1M752.6 2472.8h0.1M751.8 2468.4h0.1M729.2 2495.8h0.1M731.0 2498.2h0.1M727.6 2498.5h0.1" stroke="#40d040" stroke-width="2.2" stroke-linecap="round" opacity="0.7"/>
</g></g>
<rect x="743" y="2110.5" width="25.2" height="5.6" fill="#fff"/>
<rect x="734" y="2383" width="42.4" height="5.5" fill="#fff"/>
<text x="1.60" y="1953.50" font-size="55.00" fill="#000" >e</text>
<text x="108.78" y="1971.20" font-size="32.89" fill="#000" >Control</text>
<text x="252.38" y="1971.20" font-size="32.95" fill="#000" >d-SMG</text>
<text x="390.95" y="1971.20" font-size="32.80" fill="#000" >s-GAG</text>
<text x="544.3" y="1968.5" font-size="33">Alg<tspan font-size="19.5" dy="-12.5">TM</tspan></text>
<text x="687.12" y="1971.20" font-size="32.26" fill="#000" >IL-4</text>
<text transform="translate(47.60,2101.11) rotate(-90)" font-size="32.75" fill="#000">Merged</text>
<text transform="translate(47.60,2373.15) rotate(-90)" font-size="33.30" fill="#000">Inset</text>
<text transform="translate(92.80,2243.93) rotate(-90)" font-size="25.65" fill="#000">Merged</text>
<text transform="translate(92.80,2359.96) rotate(-90)" font-size="26.12" fill="#1f2f9a">DAPI</text>
<text transform="translate(92.80,2510.94) rotate(-90)" font-size="26.11" fill="#35ad3a">CD206</text>
<rect x="56.6" y="2201.5" width="2.3" height="293.7" fill="#2a1a1a"/></svg></body></html>
